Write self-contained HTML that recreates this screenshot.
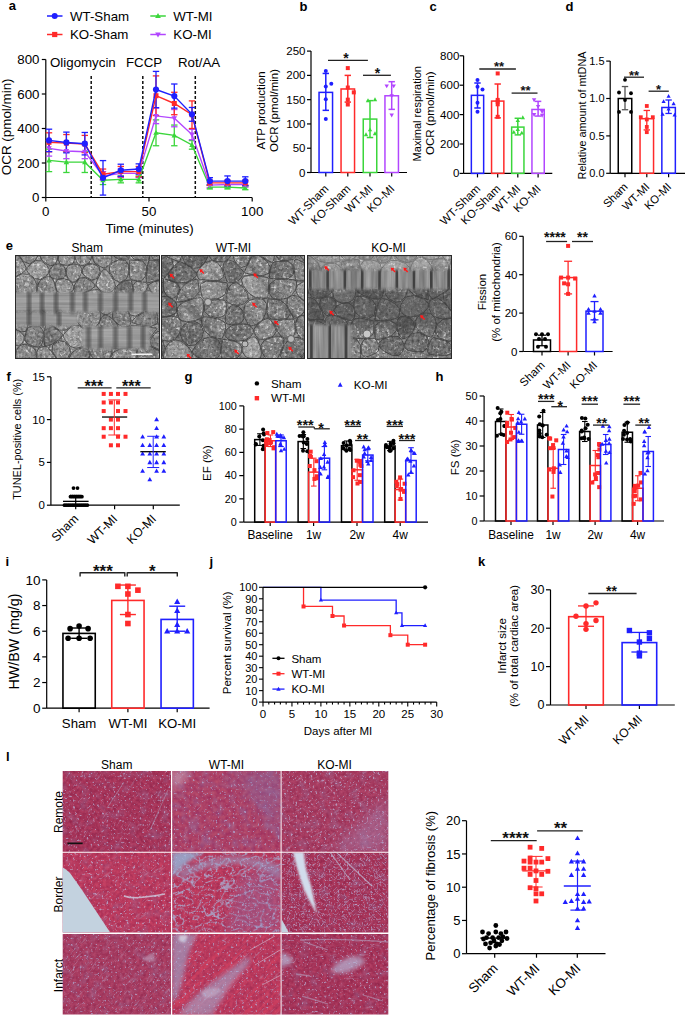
<!DOCTYPE html>
<html><head><meta charset="utf-8"><style>
html,body{margin:0;padding:0;background:#fff;overflow:hidden;width:685px;height:1016px;}
svg{display:block;font-family:"Liberation Sans", sans-serif;}
</style></head><body>
<svg width="685" height="1016" viewBox="0 0 685 1016">
<defs><filter id="emG1" x="0" y="0" width="100%" height="100%" filterUnits="objectBoundingBox" color-interpolation-filters="sRGB"><feTurbulence type="fractalNoise" baseFrequency="0.35" numOctaves="2" seed="3"/><feColorMatrix type="matrix" values="0.500 0 0 0 0.410 0.500 0 0 0 0.410 0.500 0 0 0 0.410 0 0 0 0 1.0"/></filter><filter id="emG2" x="0" y="0" width="100%" height="100%" filterUnits="objectBoundingBox" color-interpolation-filters="sRGB"><feTurbulence type="fractalNoise" baseFrequency="0.35" numOctaves="2" seed="11"/><feColorMatrix type="matrix" values="0.500 0 0 0 0.380 0.500 0 0 0 0.380 0.500 0 0 0 0.380 0 0 0 0 1.0"/></filter><filter id="emG3" x="0" y="0" width="100%" height="100%" filterUnits="objectBoundingBox" color-interpolation-filters="sRGB"><feTurbulence type="fractalNoise" baseFrequency="0.35" numOctaves="2" seed="17"/><feColorMatrix type="matrix" values="0.500 0 0 0 0.350 0.500 0 0 0 0.350 0.500 0 0 0 0.350 0 0 0 0 1.0"/></filter><filter id="emLow" x="0" y="0" width="100%" height="100%" filterUnits="objectBoundingBox" color-interpolation-filters="sRGB"><feTurbulence type="fractalNoise" baseFrequency="0.05" numOctaves="2" seed="9"/><feColorMatrix type="matrix" values="0.900 0 0 0 0.050 0.900 0 0 0 0.050 0.900 0 0 0 0.050 0 0 0 0 0.35"/></filter><filter id="emSpk" x="0" y="0" width="100%" height="100%" filterUnits="objectBoundingBox" color-interpolation-filters="sRGB"><feTurbulence type="fractalNoise" baseFrequency="0.3" numOctaves="2" seed="41"/><feColorMatrix type="matrix" values="0 0 0 0 0.92 0 0 0 0 0.92 0 0 0 0 0.92 6 0 0 0 -3.600"/><feComponentTransfer><feFuncA type="linear" slope="0.65" intercept="0"/></feComponentTransfer><feGaussianBlur stdDeviation="0.6"/></filter><filter id="emDk" x="0" y="0" width="100%" height="100%" filterUnits="objectBoundingBox" color-interpolation-filters="sRGB"><feTurbulence type="fractalNoise" baseFrequency="0.45" numOctaves="2" seed="42"/><feColorMatrix type="matrix" values="0 0 0 0 0.25 0 0 0 0 0.25 0 0 0 0 0.25 6 0 0 0 -3.840"/><feComponentTransfer><feFuncA type="linear" slope="0.45" intercept="0"/></feComponentTransfer><feGaussianBlur stdDeviation="0.4"/></filter><filter id="emBand" x="0" y="0" width="100%" height="100%" filterUnits="objectBoundingBox" color-interpolation-filters="sRGB"><feTurbulence type="fractalNoise" baseFrequency="0.015 0.35" numOctaves="2" seed="5"/><feColorMatrix type="matrix" values="0.220 0 0 0 0.490 0.220 0 0 0 0.490 0.220 0 0 0 0.490 0 0 0 0 1.0"/></filter><filter id="emBandV" x="0" y="0" width="100%" height="100%" filterUnits="objectBoundingBox" color-interpolation-filters="sRGB"><feTurbulence type="fractalNoise" baseFrequency="0.35 0.02" numOctaves="2" seed="6"/><feColorMatrix type="matrix" values="0.300 0 0 0 0.400 0.300 0 0 0 0.400 0.300 0 0 0 0.400 0 0 0 0 1.0"/></filter><filter id="blur05" x="-20%" y="-20%" width="140%" height="140%"><feGaussianBlur stdDeviation="0.45"/></filter><filter id="blur15" x="-20%" y="-20%" width="140%" height="140%"><feGaussianBlur stdDeviation="1.6"/></filter><filter id="blur2" x="-20%" y="-20%" width="140%" height="140%"><feGaussianBlur stdDeviation="2"/></filter><filter id="blur3" x="-20%" y="-20%" width="140%" height="140%"><feGaussianBlur stdDeviation="3"/></filter><clipPath id="emclip1"><rect x="15" y="255" width="145" height="104"/></clipPath><mask id="emmask1" maskUnits="userSpaceOnUse" x="5" y="245" width="165" height="124"><rect x="13" y="292" width="149" height="20" fill="#fff" filter="url(#blur15)"/><rect x="13" y="312" width="65" height="14" fill="#fff" filter="url(#blur15)"/><rect x="82" y="326" width="68" height="23" fill="#fff" filter="url(#blur15)"/></mask><clipPath id="emclip2"><rect x="161" y="255" width="144" height="104"/></clipPath><clipPath id="emclip3"><rect x="307" y="255" width="145" height="104"/></clipPath><mask id="emmask3" maskUnits="userSpaceOnUse" x="297" y="245" width="165" height="124"><rect x="305" y="270" width="149" height="19" fill="#fff" filter="url(#blur15)"/><rect x="305" y="325" width="47" height="36" fill="#fff" filter="url(#blur15)"/></mask><filter id="hb2" x="-30%" y="-30%" width="160%" height="160%"><feGaussianBlur stdDeviation="2"/></filter><filter id="hb4" x="-30%" y="-30%" width="160%" height="160%"><feGaussianBlur stdDeviation="4"/></filter><filter id="hb6" x="-30%" y="-30%" width="160%" height="160%"><feGaussianBlur stdDeviation="6"/></filter><filter id="hb1" x="-30%" y="-30%" width="160%" height="160%"><feGaussianBlur stdDeviation="0.8"/></filter><filter id="hRed1" x="0" y="0" width="100%" height="100%" filterUnits="objectBoundingBox" color-interpolation-filters="sRGB"><feTurbulence type="fractalNoise" baseFrequency="0.3" numOctaves="2" seed="21"/><feColorMatrix type="matrix" values="0.188 0 0 0 0.549 0.141 0 0 0 0.129 0.125 0 0 0 0.282 0 0 0 0 1.0"/></filter><filter id="hRed2" x="0" y="0" width="100%" height="100%" filterUnits="objectBoundingBox" color-interpolation-filters="sRGB"><feTurbulence type="fractalNoise" baseFrequency="0.3" numOctaves="2" seed="22"/><feColorMatrix type="matrix" values="0.173 0 0 0 0.561 0.157 0 0 0 0.149 0.141 0 0 0 0.302 0 0 0 0 1.0"/></filter><filter id="hRed3" x="0" y="0" width="100%" height="100%" filterUnits="objectBoundingBox" color-interpolation-filters="sRGB"><feTurbulence type="fractalNoise" baseFrequency="0.3" numOctaves="2" seed="24"/><feColorMatrix type="matrix" values="0.204 0 0 0 0.616 0.125 0 0 0 0.157 0.094 0 0 0 0.314 0 0 0 0 1.0"/></filter><filter id="hRedWT" x="0" y="0" width="100%" height="100%" filterUnits="objectBoundingBox" color-interpolation-filters="sRGB"><feTurbulence type="fractalNoise" baseFrequency="0.25" numOctaves="2" seed="23"/><feColorMatrix type="matrix" values="0.141 0 0 0 0.600 0.173 0 0 0 0.161 0.078 0 0 0 0.357 0 0 0 0 1.0"/></filter><filter id="hHaze" x="0" y="0" width="100%" height="100%" filterUnits="objectBoundingBox" color-interpolation-filters="sRGB"><feTurbulence type="fractalNoise" baseFrequency="0.1" numOctaves="2" seed="35"/><feColorMatrix type="matrix" values="0 0 0 0 0.549 0 0 0 0 0.565 0 0 0 0 0.753 3 0 0 0 -1.500"/><feComponentTransfer><feFuncA type="linear" slope="0.25" intercept="0"/></feComponentTransfer></filter><filter id="hSpk1" x="0" y="0" width="100%" height="100%" filterUnits="objectBoundingBox" color-interpolation-filters="sRGB"><feTurbulence type="fractalNoise" baseFrequency="0.45" numOctaves="2" seed="31"/><feColorMatrix type="matrix" values="0 0 0 0 0.722 0 0 0 0 0.714 0 0 0 0 0.863 6 0 0 0 -3.690"/><feComponentTransfer><feFuncA type="linear" slope="0.7" intercept="0"/></feComponentTransfer><feGaussianBlur stdDeviation="0.55"/></filter><filter id="hSpk2" x="0" y="0" width="100%" height="100%" filterUnits="objectBoundingBox" color-interpolation-filters="sRGB"><feTurbulence type="fractalNoise" baseFrequency="0.45" numOctaves="2" seed="32"/><feColorMatrix type="matrix" values="0 0 0 0 0.737 0 0 0 0 0.729 0 0 0 0 0.871 6 0 0 0 -3.660"/><feComponentTransfer><feFuncA type="linear" slope="0.7" intercept="0"/></feComponentTransfer><feGaussianBlur stdDeviation="0.55"/></filter><filter id="hSpk3" x="0" y="0" width="100%" height="100%" filterUnits="objectBoundingBox" color-interpolation-filters="sRGB"><feTurbulence type="fractalNoise" baseFrequency="0.45" numOctaves="2" seed="33"/><feColorMatrix type="matrix" values="0 0 0 0 0.690 0 0 0 0 0.698 0 0 0 0 0.855 6 0 0 0 -3.750"/><feComponentTransfer><feFuncA type="linear" slope="0.7" intercept="0"/></feComponentTransfer><feGaussianBlur stdDeviation="0.55"/></filter><filter id="hFibL" x="0" y="0" width="100%" height="100%" filterUnits="objectBoundingBox" color-interpolation-filters="sRGB"><feTurbulence type="fractalNoise" baseFrequency="0.07 0.6" numOctaves="2" seed="36"/><feColorMatrix type="matrix" values="0 0 0 0 0.722 0 0 0 0 0.745 0 0 0 0 0.871 8 0 0 0 -5.040"/><feComponentTransfer><feFuncA type="linear" slope="0.22" intercept="0"/></feComponentTransfer></filter><filter id="hFibL2" x="0" y="0" width="100%" height="100%" filterUnits="objectBoundingBox" color-interpolation-filters="sRGB"><feTurbulence type="fractalNoise" baseFrequency="0.07 0.6" numOctaves="2" seed="37"/><feColorMatrix type="matrix" values="0 0 0 0 0.722 0 0 0 0 0.745 0 0 0 0 0.871 8 0 0 0 -5.040"/><feComponentTransfer><feFuncA type="linear" slope="0.22" intercept="0"/></feComponentTransfer></filter><filter id="hFibB" x="0" y="0" width="100%" height="100%" filterUnits="objectBoundingBox" color-interpolation-filters="sRGB"><feTurbulence type="fractalNoise" baseFrequency="0.04 0.2" numOctaves="2" seed="25"/><feColorMatrix type="matrix" values="0 0 0 0 0.643 0 0 0 0 0.682 0 0 0 0 0.800 7 0 0 0 -3.710"/><feComponentTransfer><feFuncA type="linear" slope="0.95" intercept="0"/></feComponentTransfer></filter><filter id="hFibR" x="0" y="0" width="100%" height="100%" filterUnits="objectBoundingBox" color-interpolation-filters="sRGB"><feTurbulence type="fractalNoise" baseFrequency="0.02 0.25" numOctaves="2" seed="26"/><feColorMatrix type="matrix" values="0 0 0 0 0.847 0 0 0 0 0.251 0 0 0 0 0.369 6 0 0 0 -3.120"/><feComponentTransfer><feFuncA type="linear" slope="0.5" intercept="0"/></feComponentTransfer></filter><filter id="hBlueP" x="0" y="0" width="100%" height="100%" filterUnits="objectBoundingBox" color-interpolation-filters="sRGB"><feTurbulence type="fractalNoise" baseFrequency="0.08" numOctaves="2" seed="38"/><feColorMatrix type="matrix" values="0 0 0 0 0.541 0 0 0 0 0.471 0 0 0 0 0.690 4 0 0 0 -2.080"/><feComponentTransfer><feFuncA type="linear" slope="0.3" intercept="0"/></feComponentTransfer></filter><filter id="hNetWT" x="0" y="0" width="100%" height="100%" filterUnits="objectBoundingBox" color-interpolation-filters="sRGB"><feTurbulence type="turbulence" baseFrequency="0.08 0.13" numOctaves="1" seed="51"/><feColorMatrix type="matrix" values="0 0 0 0 0.659 0 0 0 0 0.659 0 0 0 0 0.800 -14 0 0 0 0.910"/><feComponentTransfer><feFuncA type="linear" slope="0.9" intercept="0"/></feComponentTransfer><feGaussianBlur stdDeviation="0.35"/></filter><filter id="hNetS" x="0" y="0" width="100%" height="100%" filterUnits="objectBoundingBox" color-interpolation-filters="sRGB"><feTurbulence type="turbulence" baseFrequency="0.2" numOctaves="1" seed="52"/><feColorMatrix type="matrix" values="0 0 0 0 0.706 0 0 0 0 0.690 0 0 0 0 0.847 -16 0 0 0 0.800"/><feComponentTransfer><feFuncA type="linear" slope="0.5" intercept="0"/></feComponentTransfer><feGaussianBlur stdDeviation="0.3"/></filter><clipPath id="hclip00"><rect x="62.7" y="771.0" width="108.3" height="80.7"/></clipPath><clipPath id="hclip01"><rect x="172.2" y="771.0" width="108.4" height="80.7"/></clipPath><clipPath id="hclip02"><rect x="281.6" y="771.0" width="106.7" height="80.7"/></clipPath><clipPath id="hclip10"><rect x="62.7" y="852.7" width="108.3" height="79.8"/></clipPath><clipPath id="hclip11"><rect x="172.2" y="852.7" width="108.4" height="79.8"/></clipPath><clipPath id="hclip12"><rect x="281.6" y="852.7" width="106.7" height="79.8"/></clipPath><clipPath id="hclip20"><rect x="62.7" y="933.9" width="108.3" height="80.5"/></clipPath><clipPath id="hclip21"><rect x="172.2" y="933.9" width="108.4" height="80.5"/></clipPath><clipPath id="hclip22"><rect x="281.6" y="933.9" width="106.7" height="80.5"/></clipPath></defs>
<rect width="685" height="1016" fill="#fff"/>
<text x="8.80" y="10.00" font-size="13" text-anchor="start" font-weight="bold" fill="#000">a</text>
<line x1="47.00" y1="16.00" x2="62.50" y2="16.00" stroke="#1f1fff" stroke-width="1.5"/>
<circle cx="54.70" cy="16.00" r="3.00" fill="#1f1fff"/>
<text x="70.00" y="20.50" font-size="13.3" text-anchor="start" fill="#000">WT-Sham</text>
<line x1="47.00" y1="34.50" x2="62.50" y2="34.50" stroke="#ff2a2a" stroke-width="1.5"/>
<rect x="52.10" y="31.90" width="5.20" height="5.20" fill="#ff2a2a"/>
<text x="70.00" y="39.00" font-size="13.3" text-anchor="start" fill="#000">KO-Sham</text>
<line x1="150.30" y1="16.00" x2="165.80" y2="16.00" stroke="#3bd63b" stroke-width="1.5"/>
<path d="M158.00,13.01L160.86,18.08L155.14,18.08Z" fill="#3bd63b"/>
<text x="173.30" y="20.50" font-size="13.3" text-anchor="start" fill="#000">WT-MI</text>
<line x1="150.30" y1="34.50" x2="165.80" y2="34.50" stroke="#b246ff" stroke-width="1.5"/>
<path d="M158.00,37.49L160.86,32.42L155.14,32.42Z" fill="#b246ff"/>
<text x="173.30" y="39.00" font-size="13.3" text-anchor="start" fill="#000">KO-MI</text>
<line x1="45.80" y1="59.50" x2="45.80" y2="197.50" stroke="#000" stroke-width="1.2"/>
<line x1="41.80" y1="59.50" x2="45.80" y2="59.50" stroke="#000" stroke-width="1.2"/>
<text x="39.50" y="64.16" font-size="13.3" text-anchor="end" fill="#000">800</text>
<line x1="41.80" y1="94.00" x2="45.80" y2="94.00" stroke="#000" stroke-width="1.2"/>
<text x="39.50" y="98.66" font-size="13.3" text-anchor="end" fill="#000">600</text>
<line x1="41.80" y1="128.50" x2="45.80" y2="128.50" stroke="#000" stroke-width="1.2"/>
<text x="39.50" y="133.16" font-size="13.3" text-anchor="end" fill="#000">400</text>
<line x1="41.80" y1="163.00" x2="45.80" y2="163.00" stroke="#000" stroke-width="1.2"/>
<text x="39.50" y="167.66" font-size="13.3" text-anchor="end" fill="#000">200</text>
<line x1="41.80" y1="197.50" x2="45.80" y2="197.50" stroke="#000" stroke-width="1.2"/>
<text x="39.50" y="202.16" font-size="13.3" text-anchor="end" fill="#000">0</text>
<line x1="45.80" y1="197.50" x2="252.00" y2="197.50" stroke="#000" stroke-width="1.2"/>
<line x1="45.80" y1="197.50" x2="45.80" y2="201.50" stroke="#000" stroke-width="1.2"/>
<line x1="149.00" y1="197.50" x2="149.00" y2="201.50" stroke="#000" stroke-width="1.2"/>
<line x1="252.20" y1="197.50" x2="252.20" y2="201.50" stroke="#000" stroke-width="1.2"/>
<text x="45.80" y="216.00" font-size="13.3" text-anchor="middle" fill="#000">0</text>
<text x="149.00" y="216.00" font-size="13.3" text-anchor="middle" fill="#000">50</text>
<text x="252.20" y="216.00" font-size="13.3" text-anchor="middle" fill="#000">100</text>
<text x="149.50" y="233.00" font-size="13.3" text-anchor="middle" fill="#000">Time (minutes)</text>
<text x="11.00" y="126.80" font-size="13.4" text-anchor="middle" fill="#000" transform="rotate(-90 11.00 126.80)">OCR (pmol/min)</text>
<line x1="91.20" y1="76.00" x2="91.20" y2="197.00" stroke="#111" stroke-width="1.5" stroke-dasharray="3,2"/>
<line x1="142.80" y1="76.00" x2="142.80" y2="197.00" stroke="#111" stroke-width="1.5" stroke-dasharray="3,2"/>
<line x1="195.30" y1="76.00" x2="195.30" y2="197.00" stroke="#111" stroke-width="1.5" stroke-dasharray="3,2"/>
<text x="50.00" y="66.50" font-size="13.3" text-anchor="start" fill="#000">Oligomycin</text>
<text x="126.00" y="66.50" font-size="13.3" text-anchor="start" fill="#000">FCCP</text>
<text x="178.00" y="66.50" font-size="13.3" text-anchor="start" fill="#000">Rot/AA</text>
<line x1="49.00" y1="149.20" x2="49.00" y2="171.62" stroke="#3bd63b" stroke-width="1.3"/>
<line x1="45.80" y1="149.20" x2="52.20" y2="149.20" stroke="#3bd63b" stroke-width="1.3"/>
<line x1="45.80" y1="171.62" x2="52.20" y2="171.62" stroke="#3bd63b" stroke-width="1.3"/>
<line x1="66.40" y1="151.79" x2="66.40" y2="172.49" stroke="#3bd63b" stroke-width="1.3"/>
<line x1="63.20" y1="151.79" x2="69.60" y2="151.79" stroke="#3bd63b" stroke-width="1.3"/>
<line x1="63.20" y1="172.49" x2="69.60" y2="172.49" stroke="#3bd63b" stroke-width="1.3"/>
<line x1="84.80" y1="151.79" x2="84.80" y2="172.49" stroke="#3bd63b" stroke-width="1.3"/>
<line x1="81.60" y1="151.79" x2="88.00" y2="151.79" stroke="#3bd63b" stroke-width="1.3"/>
<line x1="81.60" y1="172.49" x2="88.00" y2="172.49" stroke="#3bd63b" stroke-width="1.3"/>
<line x1="103.00" y1="175.94" x2="103.00" y2="184.56" stroke="#3bd63b" stroke-width="1.3"/>
<line x1="99.80" y1="175.94" x2="106.20" y2="175.94" stroke="#3bd63b" stroke-width="1.3"/>
<line x1="99.80" y1="184.56" x2="106.20" y2="184.56" stroke="#3bd63b" stroke-width="1.3"/>
<line x1="120.80" y1="175.94" x2="120.80" y2="182.84" stroke="#3bd63b" stroke-width="1.3"/>
<line x1="117.60" y1="175.94" x2="124.00" y2="175.94" stroke="#3bd63b" stroke-width="1.3"/>
<line x1="117.60" y1="182.84" x2="124.00" y2="182.84" stroke="#3bd63b" stroke-width="1.3"/>
<line x1="138.80" y1="175.94" x2="138.80" y2="182.84" stroke="#3bd63b" stroke-width="1.3"/>
<line x1="135.60" y1="175.94" x2="142.00" y2="175.94" stroke="#3bd63b" stroke-width="1.3"/>
<line x1="135.60" y1="182.84" x2="142.00" y2="182.84" stroke="#3bd63b" stroke-width="1.3"/>
<line x1="156.00" y1="119.88" x2="156.00" y2="145.75" stroke="#3bd63b" stroke-width="1.3"/>
<line x1="152.80" y1="119.88" x2="159.20" y2="119.88" stroke="#3bd63b" stroke-width="1.3"/>
<line x1="152.80" y1="145.75" x2="159.20" y2="145.75" stroke="#3bd63b" stroke-width="1.3"/>
<line x1="174.30" y1="125.05" x2="174.30" y2="145.75" stroke="#3bd63b" stroke-width="1.3"/>
<line x1="171.10" y1="125.05" x2="177.50" y2="125.05" stroke="#3bd63b" stroke-width="1.3"/>
<line x1="171.10" y1="145.75" x2="177.50" y2="145.75" stroke="#3bd63b" stroke-width="1.3"/>
<line x1="192.00" y1="140.57" x2="192.00" y2="149.20" stroke="#3bd63b" stroke-width="1.3"/>
<line x1="188.80" y1="140.57" x2="195.20" y2="140.57" stroke="#3bd63b" stroke-width="1.3"/>
<line x1="188.80" y1="149.20" x2="195.20" y2="149.20" stroke="#3bd63b" stroke-width="1.3"/>
<line x1="209.80" y1="185.43" x2="209.80" y2="188.88" stroke="#3bd63b" stroke-width="1.3"/>
<line x1="206.60" y1="185.43" x2="213.00" y2="185.43" stroke="#3bd63b" stroke-width="1.3"/>
<line x1="206.60" y1="188.88" x2="213.00" y2="188.88" stroke="#3bd63b" stroke-width="1.3"/>
<line x1="227.50" y1="185.43" x2="227.50" y2="188.88" stroke="#3bd63b" stroke-width="1.3"/>
<line x1="224.30" y1="185.43" x2="230.70" y2="185.43" stroke="#3bd63b" stroke-width="1.3"/>
<line x1="224.30" y1="188.88" x2="230.70" y2="188.88" stroke="#3bd63b" stroke-width="1.3"/>
<line x1="245.30" y1="186.29" x2="245.30" y2="189.74" stroke="#3bd63b" stroke-width="1.3"/>
<line x1="242.10" y1="186.29" x2="248.50" y2="186.29" stroke="#3bd63b" stroke-width="1.3"/>
<line x1="242.10" y1="189.74" x2="248.50" y2="189.74" stroke="#3bd63b" stroke-width="1.3"/>
<line x1="49.00" y1="140.57" x2="49.00" y2="156.10" stroke="#b246ff" stroke-width="1.3"/>
<line x1="45.80" y1="140.57" x2="52.20" y2="140.57" stroke="#b246ff" stroke-width="1.3"/>
<line x1="45.80" y1="156.10" x2="52.20" y2="156.10" stroke="#b246ff" stroke-width="1.3"/>
<line x1="66.40" y1="143.16" x2="66.40" y2="158.69" stroke="#b246ff" stroke-width="1.3"/>
<line x1="63.20" y1="143.16" x2="69.60" y2="143.16" stroke="#b246ff" stroke-width="1.3"/>
<line x1="63.20" y1="158.69" x2="69.60" y2="158.69" stroke="#b246ff" stroke-width="1.3"/>
<line x1="84.80" y1="144.89" x2="84.80" y2="158.69" stroke="#b246ff" stroke-width="1.3"/>
<line x1="81.60" y1="144.89" x2="88.00" y2="144.89" stroke="#b246ff" stroke-width="1.3"/>
<line x1="81.60" y1="158.69" x2="88.00" y2="158.69" stroke="#b246ff" stroke-width="1.3"/>
<line x1="103.00" y1="171.62" x2="103.00" y2="180.25" stroke="#b246ff" stroke-width="1.3"/>
<line x1="99.80" y1="171.62" x2="106.20" y2="171.62" stroke="#b246ff" stroke-width="1.3"/>
<line x1="99.80" y1="180.25" x2="106.20" y2="180.25" stroke="#b246ff" stroke-width="1.3"/>
<line x1="120.80" y1="169.04" x2="120.80" y2="177.66" stroke="#b246ff" stroke-width="1.3"/>
<line x1="117.60" y1="169.04" x2="124.00" y2="169.04" stroke="#b246ff" stroke-width="1.3"/>
<line x1="117.60" y1="177.66" x2="124.00" y2="177.66" stroke="#b246ff" stroke-width="1.3"/>
<line x1="138.80" y1="169.04" x2="138.80" y2="177.66" stroke="#b246ff" stroke-width="1.3"/>
<line x1="135.60" y1="169.04" x2="142.00" y2="169.04" stroke="#b246ff" stroke-width="1.3"/>
<line x1="135.60" y1="177.66" x2="142.00" y2="177.66" stroke="#b246ff" stroke-width="1.3"/>
<line x1="156.00" y1="108.15" x2="156.00" y2="123.67" stroke="#b246ff" stroke-width="1.3"/>
<line x1="152.80" y1="108.15" x2="159.20" y2="108.15" stroke="#b246ff" stroke-width="1.3"/>
<line x1="152.80" y1="123.67" x2="159.20" y2="123.67" stroke="#b246ff" stroke-width="1.3"/>
<line x1="174.30" y1="109.53" x2="174.30" y2="126.78" stroke="#b246ff" stroke-width="1.3"/>
<line x1="171.10" y1="109.53" x2="177.50" y2="109.53" stroke="#b246ff" stroke-width="1.3"/>
<line x1="171.10" y1="126.78" x2="177.50" y2="126.78" stroke="#b246ff" stroke-width="1.3"/>
<line x1="192.00" y1="129.36" x2="192.00" y2="139.71" stroke="#b246ff" stroke-width="1.3"/>
<line x1="188.80" y1="129.36" x2="195.20" y2="129.36" stroke="#b246ff" stroke-width="1.3"/>
<line x1="188.80" y1="139.71" x2="195.20" y2="139.71" stroke="#b246ff" stroke-width="1.3"/>
<line x1="209.80" y1="182.49" x2="209.80" y2="187.67" stroke="#b246ff" stroke-width="1.3"/>
<line x1="206.60" y1="182.49" x2="213.00" y2="182.49" stroke="#b246ff" stroke-width="1.3"/>
<line x1="206.60" y1="187.67" x2="213.00" y2="187.67" stroke="#b246ff" stroke-width="1.3"/>
<line x1="227.50" y1="181.97" x2="227.50" y2="187.15" stroke="#b246ff" stroke-width="1.3"/>
<line x1="224.30" y1="181.97" x2="230.70" y2="181.97" stroke="#b246ff" stroke-width="1.3"/>
<line x1="224.30" y1="187.15" x2="230.70" y2="187.15" stroke="#b246ff" stroke-width="1.3"/>
<line x1="245.30" y1="181.97" x2="245.30" y2="187.15" stroke="#b246ff" stroke-width="1.3"/>
<line x1="242.10" y1="181.97" x2="248.50" y2="181.97" stroke="#b246ff" stroke-width="1.3"/>
<line x1="242.10" y1="187.15" x2="248.50" y2="187.15" stroke="#b246ff" stroke-width="1.3"/>
<line x1="49.00" y1="132.81" x2="49.00" y2="151.79" stroke="#ff2a2a" stroke-width="1.3"/>
<line x1="45.80" y1="132.81" x2="52.20" y2="132.81" stroke="#ff2a2a" stroke-width="1.3"/>
<line x1="45.80" y1="151.79" x2="52.20" y2="151.79" stroke="#ff2a2a" stroke-width="1.3"/>
<line x1="66.40" y1="134.54" x2="66.40" y2="151.79" stroke="#ff2a2a" stroke-width="1.3"/>
<line x1="63.20" y1="134.54" x2="69.60" y2="134.54" stroke="#ff2a2a" stroke-width="1.3"/>
<line x1="63.20" y1="151.79" x2="69.60" y2="151.79" stroke="#ff2a2a" stroke-width="1.3"/>
<line x1="84.80" y1="135.40" x2="84.80" y2="152.65" stroke="#ff2a2a" stroke-width="1.3"/>
<line x1="81.60" y1="135.40" x2="88.00" y2="135.40" stroke="#ff2a2a" stroke-width="1.3"/>
<line x1="81.60" y1="152.65" x2="88.00" y2="152.65" stroke="#ff2a2a" stroke-width="1.3"/>
<line x1="103.00" y1="169.04" x2="103.00" y2="179.39" stroke="#ff2a2a" stroke-width="1.3"/>
<line x1="99.80" y1="169.04" x2="106.20" y2="169.04" stroke="#ff2a2a" stroke-width="1.3"/>
<line x1="99.80" y1="179.39" x2="106.20" y2="179.39" stroke="#ff2a2a" stroke-width="1.3"/>
<line x1="120.80" y1="166.45" x2="120.80" y2="176.80" stroke="#ff2a2a" stroke-width="1.3"/>
<line x1="117.60" y1="166.45" x2="124.00" y2="166.45" stroke="#ff2a2a" stroke-width="1.3"/>
<line x1="117.60" y1="176.80" x2="124.00" y2="176.80" stroke="#ff2a2a" stroke-width="1.3"/>
<line x1="138.80" y1="166.45" x2="138.80" y2="176.80" stroke="#ff2a2a" stroke-width="1.3"/>
<line x1="135.60" y1="166.45" x2="142.00" y2="166.45" stroke="#ff2a2a" stroke-width="1.3"/>
<line x1="135.60" y1="176.80" x2="142.00" y2="176.80" stroke="#ff2a2a" stroke-width="1.3"/>
<line x1="156.00" y1="75.89" x2="156.00" y2="115.56" stroke="#ff2a2a" stroke-width="1.3"/>
<line x1="152.80" y1="75.89" x2="159.20" y2="75.89" stroke="#ff2a2a" stroke-width="1.3"/>
<line x1="152.80" y1="115.56" x2="159.20" y2="115.56" stroke="#ff2a2a" stroke-width="1.3"/>
<line x1="174.30" y1="92.28" x2="174.30" y2="114.70" stroke="#ff2a2a" stroke-width="1.3"/>
<line x1="171.10" y1="92.28" x2="177.50" y2="92.28" stroke="#ff2a2a" stroke-width="1.3"/>
<line x1="171.10" y1="114.70" x2="177.50" y2="114.70" stroke="#ff2a2a" stroke-width="1.3"/>
<line x1="192.00" y1="100.90" x2="192.00" y2="128.50" stroke="#ff2a2a" stroke-width="1.3"/>
<line x1="188.80" y1="100.90" x2="195.20" y2="100.90" stroke="#ff2a2a" stroke-width="1.3"/>
<line x1="188.80" y1="128.50" x2="195.20" y2="128.50" stroke="#ff2a2a" stroke-width="1.3"/>
<line x1="209.80" y1="180.25" x2="209.80" y2="185.43" stroke="#ff2a2a" stroke-width="1.3"/>
<line x1="206.60" y1="180.25" x2="213.00" y2="180.25" stroke="#ff2a2a" stroke-width="1.3"/>
<line x1="206.60" y1="185.43" x2="213.00" y2="185.43" stroke="#ff2a2a" stroke-width="1.3"/>
<line x1="227.50" y1="180.25" x2="227.50" y2="185.43" stroke="#ff2a2a" stroke-width="1.3"/>
<line x1="224.30" y1="180.25" x2="230.70" y2="180.25" stroke="#ff2a2a" stroke-width="1.3"/>
<line x1="224.30" y1="185.43" x2="230.70" y2="185.43" stroke="#ff2a2a" stroke-width="1.3"/>
<line x1="245.30" y1="180.25" x2="245.30" y2="185.43" stroke="#ff2a2a" stroke-width="1.3"/>
<line x1="242.10" y1="180.25" x2="248.50" y2="180.25" stroke="#ff2a2a" stroke-width="1.3"/>
<line x1="242.10" y1="185.43" x2="248.50" y2="185.43" stroke="#ff2a2a" stroke-width="1.3"/>
<line x1="49.00" y1="129.19" x2="49.00" y2="151.62" stroke="#1f1fff" stroke-width="1.3"/>
<line x1="45.80" y1="129.19" x2="52.20" y2="129.19" stroke="#1f1fff" stroke-width="1.3"/>
<line x1="45.80" y1="151.62" x2="52.20" y2="151.62" stroke="#1f1fff" stroke-width="1.3"/>
<line x1="66.40" y1="132.12" x2="66.40" y2="152.82" stroke="#1f1fff" stroke-width="1.3"/>
<line x1="63.20" y1="132.12" x2="69.60" y2="132.12" stroke="#1f1fff" stroke-width="1.3"/>
<line x1="63.20" y1="152.82" x2="69.60" y2="152.82" stroke="#1f1fff" stroke-width="1.3"/>
<line x1="84.80" y1="132.47" x2="84.80" y2="154.89" stroke="#1f1fff" stroke-width="1.3"/>
<line x1="81.60" y1="132.47" x2="88.00" y2="132.47" stroke="#1f1fff" stroke-width="1.3"/>
<line x1="81.60" y1="154.89" x2="88.00" y2="154.89" stroke="#1f1fff" stroke-width="1.3"/>
<line x1="103.00" y1="160.59" x2="103.00" y2="195.09" stroke="#1f1fff" stroke-width="1.3"/>
<line x1="99.80" y1="160.59" x2="106.20" y2="160.59" stroke="#1f1fff" stroke-width="1.3"/>
<line x1="99.80" y1="195.09" x2="106.20" y2="195.09" stroke="#1f1fff" stroke-width="1.3"/>
<line x1="120.80" y1="164.21" x2="120.80" y2="176.28" stroke="#1f1fff" stroke-width="1.3"/>
<line x1="117.60" y1="164.21" x2="124.00" y2="164.21" stroke="#1f1fff" stroke-width="1.3"/>
<line x1="117.60" y1="176.28" x2="124.00" y2="176.28" stroke="#1f1fff" stroke-width="1.3"/>
<line x1="138.80" y1="163.86" x2="138.80" y2="174.21" stroke="#1f1fff" stroke-width="1.3"/>
<line x1="135.60" y1="163.86" x2="142.00" y2="163.86" stroke="#1f1fff" stroke-width="1.3"/>
<line x1="135.60" y1="174.21" x2="142.00" y2="174.21" stroke="#1f1fff" stroke-width="1.3"/>
<line x1="156.00" y1="71.40" x2="156.00" y2="107.63" stroke="#1f1fff" stroke-width="1.3"/>
<line x1="152.80" y1="71.40" x2="159.20" y2="71.40" stroke="#1f1fff" stroke-width="1.3"/>
<line x1="152.80" y1="107.63" x2="159.20" y2="107.63" stroke="#1f1fff" stroke-width="1.3"/>
<line x1="174.30" y1="84.00" x2="174.30" y2="108.15" stroke="#1f1fff" stroke-width="1.3"/>
<line x1="171.10" y1="84.00" x2="177.50" y2="84.00" stroke="#1f1fff" stroke-width="1.3"/>
<line x1="171.10" y1="108.15" x2="177.50" y2="108.15" stroke="#1f1fff" stroke-width="1.3"/>
<line x1="192.00" y1="107.46" x2="192.00" y2="121.26" stroke="#1f1fff" stroke-width="1.3"/>
<line x1="188.80" y1="107.46" x2="195.20" y2="107.46" stroke="#1f1fff" stroke-width="1.3"/>
<line x1="188.80" y1="121.26" x2="195.20" y2="121.26" stroke="#1f1fff" stroke-width="1.3"/>
<line x1="209.80" y1="177.66" x2="209.80" y2="184.56" stroke="#1f1fff" stroke-width="1.3"/>
<line x1="206.60" y1="177.66" x2="213.00" y2="177.66" stroke="#1f1fff" stroke-width="1.3"/>
<line x1="206.60" y1="184.56" x2="213.00" y2="184.56" stroke="#1f1fff" stroke-width="1.3"/>
<line x1="227.50" y1="175.94" x2="227.50" y2="186.29" stroke="#1f1fff" stroke-width="1.3"/>
<line x1="224.30" y1="175.94" x2="230.70" y2="175.94" stroke="#1f1fff" stroke-width="1.3"/>
<line x1="224.30" y1="186.29" x2="230.70" y2="186.29" stroke="#1f1fff" stroke-width="1.3"/>
<line x1="245.30" y1="176.80" x2="245.30" y2="185.43" stroke="#1f1fff" stroke-width="1.3"/>
<line x1="242.10" y1="176.80" x2="248.50" y2="176.80" stroke="#1f1fff" stroke-width="1.3"/>
<line x1="242.10" y1="185.43" x2="248.50" y2="185.43" stroke="#1f1fff" stroke-width="1.3"/>
<polyline points="49.00,160.41 66.40,162.14 84.80,162.14 103.00,180.25 120.80,179.39 138.80,179.39 156.00,132.81 174.30,135.40 192.00,144.89 209.80,187.15 227.50,187.15 245.30,188.01" fill="none" stroke="#3bd63b" stroke-width="1.4"/>
<path d="M49.00,157.54L51.75,162.41L46.25,162.41Z" fill="#3bd63b"/>
<path d="M66.40,159.26L69.15,164.14L63.65,164.14Z" fill="#3bd63b"/>
<path d="M84.80,159.26L87.55,164.14L82.05,164.14Z" fill="#3bd63b"/>
<path d="M103.00,177.38L105.75,182.25L100.25,182.25Z" fill="#3bd63b"/>
<path d="M120.80,176.51L123.55,181.39L118.05,181.39Z" fill="#3bd63b"/>
<path d="M138.80,176.51L141.55,181.39L136.05,181.39Z" fill="#3bd63b"/>
<path d="M156.00,129.94L158.75,134.81L153.25,134.81Z" fill="#3bd63b"/>
<path d="M174.30,132.53L177.05,137.40L171.55,137.40Z" fill="#3bd63b"/>
<path d="M192.00,142.01L194.75,146.89L189.25,146.89Z" fill="#3bd63b"/>
<path d="M209.80,184.28L212.55,189.15L207.05,189.15Z" fill="#3bd63b"/>
<path d="M227.50,184.28L230.25,189.15L224.75,189.15Z" fill="#3bd63b"/>
<path d="M245.30,185.14L248.05,190.01L242.55,190.01Z" fill="#3bd63b"/>
<polyline points="49.00,148.34 66.40,150.93 84.80,151.79 103.00,175.94 120.80,173.35 138.80,173.35 156.00,115.91 174.30,118.15 192.00,134.54 209.80,185.08 227.50,184.56 245.30,184.56" fill="none" stroke="#b246ff" stroke-width="1.4"/>
<path d="M49.00,151.21L51.75,146.34L46.25,146.34Z" fill="#b246ff"/>
<path d="M66.40,153.80L69.15,148.93L63.65,148.93Z" fill="#b246ff"/>
<path d="M84.80,154.66L87.55,149.79L82.05,149.79Z" fill="#b246ff"/>
<path d="M103.00,178.81L105.75,173.94L100.25,173.94Z" fill="#b246ff"/>
<path d="M120.80,176.22L123.55,171.35L118.05,171.35Z" fill="#b246ff"/>
<path d="M138.80,176.22L141.55,171.35L136.05,171.35Z" fill="#b246ff"/>
<path d="M156.00,118.78L158.75,113.91L153.25,113.91Z" fill="#b246ff"/>
<path d="M174.30,121.03L177.05,116.15L171.55,116.15Z" fill="#b246ff"/>
<path d="M192.00,137.41L194.75,132.54L189.25,132.54Z" fill="#b246ff"/>
<path d="M209.80,187.96L212.55,183.08L207.05,183.08Z" fill="#b246ff"/>
<path d="M227.50,187.44L230.25,182.56L224.75,182.56Z" fill="#b246ff"/>
<path d="M245.30,187.44L248.05,182.56L242.55,182.56Z" fill="#b246ff"/>
<polyline points="49.00,142.30 66.40,143.16 84.80,144.03 103.00,174.21 120.80,171.62 138.80,171.62 156.00,95.73 174.30,103.49 192.00,114.70 209.80,182.84 227.50,182.84 245.30,182.84" fill="none" stroke="#ff2a2a" stroke-width="1.4"/>
<rect x="46.50" y="139.80" width="5.00" height="5.00" fill="#ff2a2a"/>
<rect x="63.90" y="140.66" width="5.00" height="5.00" fill="#ff2a2a"/>
<rect x="82.30" y="141.53" width="5.00" height="5.00" fill="#ff2a2a"/>
<rect x="100.50" y="171.71" width="5.00" height="5.00" fill="#ff2a2a"/>
<rect x="118.30" y="169.12" width="5.00" height="5.00" fill="#ff2a2a"/>
<rect x="136.30" y="169.12" width="5.00" height="5.00" fill="#ff2a2a"/>
<rect x="153.50" y="93.23" width="5.00" height="5.00" fill="#ff2a2a"/>
<rect x="171.80" y="100.99" width="5.00" height="5.00" fill="#ff2a2a"/>
<rect x="189.50" y="112.20" width="5.00" height="5.00" fill="#ff2a2a"/>
<rect x="207.30" y="180.34" width="5.00" height="5.00" fill="#ff2a2a"/>
<rect x="225.00" y="180.34" width="5.00" height="5.00" fill="#ff2a2a"/>
<rect x="242.80" y="180.34" width="5.00" height="5.00" fill="#ff2a2a"/>
<polyline points="49.00,140.40 66.40,142.47 84.80,143.68 103.00,177.84 120.80,170.25 138.80,169.04 156.00,89.52 174.30,96.07 192.00,114.36 209.80,181.11 227.50,181.11 245.30,181.11" fill="none" stroke="#1f1fff" stroke-width="1.4"/>
<circle cx="49.00" cy="140.40" r="3.10" fill="#1f1fff"/>
<circle cx="66.40" cy="142.47" r="3.10" fill="#1f1fff"/>
<circle cx="84.80" cy="143.68" r="3.10" fill="#1f1fff"/>
<circle cx="103.00" cy="177.84" r="3.10" fill="#1f1fff"/>
<circle cx="120.80" cy="170.25" r="3.10" fill="#1f1fff"/>
<circle cx="138.80" cy="169.04" r="3.10" fill="#1f1fff"/>
<circle cx="156.00" cy="89.52" r="3.10" fill="#1f1fff"/>
<circle cx="174.30" cy="96.07" r="3.10" fill="#1f1fff"/>
<circle cx="192.00" cy="114.36" r="3.10" fill="#1f1fff"/>
<circle cx="209.80" cy="181.11" r="3.10" fill="#1f1fff"/>
<circle cx="227.50" cy="181.11" r="3.10" fill="#1f1fff"/>
<circle cx="245.30" cy="181.11" r="3.10" fill="#1f1fff"/>
<text x="299.50" y="10.50" font-size="13" text-anchor="start" font-weight="bold" fill="#000">b</text>
<line x1="311.00" y1="51.00" x2="311.00" y2="172.50" stroke="#000" stroke-width="1.2"/>
<line x1="307.00" y1="51.10" x2="311.00" y2="51.10" stroke="#000" stroke-width="1.2"/>
<text x="305.50" y="55.13" font-size="11.5" text-anchor="end" fill="#000">250</text>
<line x1="307.00" y1="75.38" x2="311.00" y2="75.38" stroke="#000" stroke-width="1.2"/>
<text x="305.50" y="79.41" font-size="11.5" text-anchor="end" fill="#000">200</text>
<line x1="307.00" y1="99.66" x2="311.00" y2="99.66" stroke="#000" stroke-width="1.2"/>
<text x="305.50" y="103.69" font-size="11.5" text-anchor="end" fill="#000">150</text>
<line x1="307.00" y1="123.94" x2="311.00" y2="123.94" stroke="#000" stroke-width="1.2"/>
<text x="305.50" y="127.97" font-size="11.5" text-anchor="end" fill="#000">100</text>
<line x1="307.00" y1="148.22" x2="311.00" y2="148.22" stroke="#000" stroke-width="1.2"/>
<text x="305.50" y="152.25" font-size="11.5" text-anchor="end" fill="#000">50</text>
<line x1="307.00" y1="172.50" x2="311.00" y2="172.50" stroke="#000" stroke-width="1.2"/>
<text x="305.50" y="176.53" font-size="11.5" text-anchor="end" fill="#000">0</text>
<line x1="311.00" y1="172.50" x2="407.00" y2="172.50" stroke="#000" stroke-width="1.2"/>
<line x1="325.80" y1="172.50" x2="325.80" y2="176.50" stroke="#000" stroke-width="1.2"/>
<line x1="347.80" y1="172.50" x2="347.80" y2="176.50" stroke="#000" stroke-width="1.2"/>
<line x1="370.00" y1="172.50" x2="370.00" y2="176.50" stroke="#000" stroke-width="1.2"/>
<line x1="391.70" y1="172.50" x2="391.70" y2="176.50" stroke="#000" stroke-width="1.2"/>
<rect x="319.05" y="92.38" width="13.50" height="80.12" fill="none" stroke="#1f1fff" stroke-width="1.5"/>
<line x1="325.80" y1="73.44" x2="325.80" y2="110.34" stroke="#1f1fff" stroke-width="1.5"/>
<line x1="322.60" y1="73.44" x2="329.00" y2="73.44" stroke="#1f1fff" stroke-width="1.5"/>
<line x1="322.60" y1="110.34" x2="329.00" y2="110.34" stroke="#1f1fff" stroke-width="1.5"/>
<circle cx="325.80" cy="71.01" r="2.00" fill="#1f1fff"/>
<circle cx="331.30" cy="83.64" r="2.00" fill="#1f1fff"/>
<circle cx="325.80" cy="86.55" r="2.00" fill="#1f1fff"/>
<circle cx="325.80" cy="99.17" r="2.00" fill="#1f1fff"/>
<circle cx="325.80" cy="119.08" r="2.00" fill="#1f1fff"/>
<rect x="341.05" y="88.98" width="13.50" height="83.52" fill="none" stroke="#ff2a2a" stroke-width="1.5"/>
<line x1="347.80" y1="75.38" x2="347.80" y2="102.09" stroke="#ff2a2a" stroke-width="1.5"/>
<line x1="344.60" y1="75.38" x2="351.00" y2="75.38" stroke="#ff2a2a" stroke-width="1.5"/>
<line x1="344.60" y1="102.09" x2="351.00" y2="102.09" stroke="#ff2a2a" stroke-width="1.5"/>
<rect x="345.80" y="66.10" width="4.00" height="4.00" fill="#ff2a2a"/>
<rect x="345.80" y="85.52" width="4.00" height="4.00" fill="#ff2a2a"/>
<rect x="351.80" y="90.38" width="4.00" height="4.00" fill="#ff2a2a"/>
<rect x="345.80" y="97.66" width="4.00" height="4.00" fill="#ff2a2a"/>
<rect x="345.80" y="102.52" width="4.00" height="4.00" fill="#ff2a2a"/>
<rect x="363.25" y="119.08" width="13.50" height="53.42" fill="none" stroke="#3bd63b" stroke-width="1.5"/>
<line x1="370.00" y1="100.63" x2="370.00" y2="137.54" stroke="#3bd63b" stroke-width="1.5"/>
<line x1="366.80" y1="100.63" x2="373.20" y2="100.63" stroke="#3bd63b" stroke-width="1.5"/>
<line x1="366.80" y1="137.54" x2="373.20" y2="137.54" stroke="#3bd63b" stroke-width="1.5"/>
<path d="M375.00,97.36L377.20,101.26L372.80,101.26Z" fill="#3bd63b"/>
<path d="M368.00,98.33L370.20,102.23L365.80,102.23Z" fill="#3bd63b"/>
<path d="M370.00,127.47L372.20,131.37L367.80,131.37Z" fill="#3bd63b"/>
<path d="M366.00,132.32L368.20,136.22L363.80,136.22Z" fill="#3bd63b"/>
<path d="M375.00,131.35L377.20,135.25L372.80,135.25Z" fill="#3bd63b"/>
<rect x="384.95" y="95.78" width="13.50" height="76.72" fill="none" stroke="#b246ff" stroke-width="1.5"/>
<line x1="391.70" y1="81.69" x2="391.70" y2="109.37" stroke="#b246ff" stroke-width="1.5"/>
<line x1="388.50" y1="81.69" x2="394.90" y2="81.69" stroke="#b246ff" stroke-width="1.5"/>
<line x1="388.50" y1="109.37" x2="394.90" y2="109.37" stroke="#b246ff" stroke-width="1.5"/>
<path d="M386.70,88.36L388.90,84.46L384.50,84.46Z" fill="#b246ff"/>
<path d="M393.70,88.36L395.90,84.46L391.50,84.46Z" fill="#b246ff"/>
<path d="M391.70,98.08L393.90,94.18L389.50,94.18Z" fill="#b246ff"/>
<path d="M391.70,117.50L393.90,113.60L389.50,113.60Z" fill="#b246ff"/>
<text x="264.50" y="110.50" font-size="11.5" text-anchor="middle" fill="#000" transform="rotate(-90 264.50 110.50)">ATP production</text>
<text x="277.50" y="110.50" font-size="11.5" text-anchor="middle" fill="#000" transform="rotate(-90 277.50 110.50)">OCR (pmol/min)</text>
<text x="329.30" y="189.50" font-size="11.5" text-anchor="end" fill="#000" transform="rotate(-45 329.30 189.50)">WT-Sham</text>
<text x="351.30" y="189.50" font-size="11.5" text-anchor="end" fill="#000" transform="rotate(-45 351.30 189.50)">KO-Sham</text>
<text x="373.50" y="189.50" font-size="11.5" text-anchor="end" fill="#000" transform="rotate(-45 373.50 189.50)">WT-MI</text>
<text x="395.20" y="189.50" font-size="11.5" text-anchor="end" fill="#000" transform="rotate(-45 395.20 189.50)">KO-MI</text>
<text x="429.50" y="10.50" font-size="13" text-anchor="start" font-weight="bold" fill="#000">c</text>
<line x1="463.60" y1="55.80" x2="463.60" y2="173.40" stroke="#000" stroke-width="1.2"/>
<line x1="459.60" y1="55.80" x2="463.60" y2="55.80" stroke="#000" stroke-width="1.2"/>
<text x="459.30" y="59.83" font-size="11.5" text-anchor="end" fill="#000">800</text>
<line x1="459.60" y1="85.20" x2="463.60" y2="85.20" stroke="#000" stroke-width="1.2"/>
<text x="459.30" y="89.23" font-size="11.5" text-anchor="end" fill="#000">600</text>
<line x1="459.60" y1="114.60" x2="463.60" y2="114.60" stroke="#000" stroke-width="1.2"/>
<text x="459.30" y="118.63" font-size="11.5" text-anchor="end" fill="#000">400</text>
<line x1="459.60" y1="144.00" x2="463.60" y2="144.00" stroke="#000" stroke-width="1.2"/>
<text x="459.30" y="148.03" font-size="11.5" text-anchor="end" fill="#000">200</text>
<line x1="459.60" y1="173.40" x2="463.60" y2="173.40" stroke="#000" stroke-width="1.2"/>
<text x="459.30" y="177.43" font-size="11.5" text-anchor="end" fill="#000">0</text>
<line x1="463.60" y1="173.40" x2="552.30" y2="173.40" stroke="#000" stroke-width="1.2"/>
<line x1="477.50" y1="173.40" x2="477.50" y2="177.40" stroke="#000" stroke-width="1.2"/>
<line x1="497.70" y1="173.40" x2="497.70" y2="177.40" stroke="#000" stroke-width="1.2"/>
<line x1="517.80" y1="173.40" x2="517.80" y2="177.40" stroke="#000" stroke-width="1.2"/>
<line x1="538.10" y1="173.40" x2="538.10" y2="177.40" stroke="#000" stroke-width="1.2"/>
<rect x="471.35" y="95.34" width="12.30" height="78.06" fill="none" stroke="#1f1fff" stroke-width="1.5"/>
<line x1="477.50" y1="83.00" x2="477.50" y2="107.99" stroke="#1f1fff" stroke-width="1.5"/>
<line x1="474.30" y1="83.00" x2="480.70" y2="83.00" stroke="#1f1fff" stroke-width="1.5"/>
<line x1="474.30" y1="107.99" x2="480.70" y2="107.99" stroke="#1f1fff" stroke-width="1.5"/>
<circle cx="477.50" cy="80.06" r="2.00" fill="#1f1fff"/>
<circle cx="482.50" cy="89.61" r="2.00" fill="#1f1fff"/>
<circle cx="477.50" cy="86.67" r="2.00" fill="#1f1fff"/>
<circle cx="477.50" cy="102.84" r="2.00" fill="#1f1fff"/>
<circle cx="477.50" cy="111.66" r="2.00" fill="#1f1fff"/>
<rect x="491.55" y="101.08" width="12.30" height="72.32" fill="none" stroke="#ff2a2a" stroke-width="1.5"/>
<line x1="497.70" y1="84.02" x2="497.70" y2="117.83" stroke="#ff2a2a" stroke-width="1.5"/>
<line x1="494.50" y1="84.02" x2="500.90" y2="84.02" stroke="#ff2a2a" stroke-width="1.5"/>
<line x1="494.50" y1="117.83" x2="500.90" y2="117.83" stroke="#ff2a2a" stroke-width="1.5"/>
<rect x="495.70" y="71.44" width="4.00" height="4.00" fill="#ff2a2a"/>
<rect x="495.70" y="97.90" width="4.00" height="4.00" fill="#ff2a2a"/>
<rect x="495.70" y="99.66" width="4.00" height="4.00" fill="#ff2a2a"/>
<rect x="495.70" y="102.31" width="4.00" height="4.00" fill="#ff2a2a"/>
<rect x="495.70" y="114.81" width="4.00" height="4.00" fill="#ff2a2a"/>
<rect x="511.65" y="127.09" width="12.30" height="46.31" fill="none" stroke="#3bd63b" stroke-width="1.5"/>
<line x1="517.80" y1="118.28" x2="517.80" y2="134.89" stroke="#3bd63b" stroke-width="1.5"/>
<line x1="514.60" y1="118.28" x2="521.00" y2="118.28" stroke="#3bd63b" stroke-width="1.5"/>
<line x1="514.60" y1="134.89" x2="521.00" y2="134.89" stroke="#3bd63b" stroke-width="1.5"/>
<path d="M522.80,115.24L525.00,119.14L520.60,119.14Z" fill="#3bd63b"/>
<path d="M517.80,118.18L520.00,122.08L515.60,122.08Z" fill="#3bd63b"/>
<path d="M517.80,127.00L520.00,130.90L515.60,130.90Z" fill="#3bd63b"/>
<path d="M513.80,129.94L516.00,133.84L511.60,133.84Z" fill="#3bd63b"/>
<path d="M521.80,130.68L524.00,134.58L519.60,134.58Z" fill="#3bd63b"/>
<rect x="531.95" y="109.46" width="12.30" height="63.94" fill="none" stroke="#b246ff" stroke-width="1.5"/>
<line x1="538.10" y1="101.37" x2="538.10" y2="116.07" stroke="#b246ff" stroke-width="1.5"/>
<line x1="534.90" y1="101.37" x2="541.30" y2="101.37" stroke="#b246ff" stroke-width="1.5"/>
<line x1="534.90" y1="116.07" x2="541.30" y2="116.07" stroke="#b246ff" stroke-width="1.5"/>
<path d="M534.10,102.20L536.30,98.30L531.90,98.30Z" fill="#b246ff"/>
<path d="M538.10,108.82L540.30,104.92L535.90,104.92Z" fill="#b246ff"/>
<path d="M542.10,113.96L544.30,110.06L539.90,110.06Z" fill="#b246ff"/>
<path d="M534.10,116.90L536.30,113.00L531.90,113.00Z" fill="#b246ff"/>
<path d="M542.10,117.64L544.30,113.74L539.90,113.74Z" fill="#b246ff"/>
<text x="421.00" y="113.70" font-size="11" text-anchor="middle" fill="#000" transform="rotate(-90 421.00 113.70)">Maximal respiration</text>
<text x="434.00" y="113.20" font-size="11.6" text-anchor="middle" fill="#000" transform="rotate(-90 434.00 113.20)">OCR (pmol/min)</text>
<text x="481.00" y="189.50" font-size="11.5" text-anchor="end" fill="#000" transform="rotate(-45 481.00 189.50)">WT-Sham</text>
<text x="501.20" y="189.50" font-size="11.5" text-anchor="end" fill="#000" transform="rotate(-45 501.20 189.50)">KO-Sham</text>
<text x="521.30" y="189.50" font-size="11.5" text-anchor="end" fill="#000" transform="rotate(-45 521.30 189.50)">WT-MI</text>
<text x="541.60" y="189.50" font-size="11.5" text-anchor="end" fill="#000" transform="rotate(-45 541.60 189.50)">KO-MI</text>
<text x="565.50" y="10.50" font-size="13" text-anchor="start" font-weight="bold" fill="#000">d</text>
<line x1="610.20" y1="61.00" x2="610.20" y2="173.30" stroke="#000" stroke-width="1.2"/>
<line x1="606.20" y1="61.10" x2="610.20" y2="61.10" stroke="#000" stroke-width="1.2"/>
<text x="604.50" y="64.95" font-size="11" text-anchor="end" fill="#000">1.5</text>
<line x1="606.20" y1="98.50" x2="610.20" y2="98.50" stroke="#000" stroke-width="1.2"/>
<text x="604.50" y="102.35" font-size="11" text-anchor="end" fill="#000">1.0</text>
<line x1="606.20" y1="135.90" x2="610.20" y2="135.90" stroke="#000" stroke-width="1.2"/>
<text x="604.50" y="139.75" font-size="11" text-anchor="end" fill="#000">0.5</text>
<line x1="606.20" y1="173.30" x2="610.20" y2="173.30" stroke="#000" stroke-width="1.2"/>
<text x="604.50" y="177.15" font-size="11" text-anchor="end" fill="#000">0.0</text>
<line x1="610.20" y1="173.30" x2="686.00" y2="173.30" stroke="#000" stroke-width="1.2"/>
<line x1="625.00" y1="173.30" x2="625.00" y2="177.30" stroke="#000" stroke-width="1.2"/>
<line x1="646.80" y1="173.30" x2="646.80" y2="177.30" stroke="#000" stroke-width="1.2"/>
<line x1="668.60" y1="173.30" x2="668.60" y2="177.30" stroke="#000" stroke-width="1.2"/>
<rect x="618.25" y="98.50" width="13.50" height="74.80" fill="none" stroke="#000" stroke-width="1.5"/>
<line x1="625.00" y1="86.53" x2="625.00" y2="109.72" stroke="#555" stroke-width="1.3"/>
<line x1="621.80" y1="86.53" x2="628.20" y2="86.53" stroke="#555" stroke-width="1.3"/>
<line x1="621.80" y1="109.72" x2="628.20" y2="109.72" stroke="#555" stroke-width="1.3"/>
<circle cx="625.00" cy="79.80" r="1.90" fill="#000"/>
<circle cx="619.00" cy="92.52" r="1.90" fill="#000"/>
<circle cx="631.00" cy="93.26" r="1.90" fill="#000"/>
<circle cx="625.00" cy="100.00" r="1.90" fill="#000"/>
<circle cx="619.00" cy="111.96" r="1.90" fill="#000"/>
<circle cx="631.00" cy="111.96" r="1.90" fill="#000"/>
<rect x="640.05" y="118.70" width="13.50" height="54.60" fill="none" stroke="#ff2a2a" stroke-width="1.5"/>
<line x1="646.80" y1="110.47" x2="646.80" y2="129.92" stroke="#ff2a2a" stroke-width="1.3"/>
<line x1="643.60" y1="110.47" x2="650.00" y2="110.47" stroke="#ff2a2a" stroke-width="1.3"/>
<line x1="643.60" y1="129.92" x2="650.00" y2="129.92" stroke="#ff2a2a" stroke-width="1.3"/>
<rect x="644.90" y="104.08" width="3.80" height="3.80" fill="#ff2a2a"/>
<rect x="638.90" y="115.30" width="3.80" height="3.80" fill="#ff2a2a"/>
<rect x="650.90" y="115.30" width="3.80" height="3.80" fill="#ff2a2a"/>
<rect x="644.90" y="117.54" width="3.80" height="3.80" fill="#ff2a2a"/>
<rect x="644.90" y="125.02" width="3.80" height="3.80" fill="#ff2a2a"/>
<rect x="644.90" y="130.26" width="3.80" height="3.80" fill="#ff2a2a"/>
<rect x="661.85" y="107.48" width="13.50" height="65.82" fill="none" stroke="#1f1fff" stroke-width="1.5"/>
<line x1="668.60" y1="100.00" x2="668.60" y2="113.46" stroke="#1f1fff" stroke-width="1.3"/>
<line x1="665.40" y1="100.00" x2="671.80" y2="100.00" stroke="#1f1fff" stroke-width="1.3"/>
<line x1="665.40" y1="113.46" x2="671.80" y2="113.46" stroke="#1f1fff" stroke-width="1.3"/>
<path d="M668.60,94.07L670.69,97.78L666.51,97.78Z" fill="#1f1fff"/>
<path d="M663.60,99.31L665.69,103.01L661.51,103.01Z" fill="#1f1fff"/>
<path d="M673.60,101.55L675.69,105.26L671.51,105.26Z" fill="#1f1fff"/>
<path d="M668.60,106.79L670.69,110.49L666.51,110.49Z" fill="#1f1fff"/>
<path d="M662.60,112.02L664.69,115.73L660.51,115.73Z" fill="#1f1fff"/>
<path d="M674.60,112.77L676.69,116.48L672.51,116.48Z" fill="#1f1fff"/>
<text x="585.50" y="115.50" font-size="10.8" text-anchor="middle" fill="#000" transform="rotate(-90 585.50 115.50)">Relative amount of mtDNA</text>
<text x="628.50" y="187.50" font-size="11.3" text-anchor="end" fill="#000" transform="rotate(-45 628.50 187.50)">Sham</text>
<text x="650.30" y="187.50" font-size="11.3" text-anchor="end" fill="#000" transform="rotate(-45 650.30 187.50)">WT-MI</text>
<text x="672.10" y="187.50" font-size="11.3" text-anchor="end" fill="#000" transform="rotate(-45 672.10 187.50)">KO-MI</text>
<text x="5.80" y="249.80" font-size="13" text-anchor="start" font-weight="bold" fill="#000">e</text>
<line x1="523.20" y1="236.20" x2="523.20" y2="351.50" stroke="#000" stroke-width="1.2"/>
<line x1="519.20" y1="236.30" x2="523.20" y2="236.30" stroke="#000" stroke-width="1.2"/>
<text x="517.50" y="240.33" font-size="11.5" text-anchor="end" fill="#000">60</text>
<line x1="519.20" y1="274.70" x2="523.20" y2="274.70" stroke="#000" stroke-width="1.2"/>
<text x="517.50" y="278.72" font-size="11.5" text-anchor="end" fill="#000">40</text>
<line x1="519.20" y1="313.10" x2="523.20" y2="313.10" stroke="#000" stroke-width="1.2"/>
<text x="517.50" y="317.12" font-size="11.5" text-anchor="end" fill="#000">20</text>
<line x1="519.20" y1="351.50" x2="523.20" y2="351.50" stroke="#000" stroke-width="1.2"/>
<text x="517.50" y="355.52" font-size="11.5" text-anchor="end" fill="#000">0</text>
<line x1="523.20" y1="351.50" x2="612.60" y2="351.50" stroke="#000" stroke-width="1.2"/>
<line x1="542.00" y1="351.50" x2="542.00" y2="355.50" stroke="#000" stroke-width="1.2"/>
<line x1="568.10" y1="351.50" x2="568.10" y2="355.50" stroke="#000" stroke-width="1.2"/>
<line x1="594.50" y1="351.50" x2="594.50" y2="355.50" stroke="#000" stroke-width="1.2"/>
<rect x="533.50" y="339.98" width="17.00" height="11.52" fill="none" stroke="#000" stroke-width="1.5"/>
<line x1="542.00" y1="335.18" x2="542.00" y2="345.74" stroke="#000" stroke-width="1.3"/>
<line x1="538.00" y1="335.18" x2="546.00" y2="335.18" stroke="#000" stroke-width="1.3"/>
<line x1="538.00" y1="345.74" x2="546.00" y2="345.74" stroke="#000" stroke-width="1.3"/>
<circle cx="536.00" cy="334.22" r="2.00" fill="#000"/>
<circle cx="542.00" cy="334.22" r="2.00" fill="#000"/>
<circle cx="548.00" cy="334.22" r="2.00" fill="#000"/>
<circle cx="539.00" cy="339.02" r="2.00" fill="#000"/>
<circle cx="545.00" cy="339.02" r="2.00" fill="#000"/>
<circle cx="538.00" cy="346.70" r="2.00" fill="#000"/>
<circle cx="546.00" cy="346.70" r="2.00" fill="#000"/>
<rect x="559.60" y="277.58" width="17.00" height="73.92" fill="none" stroke="#ff2a2a" stroke-width="1.5"/>
<line x1="568.10" y1="261.26" x2="568.10" y2="293.90" stroke="#ff2a2a" stroke-width="1.3"/>
<line x1="564.10" y1="261.26" x2="572.10" y2="261.26" stroke="#ff2a2a" stroke-width="1.3"/>
<line x1="564.10" y1="293.90" x2="572.10" y2="293.90" stroke="#ff2a2a" stroke-width="1.3"/>
<rect x="566.10" y="243.90" width="4.00" height="4.00" fill="#ff2a2a"/>
<rect x="559.10" y="275.58" width="4.00" height="4.00" fill="#ff2a2a"/>
<rect x="566.10" y="275.58" width="4.00" height="4.00" fill="#ff2a2a"/>
<rect x="573.10" y="276.54" width="4.00" height="4.00" fill="#ff2a2a"/>
<rect x="566.10" y="282.30" width="4.00" height="4.00" fill="#ff2a2a"/>
<rect x="562.10" y="281.34" width="4.00" height="4.00" fill="#ff2a2a"/>
<rect x="566.10" y="291.90" width="4.00" height="4.00" fill="#ff2a2a"/>
<rect x="586.00" y="311.18" width="17.00" height="40.32" fill="none" stroke="#1f1fff" stroke-width="1.5"/>
<line x1="594.50" y1="301.58" x2="594.50" y2="319.82" stroke="#1f1fff" stroke-width="1.3"/>
<line x1="590.50" y1="301.58" x2="598.50" y2="301.58" stroke="#1f1fff" stroke-width="1.3"/>
<line x1="590.50" y1="319.82" x2="598.50" y2="319.82" stroke="#1f1fff" stroke-width="1.3"/>
<path d="M594.50,293.52L596.70,297.42L592.30,297.42Z" fill="#1f1fff"/>
<path d="M588.50,306.96L590.70,310.86L586.30,310.86Z" fill="#1f1fff"/>
<path d="M600.50,306.96L602.70,310.86L598.30,310.86Z" fill="#1f1fff"/>
<path d="M594.50,308.88L596.70,312.78L592.30,312.78Z" fill="#1f1fff"/>
<path d="M600.50,310.80L602.70,314.70L598.30,314.70Z" fill="#1f1fff"/>
<path d="M588.50,310.80L590.70,314.70L586.30,314.70Z" fill="#1f1fff"/>
<path d="M594.50,316.56L596.70,320.46L592.30,320.46Z" fill="#1f1fff"/>
<path d="M594.50,319.44L596.70,323.34L592.30,323.34Z" fill="#1f1fff"/>
<text x="486.00" y="292.00" font-size="11.5" text-anchor="middle" fill="#000" transform="rotate(-90 486.00 292.00)">Fission</text>
<text x="499.50" y="292.00" font-size="11.5" text-anchor="middle" fill="#000" transform="rotate(-90 499.50 292.00)">(% of mitochondria)</text>
<text x="545.50" y="366.00" font-size="11.5" text-anchor="end" fill="#000" transform="rotate(-45 545.50 366.00)">Sham</text>
<text x="571.60" y="366.00" font-size="11.5" text-anchor="end" fill="#000" transform="rotate(-45 571.60 366.00)">WT-MI</text>
<text x="598.00" y="366.00" font-size="11.5" text-anchor="end" fill="#000" transform="rotate(-45 598.00 366.00)">KO-MI</text>
<text x="87.30" y="252.00" font-size="12" text-anchor="middle" fill="#000">Sham</text>
<text x="233.50" y="252.00" font-size="12" text-anchor="middle" fill="#000">WT-MI</text>
<text x="388.50" y="252.00" font-size="12" text-anchor="middle" fill="#000">KO-MI</text>
<text x="6.50" y="381.00" font-size="13" text-anchor="start" font-weight="bold" fill="#000">f</text>
<line x1="50.90" y1="376.90" x2="50.90" y2="505.20" stroke="#000" stroke-width="1.2"/>
<line x1="46.90" y1="376.80" x2="50.90" y2="376.80" stroke="#000" stroke-width="1.2"/>
<text x="45.00" y="380.82" font-size="11.5" text-anchor="end" fill="#000">15</text>
<line x1="46.90" y1="419.60" x2="50.90" y2="419.60" stroke="#000" stroke-width="1.2"/>
<text x="45.00" y="423.62" font-size="11.5" text-anchor="end" fill="#000">10</text>
<line x1="46.90" y1="462.40" x2="50.90" y2="462.40" stroke="#000" stroke-width="1.2"/>
<text x="45.00" y="466.42" font-size="11.5" text-anchor="end" fill="#000">5</text>
<line x1="46.90" y1="505.20" x2="50.90" y2="505.20" stroke="#000" stroke-width="1.2"/>
<text x="45.00" y="509.22" font-size="11.5" text-anchor="end" fill="#000">0</text>
<line x1="50.90" y1="505.20" x2="179.80" y2="505.20" stroke="#000" stroke-width="1.2"/>
<line x1="75.70" y1="505.20" x2="75.70" y2="509.20" stroke="#000" stroke-width="1.2"/>
<line x1="114.60" y1="505.20" x2="114.60" y2="509.20" stroke="#000" stroke-width="1.2"/>
<line x1="153.30" y1="505.20" x2="153.30" y2="509.20" stroke="#000" stroke-width="1.2"/>
<circle cx="64.50" cy="505.20" r="1.90" fill="#000"/>
<circle cx="66.40" cy="505.20" r="1.90" fill="#000"/>
<circle cx="68.30" cy="505.20" r="1.90" fill="#000"/>
<circle cx="70.20" cy="505.20" r="1.90" fill="#000"/>
<circle cx="72.10" cy="505.20" r="1.90" fill="#000"/>
<circle cx="74.00" cy="505.20" r="1.90" fill="#000"/>
<circle cx="75.90" cy="505.20" r="1.90" fill="#000"/>
<circle cx="77.80" cy="505.20" r="1.90" fill="#000"/>
<circle cx="79.70" cy="505.20" r="1.90" fill="#000"/>
<circle cx="81.60" cy="505.20" r="1.90" fill="#000"/>
<circle cx="83.50" cy="505.20" r="1.90" fill="#000"/>
<circle cx="85.40" cy="505.20" r="1.90" fill="#000"/>
<circle cx="87.30" cy="505.20" r="1.90" fill="#000"/>
<circle cx="70.50" cy="496.64" r="1.90" fill="#000"/>
<circle cx="72.40" cy="496.64" r="1.90" fill="#000"/>
<circle cx="74.30" cy="496.64" r="1.90" fill="#000"/>
<circle cx="76.20" cy="496.64" r="1.90" fill="#000"/>
<circle cx="78.10" cy="496.64" r="1.90" fill="#000"/>
<circle cx="80.00" cy="496.64" r="1.90" fill="#000"/>
<circle cx="81.90" cy="496.64" r="1.90" fill="#000"/>
<circle cx="73.50" cy="488.08" r="1.90" fill="#000"/>
<circle cx="77.50" cy="488.08" r="1.90" fill="#000"/>
<line x1="63.00" y1="501.35" x2="88.60" y2="501.35" stroke="#000" stroke-width="1.3"/>
<line x1="75.70" y1="495.36" x2="75.70" y2="505.20" stroke="#000" stroke-width="1.2"/>
<line x1="70.00" y1="495.36" x2="81.50" y2="495.36" stroke="#000" stroke-width="1.2"/>
<rect x="101.70" y="391.92" width="4.00" height="4.00" fill="#ff2a2a"/>
<rect x="108.90" y="391.92" width="4.00" height="4.00" fill="#ff2a2a"/>
<rect x="116.00" y="391.92" width="4.00" height="4.00" fill="#ff2a2a"/>
<rect x="123.50" y="391.92" width="4.00" height="4.00" fill="#ff2a2a"/>
<rect x="101.70" y="400.48" width="4.00" height="4.00" fill="#ff2a2a"/>
<rect x="108.90" y="400.48" width="4.00" height="4.00" fill="#ff2a2a"/>
<rect x="116.00" y="400.48" width="4.00" height="4.00" fill="#ff2a2a"/>
<rect x="101.70" y="409.04" width="4.00" height="4.00" fill="#ff2a2a"/>
<rect x="116.00" y="409.04" width="4.00" height="4.00" fill="#ff2a2a"/>
<rect x="123.50" y="409.04" width="4.00" height="4.00" fill="#ff2a2a"/>
<rect x="108.90" y="417.60" width="4.00" height="4.00" fill="#ff2a2a"/>
<rect x="116.00" y="417.60" width="4.00" height="4.00" fill="#ff2a2a"/>
<rect x="101.70" y="426.16" width="4.00" height="4.00" fill="#ff2a2a"/>
<rect x="108.90" y="426.16" width="4.00" height="4.00" fill="#ff2a2a"/>
<rect x="116.00" y="426.16" width="4.00" height="4.00" fill="#ff2a2a"/>
<rect x="101.70" y="434.72" width="4.00" height="4.00" fill="#ff2a2a"/>
<rect x="116.00" y="434.72" width="4.00" height="4.00" fill="#ff2a2a"/>
<rect x="123.50" y="434.72" width="4.00" height="4.00" fill="#ff2a2a"/>
<rect x="108.90" y="443.28" width="4.00" height="4.00" fill="#ff2a2a"/>
<rect x="116.00" y="443.28" width="4.00" height="4.00" fill="#ff2a2a"/>
<line x1="102.00" y1="417.03" x2="127.20" y2="417.03" stroke="#000" stroke-width="1.3"/>
<line x1="114.30" y1="399.91" x2="114.30" y2="435.01" stroke="#ff2a2a" stroke-width="1.0"/>
<line x1="108.30" y1="399.91" x2="120.30" y2="399.91" stroke="#ff2a2a" stroke-width="1.0"/>
<line x1="108.30" y1="435.01" x2="120.30" y2="435.01" stroke="#ff2a2a" stroke-width="1.0"/>
<path d="M156.60,417.07L159.02,421.36L154.18,421.36Z" fill="#1f1fff"/>
<path d="M156.60,425.63L159.02,429.92L154.18,429.92Z" fill="#1f1fff"/>
<path d="M142.60,434.19L145.02,438.48L140.18,438.48Z" fill="#1f1fff"/>
<path d="M156.60,434.19L159.02,438.48L154.18,438.48Z" fill="#1f1fff"/>
<path d="M163.80,434.19L166.22,438.48L161.38,438.48Z" fill="#1f1fff"/>
<path d="M142.60,442.75L145.02,447.04L140.18,447.04Z" fill="#1f1fff"/>
<path d="M149.80,442.75L152.22,447.04L147.38,447.04Z" fill="#1f1fff"/>
<path d="M156.60,442.75L159.02,447.04L154.18,447.04Z" fill="#1f1fff"/>
<path d="M163.80,442.75L166.22,447.04L161.38,447.04Z" fill="#1f1fff"/>
<path d="M142.60,451.31L145.02,455.60L140.18,455.60Z" fill="#1f1fff"/>
<path d="M149.80,451.31L152.22,455.60L147.38,455.60Z" fill="#1f1fff"/>
<path d="M156.60,451.31L159.02,455.60L154.18,455.60Z" fill="#1f1fff"/>
<path d="M163.80,451.31L166.22,455.60L161.38,455.60Z" fill="#1f1fff"/>
<path d="M149.80,459.87L152.22,464.16L147.38,464.16Z" fill="#1f1fff"/>
<path d="M156.60,459.87L159.02,464.16L154.18,464.16Z" fill="#1f1fff"/>
<path d="M163.80,459.87L166.22,464.16L161.38,464.16Z" fill="#1f1fff"/>
<path d="M142.60,468.43L145.02,472.72L140.18,472.72Z" fill="#1f1fff"/>
<path d="M156.60,468.43L159.02,472.72L154.18,472.72Z" fill="#1f1fff"/>
<path d="M163.80,468.43L166.22,472.72L161.38,472.72Z" fill="#1f1fff"/>
<path d="M149.80,476.99L152.22,481.28L147.38,481.28Z" fill="#1f1fff"/>
<line x1="140.30" y1="451.70" x2="165.80" y2="451.70" stroke="#000" stroke-width="1.3"/>
<line x1="153.20" y1="436.29" x2="153.20" y2="467.54" stroke="#1f1fff" stroke-width="1.0"/>
<line x1="147.20" y1="436.29" x2="159.20" y2="436.29" stroke="#1f1fff" stroke-width="1.0"/>
<line x1="147.20" y1="467.54" x2="159.20" y2="467.54" stroke="#1f1fff" stroke-width="1.0"/>
<text x="21.30" y="439.30" font-size="10.9" text-anchor="middle" fill="#000" transform="rotate(-90 21.30 439.30)">TUNEL-positive cells (%)</text>
<text x="79.20" y="519.50" font-size="12.3" text-anchor="end" fill="#000" transform="rotate(-45 79.20 519.50)">Sham</text>
<text x="118.10" y="519.50" font-size="12.3" text-anchor="end" fill="#000" transform="rotate(-45 118.10 519.50)">WT-MI</text>
<text x="156.80" y="519.50" font-size="12.3" text-anchor="end" fill="#000" transform="rotate(-45 156.80 519.50)">KO-MI</text>
<text x="184.50" y="381.00" font-size="13" text-anchor="start" font-weight="bold" fill="#000">g</text>
<line x1="243.80" y1="405.90" x2="243.80" y2="522.10" stroke="#000" stroke-width="1.2"/>
<line x1="239.30" y1="405.90" x2="243.80" y2="405.90" stroke="#000" stroke-width="1.2"/>
<text x="236.80" y="409.68" font-size="10.8" text-anchor="end" fill="#000">100</text>
<line x1="239.30" y1="429.14" x2="243.80" y2="429.14" stroke="#000" stroke-width="1.2"/>
<text x="236.80" y="432.92" font-size="10.8" text-anchor="end" fill="#000">80</text>
<line x1="239.30" y1="452.38" x2="243.80" y2="452.38" stroke="#000" stroke-width="1.2"/>
<text x="236.80" y="456.16" font-size="10.8" text-anchor="end" fill="#000">60</text>
<line x1="239.30" y1="475.62" x2="243.80" y2="475.62" stroke="#000" stroke-width="1.2"/>
<text x="236.80" y="479.40" font-size="10.8" text-anchor="end" fill="#000">40</text>
<line x1="239.30" y1="498.86" x2="243.80" y2="498.86" stroke="#000" stroke-width="1.2"/>
<text x="236.80" y="502.64" font-size="10.8" text-anchor="end" fill="#000">20</text>
<line x1="239.30" y1="522.10" x2="243.80" y2="522.10" stroke="#000" stroke-width="1.2"/>
<text x="236.80" y="525.88" font-size="10.8" text-anchor="end" fill="#000">0</text>
<line x1="243.80" y1="522.10" x2="428.00" y2="522.10" stroke="#000" stroke-width="1.2"/>
<line x1="270.20" y1="522.10" x2="270.20" y2="526.10" stroke="#000" stroke-width="1.2"/>
<line x1="313.60" y1="522.10" x2="313.60" y2="526.10" stroke="#000" stroke-width="1.2"/>
<line x1="357.00" y1="522.10" x2="357.00" y2="526.10" stroke="#000" stroke-width="1.2"/>
<line x1="400.20" y1="522.10" x2="400.20" y2="526.10" stroke="#000" stroke-width="1.2"/>
<rect x="254.70" y="439.60" width="10.40" height="82.50" fill="none" stroke="#000" stroke-width="1.5"/>
<line x1="259.90" y1="433.79" x2="259.90" y2="445.41" stroke="#000" stroke-width="1.1"/>
<line x1="257.10" y1="433.79" x2="262.70" y2="433.79" stroke="#000" stroke-width="1.1"/>
<line x1="257.10" y1="445.41" x2="262.70" y2="445.41" stroke="#000" stroke-width="1.1"/>
<circle cx="263.10" cy="429.60" r="2.00" fill="#000"/>
<circle cx="263.09" cy="448.96" r="2.00" fill="#000"/>
<circle cx="255.77" cy="444.57" r="2.00" fill="#000"/>
<circle cx="263.68" cy="433.24" r="2.00" fill="#000"/>
<circle cx="263.52" cy="445.63" r="2.00" fill="#000"/>
<circle cx="262.86" cy="449.34" r="2.00" fill="#000"/>
<circle cx="255.90" cy="444.05" r="2.00" fill="#000"/>
<circle cx="264.01" cy="434.56" r="2.00" fill="#000"/>
<circle cx="262.85" cy="440.28" r="2.00" fill="#000"/>
<circle cx="259.26" cy="436.51" r="2.00" fill="#000"/>
<rect x="265.20" y="440.76" width="10.40" height="81.34" fill="none" stroke="#ff2a2a" stroke-width="1.5"/>
<line x1="270.40" y1="434.95" x2="270.40" y2="446.57" stroke="#ff2a2a" stroke-width="1.1"/>
<line x1="267.60" y1="434.95" x2="273.20" y2="434.95" stroke="#ff2a2a" stroke-width="1.1"/>
<line x1="267.60" y1="446.57" x2="273.20" y2="446.57" stroke="#ff2a2a" stroke-width="1.1"/>
<rect x="272.10" y="445.22" width="4.00" height="4.00" fill="#ff2a2a"/>
<rect x="271.55" y="446.37" width="4.00" height="4.00" fill="#ff2a2a"/>
<rect x="269.07" y="440.21" width="4.00" height="4.00" fill="#ff2a2a"/>
<rect x="267.61" y="437.96" width="4.00" height="4.00" fill="#ff2a2a"/>
<rect x="264.55" y="442.98" width="4.00" height="4.00" fill="#ff2a2a"/>
<rect x="264.93" y="437.27" width="4.00" height="4.00" fill="#ff2a2a"/>
<rect x="264.17" y="439.00" width="4.00" height="4.00" fill="#ff2a2a"/>
<rect x="265.37" y="431.04" width="4.00" height="4.00" fill="#ff2a2a"/>
<rect x="271.21" y="430.10" width="4.00" height="4.00" fill="#ff2a2a"/>
<rect x="268.11" y="441.11" width="4.00" height="4.00" fill="#ff2a2a"/>
<rect x="275.80" y="440.76" width="10.40" height="81.34" fill="none" stroke="#1f1fff" stroke-width="1.5"/>
<line x1="281.00" y1="434.95" x2="281.00" y2="446.57" stroke="#1f1fff" stroke-width="1.1"/>
<line x1="278.20" y1="434.95" x2="283.80" y2="434.95" stroke="#1f1fff" stroke-width="1.1"/>
<line x1="278.20" y1="446.57" x2="283.80" y2="446.57" stroke="#1f1fff" stroke-width="1.1"/>
<path d="M280.79,442.80L282.99,446.70L278.59,446.70Z" fill="#1f1fff"/>
<path d="M280.35,441.55L282.55,445.45L278.15,445.45Z" fill="#1f1fff"/>
<path d="M278.28,434.20L280.48,438.10L276.08,438.10Z" fill="#1f1fff"/>
<path d="M281.34,434.23L283.54,438.13L279.14,438.13Z" fill="#1f1fff"/>
<path d="M277.39,433.71L279.59,437.61L275.19,437.61Z" fill="#1f1fff"/>
<path d="M283.95,435.26L286.15,439.16L281.75,439.16Z" fill="#1f1fff"/>
<path d="M280.47,432.99L282.67,436.89L278.27,436.89Z" fill="#1f1fff"/>
<path d="M284.22,446.91L286.42,450.81L282.02,450.81Z" fill="#1f1fff"/>
<path d="M276.79,431.81L278.99,435.71L274.59,435.71Z" fill="#1f1fff"/>
<path d="M281.01,448.27L283.21,452.17L278.81,452.17Z" fill="#1f1fff"/>
<rect x="298.10" y="441.57" width="10.40" height="80.53" fill="none" stroke="#000" stroke-width="1.5"/>
<line x1="303.30" y1="434.60" x2="303.30" y2="448.55" stroke="#000" stroke-width="1.1"/>
<line x1="300.50" y1="434.60" x2="306.10" y2="434.60" stroke="#000" stroke-width="1.1"/>
<line x1="300.50" y1="448.55" x2="306.10" y2="448.55" stroke="#000" stroke-width="1.1"/>
<circle cx="303.15" cy="435.87" r="2.00" fill="#000"/>
<circle cx="303.70" cy="442.45" r="2.00" fill="#000"/>
<circle cx="303.71" cy="436.35" r="2.00" fill="#000"/>
<circle cx="303.03" cy="450.81" r="2.00" fill="#000"/>
<circle cx="306.73" cy="444.03" r="2.00" fill="#000"/>
<circle cx="302.88" cy="436.55" r="2.00" fill="#000"/>
<circle cx="307.24" cy="451.32" r="2.00" fill="#000"/>
<circle cx="303.38" cy="432.21" r="2.00" fill="#000"/>
<circle cx="299.58" cy="435.90" r="2.00" fill="#000"/>
<circle cx="307.41" cy="439.01" r="2.00" fill="#000"/>
<rect x="308.60" y="472.13" width="10.40" height="49.97" fill="none" stroke="#ff2a2a" stroke-width="1.5"/>
<line x1="313.80" y1="458.19" x2="313.80" y2="486.08" stroke="#ff2a2a" stroke-width="1.1"/>
<line x1="311.00" y1="458.19" x2="316.60" y2="458.19" stroke="#ff2a2a" stroke-width="1.1"/>
<line x1="311.00" y1="486.08" x2="316.60" y2="486.08" stroke="#ff2a2a" stroke-width="1.1"/>
<rect x="314.70" y="476.26" width="4.00" height="4.00" fill="#ff2a2a"/>
<rect x="308.02" y="453.92" width="4.00" height="4.00" fill="#ff2a2a"/>
<rect x="314.91" y="475.45" width="4.00" height="4.00" fill="#ff2a2a"/>
<rect x="314.67" y="474.26" width="4.00" height="4.00" fill="#ff2a2a"/>
<rect x="312.45" y="476.96" width="4.00" height="4.00" fill="#ff2a2a"/>
<rect x="312.46" y="468.15" width="4.00" height="4.00" fill="#ff2a2a"/>
<rect x="314.54" y="459.18" width="4.00" height="4.00" fill="#ff2a2a"/>
<rect x="307.77" y="464.02" width="4.00" height="4.00" fill="#ff2a2a"/>
<rect x="308.89" y="454.87" width="4.00" height="4.00" fill="#ff2a2a"/>
<rect x="308.69" y="449.69" width="4.00" height="4.00" fill="#ff2a2a"/>
<rect x="319.20" y="458.19" width="10.40" height="63.91" fill="none" stroke="#1f1fff" stroke-width="1.5"/>
<line x1="324.40" y1="446.57" x2="324.40" y2="469.81" stroke="#1f1fff" stroke-width="1.1"/>
<line x1="321.60" y1="446.57" x2="327.20" y2="446.57" stroke="#1f1fff" stroke-width="1.1"/>
<line x1="321.60" y1="469.81" x2="327.20" y2="469.81" stroke="#1f1fff" stroke-width="1.1"/>
<path d="M320.80,456.21L323.00,460.11L318.60,460.11Z" fill="#1f1fff"/>
<path d="M324.90,442.29L327.10,446.19L322.70,446.19Z" fill="#1f1fff"/>
<path d="M324.82,439.99L327.02,443.89L322.62,443.89Z" fill="#1f1fff"/>
<path d="M328.02,474.30L330.22,478.20L325.82,478.20Z" fill="#1f1fff"/>
<path d="M324.07,452.11L326.27,456.01L321.87,456.01Z" fill="#1f1fff"/>
<path d="M323.96,464.70L326.16,468.60L321.76,468.60Z" fill="#1f1fff"/>
<path d="M320.36,465.10L322.56,469.00L318.16,469.00Z" fill="#1f1fff"/>
<path d="M320.56,471.54L322.76,475.44L318.36,475.44Z" fill="#1f1fff"/>
<path d="M327.60,459.79L329.80,463.69L325.40,463.69Z" fill="#1f1fff"/>
<path d="M327.86,475.04L330.06,478.94L325.66,478.94Z" fill="#1f1fff"/>
<rect x="341.50" y="445.64" width="10.40" height="76.46" fill="none" stroke="#000" stroke-width="1.5"/>
<line x1="346.70" y1="440.99" x2="346.70" y2="450.29" stroke="#000" stroke-width="1.1"/>
<line x1="343.90" y1="440.99" x2="349.50" y2="440.99" stroke="#000" stroke-width="1.1"/>
<line x1="343.90" y1="450.29" x2="349.50" y2="450.29" stroke="#000" stroke-width="1.1"/>
<circle cx="350.42" cy="444.13" r="2.00" fill="#000"/>
<circle cx="346.37" cy="450.85" r="2.00" fill="#000"/>
<circle cx="346.60" cy="445.38" r="2.00" fill="#000"/>
<circle cx="343.76" cy="448.56" r="2.00" fill="#000"/>
<circle cx="342.99" cy="447.91" r="2.00" fill="#000"/>
<circle cx="350.32" cy="441.74" r="2.00" fill="#000"/>
<circle cx="349.44" cy="448.76" r="2.00" fill="#000"/>
<circle cx="343.61" cy="442.90" r="2.00" fill="#000"/>
<circle cx="349.92" cy="440.66" r="2.00" fill="#000"/>
<circle cx="350.32" cy="450.01" r="2.00" fill="#000"/>
<rect x="352.00" y="469.81" width="10.40" height="52.29" fill="none" stroke="#ff2a2a" stroke-width="1.5"/>
<line x1="357.20" y1="459.35" x2="357.20" y2="480.27" stroke="#ff2a2a" stroke-width="1.1"/>
<line x1="354.40" y1="459.35" x2="360.00" y2="459.35" stroke="#ff2a2a" stroke-width="1.1"/>
<line x1="354.40" y1="480.27" x2="360.00" y2="480.27" stroke="#ff2a2a" stroke-width="1.1"/>
<rect x="354.82" y="458.74" width="4.00" height="4.00" fill="#ff2a2a"/>
<rect x="358.32" y="462.80" width="4.00" height="4.00" fill="#ff2a2a"/>
<rect x="359.43" y="464.10" width="4.00" height="4.00" fill="#ff2a2a"/>
<rect x="357.94" y="473.16" width="4.00" height="4.00" fill="#ff2a2a"/>
<rect x="358.19" y="459.76" width="4.00" height="4.00" fill="#ff2a2a"/>
<rect x="355.50" y="481.51" width="4.00" height="4.00" fill="#ff2a2a"/>
<rect x="351.06" y="475.14" width="4.00" height="4.00" fill="#ff2a2a"/>
<rect x="351.56" y="468.26" width="4.00" height="4.00" fill="#ff2a2a"/>
<rect x="358.00" y="459.01" width="4.00" height="4.00" fill="#ff2a2a"/>
<rect x="357.96" y="479.97" width="4.00" height="4.00" fill="#ff2a2a"/>
<rect x="362.60" y="455.05" width="10.40" height="67.05" fill="none" stroke="#1f1fff" stroke-width="1.5"/>
<line x1="367.80" y1="449.24" x2="367.80" y2="460.86" stroke="#1f1fff" stroke-width="1.1"/>
<line x1="365.00" y1="449.24" x2="370.60" y2="449.24" stroke="#1f1fff" stroke-width="1.1"/>
<line x1="365.00" y1="460.86" x2="370.60" y2="460.86" stroke="#1f1fff" stroke-width="1.1"/>
<path d="M364.72,447.37L366.92,451.27L362.52,451.27Z" fill="#1f1fff"/>
<path d="M368.25,461.55L370.45,465.45L366.05,465.45Z" fill="#1f1fff"/>
<path d="M367.89,446.37L370.09,450.27L365.69,450.27Z" fill="#1f1fff"/>
<path d="M367.35,459.18L369.55,463.08L365.15,463.08Z" fill="#1f1fff"/>
<path d="M363.67,444.56L365.87,448.46L361.47,448.46Z" fill="#1f1fff"/>
<path d="M363.75,454.56L365.95,458.46L361.55,458.46Z" fill="#1f1fff"/>
<path d="M364.63,451.04L366.83,454.94L362.43,454.94Z" fill="#1f1fff"/>
<path d="M371.10,458.15L373.30,462.05L368.90,462.05Z" fill="#1f1fff"/>
<path d="M371.09,455.05L373.29,458.95L368.89,458.95Z" fill="#1f1fff"/>
<path d="M368.57,445.29L370.77,449.19L366.37,449.19Z" fill="#1f1fff"/>
<rect x="384.70" y="445.99" width="10.40" height="76.11" fill="none" stroke="#000" stroke-width="1.5"/>
<line x1="389.90" y1="441.34" x2="389.90" y2="450.64" stroke="#000" stroke-width="1.1"/>
<line x1="387.10" y1="441.34" x2="392.70" y2="441.34" stroke="#000" stroke-width="1.1"/>
<line x1="387.10" y1="450.64" x2="392.70" y2="450.64" stroke="#000" stroke-width="1.1"/>
<circle cx="390.44" cy="445.85" r="2.00" fill="#000"/>
<circle cx="386.88" cy="447.20" r="2.00" fill="#000"/>
<circle cx="390.57" cy="443.74" r="2.00" fill="#000"/>
<circle cx="385.93" cy="445.05" r="2.00" fill="#000"/>
<circle cx="393.35" cy="448.29" r="2.00" fill="#000"/>
<circle cx="393.46" cy="440.79" r="2.00" fill="#000"/>
<circle cx="393.54" cy="443.36" r="2.00" fill="#000"/>
<circle cx="389.47" cy="448.08" r="2.00" fill="#000"/>
<circle cx="390.52" cy="450.84" r="2.00" fill="#000"/>
<circle cx="389.70" cy="450.77" r="2.00" fill="#000"/>
<rect x="395.20" y="489.56" width="10.40" height="32.54" fill="none" stroke="#ff2a2a" stroke-width="1.5"/>
<line x1="400.40" y1="479.11" x2="400.40" y2="500.02" stroke="#ff2a2a" stroke-width="1.1"/>
<line x1="397.60" y1="479.11" x2="403.20" y2="479.11" stroke="#ff2a2a" stroke-width="1.1"/>
<line x1="397.60" y1="500.02" x2="403.20" y2="500.02" stroke="#ff2a2a" stroke-width="1.1"/>
<rect x="402.11" y="489.78" width="4.00" height="4.00" fill="#ff2a2a"/>
<rect x="398.47" y="496.99" width="4.00" height="4.00" fill="#ff2a2a"/>
<rect x="394.32" y="479.77" width="4.00" height="4.00" fill="#ff2a2a"/>
<rect x="398.09" y="475.41" width="4.00" height="4.00" fill="#ff2a2a"/>
<rect x="394.80" y="484.20" width="4.00" height="4.00" fill="#ff2a2a"/>
<rect x="398.50" y="487.68" width="4.00" height="4.00" fill="#ff2a2a"/>
<rect x="399.10" y="486.96" width="4.00" height="4.00" fill="#ff2a2a"/>
<rect x="395.33" y="482.11" width="4.00" height="4.00" fill="#ff2a2a"/>
<rect x="402.10" y="489.40" width="4.00" height="4.00" fill="#ff2a2a"/>
<rect x="402.60" y="481.73" width="4.00" height="4.00" fill="#ff2a2a"/>
<rect x="405.80" y="460.51" width="10.40" height="61.59" fill="none" stroke="#1f1fff" stroke-width="1.5"/>
<line x1="411.00" y1="447.73" x2="411.00" y2="473.30" stroke="#1f1fff" stroke-width="1.1"/>
<line x1="408.20" y1="447.73" x2="413.80" y2="447.73" stroke="#1f1fff" stroke-width="1.1"/>
<line x1="408.20" y1="473.30" x2="413.80" y2="473.30" stroke="#1f1fff" stroke-width="1.1"/>
<path d="M411.55,448.62L413.75,452.52L409.35,452.52Z" fill="#1f1fff"/>
<path d="M407.69,456.44L409.89,460.34L405.49,460.34Z" fill="#1f1fff"/>
<path d="M410.30,458.93L412.50,462.83L408.10,462.83Z" fill="#1f1fff"/>
<path d="M413.76,450.91L415.96,454.81L411.56,454.81Z" fill="#1f1fff"/>
<path d="M411.08,469.78L413.28,473.68L408.88,473.68Z" fill="#1f1fff"/>
<path d="M414.68,451.00L416.88,454.90L412.48,454.90Z" fill="#1f1fff"/>
<path d="M413.91,463.54L416.11,467.44L411.71,467.44Z" fill="#1f1fff"/>
<path d="M408.25,472.61L410.45,476.51L406.05,476.51Z" fill="#1f1fff"/>
<path d="M406.77,457.27L408.97,461.17L404.57,461.17Z" fill="#1f1fff"/>
<path d="M410.91,448.02L413.11,451.92L408.71,451.92Z" fill="#1f1fff"/>
<text x="270.20" y="539.30" font-size="11.9" text-anchor="middle" fill="#000">Baseline</text>
<text x="313.60" y="539.30" font-size="11.9" text-anchor="middle" fill="#000">1w</text>
<text x="357.00" y="539.30" font-size="11.9" text-anchor="middle" fill="#000">2w</text>
<text x="400.20" y="539.30" font-size="11.9" text-anchor="middle" fill="#000">4w</text>
<text x="211.00" y="463.00" font-size="11.5" text-anchor="middle" fill="#000" transform="rotate(-90 211.00 463.00)">EF (%)</text>
<circle cx="256.90" cy="383.40" r="2.20" fill="#000"/>
<text x="270.90" y="387.60" font-size="11.7" text-anchor="start" fill="#000">Sham</text>
<rect x="254.70" y="396.00" width="4.40" height="4.40" fill="#ff2a2a"/>
<text x="270.90" y="402.40" font-size="11.7" text-anchor="start" fill="#000">WT-MI</text>
<path d="M340.20,382.37L342.62,386.66L337.78,386.66Z" fill="#1f1fff"/>
<text x="353.80" y="389.00" font-size="11.7" text-anchor="start" fill="#000">KO-MI</text>
<text x="435.50" y="381.00" font-size="13" text-anchor="start" font-weight="bold" fill="#000">h</text>
<line x1="484.10" y1="396.10" x2="484.10" y2="521.00" stroke="#000" stroke-width="1.2"/>
<line x1="479.60" y1="396.00" x2="484.10" y2="396.00" stroke="#000" stroke-width="1.2"/>
<text x="477.50" y="399.78" font-size="10.8" text-anchor="end" fill="#000">50</text>
<line x1="479.60" y1="421.00" x2="484.10" y2="421.00" stroke="#000" stroke-width="1.2"/>
<text x="477.50" y="424.78" font-size="10.8" text-anchor="end" fill="#000">40</text>
<line x1="479.60" y1="446.00" x2="484.10" y2="446.00" stroke="#000" stroke-width="1.2"/>
<text x="477.50" y="449.78" font-size="10.8" text-anchor="end" fill="#000">30</text>
<line x1="479.60" y1="471.00" x2="484.10" y2="471.00" stroke="#000" stroke-width="1.2"/>
<text x="477.50" y="474.78" font-size="10.8" text-anchor="end" fill="#000">20</text>
<line x1="479.60" y1="496.00" x2="484.10" y2="496.00" stroke="#000" stroke-width="1.2"/>
<text x="477.50" y="499.78" font-size="10.8" text-anchor="end" fill="#000">10</text>
<line x1="479.60" y1="521.00" x2="484.10" y2="521.00" stroke="#000" stroke-width="1.2"/>
<text x="477.50" y="524.78" font-size="10.8" text-anchor="end" fill="#000">0</text>
<line x1="484.10" y1="521.00" x2="664.00" y2="521.00" stroke="#000" stroke-width="1.2"/>
<line x1="511.00" y1="521.00" x2="511.00" y2="525.00" stroke="#000" stroke-width="1.2"/>
<line x1="553.00" y1="521.00" x2="553.00" y2="525.00" stroke="#000" stroke-width="1.2"/>
<line x1="595.10" y1="521.00" x2="595.10" y2="525.00" stroke="#000" stroke-width="1.2"/>
<line x1="637.60" y1="521.00" x2="637.60" y2="525.00" stroke="#000" stroke-width="1.2"/>
<rect x="495.50" y="421.50" width="10.40" height="99.50" fill="none" stroke="#000" stroke-width="1.5"/>
<line x1="500.70" y1="409.00" x2="500.70" y2="434.00" stroke="#000" stroke-width="1.1"/>
<line x1="497.90" y1="409.00" x2="503.50" y2="409.00" stroke="#000" stroke-width="1.1"/>
<line x1="497.90" y1="434.00" x2="503.50" y2="434.00" stroke="#000" stroke-width="1.1"/>
<circle cx="500.42" cy="418.98" r="2.00" fill="#000"/>
<circle cx="500.29" cy="413.17" r="2.00" fill="#000"/>
<circle cx="503.83" cy="435.09" r="2.00" fill="#000"/>
<circle cx="497.00" cy="435.78" r="2.00" fill="#000"/>
<circle cx="501.39" cy="411.71" r="2.00" fill="#000"/>
<circle cx="504.85" cy="426.02" r="2.00" fill="#000"/>
<circle cx="501.29" cy="434.20" r="2.00" fill="#000"/>
<circle cx="497.91" cy="419.98" r="2.00" fill="#000"/>
<circle cx="497.65" cy="408.09" r="2.00" fill="#000"/>
<circle cx="504.25" cy="426.04" r="2.00" fill="#000"/>
<rect x="506.00" y="427.00" width="10.40" height="94.00" fill="none" stroke="#ff2a2a" stroke-width="1.5"/>
<line x1="511.20" y1="414.50" x2="511.20" y2="439.50" stroke="#ff2a2a" stroke-width="1.1"/>
<line x1="508.40" y1="414.50" x2="514.00" y2="414.50" stroke="#ff2a2a" stroke-width="1.1"/>
<line x1="508.40" y1="439.50" x2="514.00" y2="439.50" stroke="#ff2a2a" stroke-width="1.1"/>
<rect x="505.20" y="420.78" width="4.00" height="4.00" fill="#ff2a2a"/>
<rect x="509.89" y="417.58" width="4.00" height="4.00" fill="#ff2a2a"/>
<rect x="509.55" y="416.96" width="4.00" height="4.00" fill="#ff2a2a"/>
<rect x="513.25" y="425.93" width="4.00" height="4.00" fill="#ff2a2a"/>
<rect x="509.00" y="430.73" width="4.00" height="4.00" fill="#ff2a2a"/>
<rect x="508.50" y="437.46" width="4.00" height="4.00" fill="#ff2a2a"/>
<rect x="512.05" y="435.10" width="4.00" height="4.00" fill="#ff2a2a"/>
<rect x="505.03" y="423.75" width="4.00" height="4.00" fill="#ff2a2a"/>
<rect x="505.13" y="440.00" width="4.00" height="4.00" fill="#ff2a2a"/>
<rect x="505.28" y="410.72" width="4.00" height="4.00" fill="#ff2a2a"/>
<rect x="516.40" y="424.25" width="10.40" height="96.75" fill="none" stroke="#1f1fff" stroke-width="1.5"/>
<line x1="521.60" y1="414.25" x2="521.60" y2="434.25" stroke="#1f1fff" stroke-width="1.1"/>
<line x1="518.80" y1="414.25" x2="524.40" y2="414.25" stroke="#1f1fff" stroke-width="1.1"/>
<line x1="518.80" y1="434.25" x2="524.40" y2="434.25" stroke="#1f1fff" stroke-width="1.1"/>
<path d="M518.80,410.19L521.00,414.09L516.60,414.09Z" fill="#1f1fff"/>
<path d="M518.87,429.94L521.07,433.84L516.67,433.84Z" fill="#1f1fff"/>
<path d="M524.80,416.57L527.00,420.47L522.60,420.47Z" fill="#1f1fff"/>
<path d="M518.12,416.41L520.32,420.31L515.92,420.31Z" fill="#1f1fff"/>
<path d="M521.39,438.46L523.59,442.36L519.19,442.36Z" fill="#1f1fff"/>
<path d="M522.04,438.73L524.24,442.63L519.84,442.63Z" fill="#1f1fff"/>
<path d="M518.19,439.22L520.39,443.12L515.99,443.12Z" fill="#1f1fff"/>
<path d="M521.04,419.62L523.24,423.52L518.84,423.52Z" fill="#1f1fff"/>
<path d="M518.56,438.19L520.76,442.09L516.36,442.09Z" fill="#1f1fff"/>
<path d="M517.67,420.24L519.87,424.14L515.47,424.14Z" fill="#1f1fff"/>
<rect x="537.50" y="425.00" width="10.40" height="96.00" fill="none" stroke="#000" stroke-width="1.5"/>
<line x1="542.70" y1="412.50" x2="542.70" y2="437.50" stroke="#000" stroke-width="1.1"/>
<line x1="539.90" y1="412.50" x2="545.50" y2="412.50" stroke="#000" stroke-width="1.1"/>
<line x1="539.90" y1="437.50" x2="545.50" y2="437.50" stroke="#000" stroke-width="1.1"/>
<circle cx="539.22" cy="416.60" r="2.00" fill="#000"/>
<circle cx="539.75" cy="433.61" r="2.00" fill="#000"/>
<circle cx="539.75" cy="424.37" r="2.00" fill="#000"/>
<circle cx="546.60" cy="434.68" r="2.00" fill="#000"/>
<circle cx="543.49" cy="410.79" r="2.00" fill="#000"/>
<circle cx="539.65" cy="436.38" r="2.00" fill="#000"/>
<circle cx="542.78" cy="425.38" r="2.00" fill="#000"/>
<circle cx="542.26" cy="437.18" r="2.00" fill="#000"/>
<circle cx="542.15" cy="425.25" r="2.00" fill="#000"/>
<circle cx="539.38" cy="430.55" r="2.00" fill="#000"/>
<rect x="548.00" y="468.25" width="10.40" height="52.75" fill="none" stroke="#ff2a2a" stroke-width="1.5"/>
<line x1="553.20" y1="448.25" x2="553.20" y2="488.25" stroke="#ff2a2a" stroke-width="1.1"/>
<line x1="550.40" y1="448.25" x2="556.00" y2="448.25" stroke="#ff2a2a" stroke-width="1.1"/>
<line x1="550.40" y1="488.25" x2="556.00" y2="488.25" stroke="#ff2a2a" stroke-width="1.1"/>
<rect x="548.15" y="436.60" width="4.00" height="4.00" fill="#ff2a2a"/>
<rect x="548.07" y="446.19" width="4.00" height="4.00" fill="#ff2a2a"/>
<rect x="547.27" y="436.34" width="4.00" height="4.00" fill="#ff2a2a"/>
<rect x="550.40" y="494.55" width="4.00" height="4.00" fill="#ff2a2a"/>
<rect x="547.42" y="467.51" width="4.00" height="4.00" fill="#ff2a2a"/>
<rect x="551.86" y="466.30" width="4.00" height="4.00" fill="#ff2a2a"/>
<rect x="551.07" y="443.05" width="4.00" height="4.00" fill="#ff2a2a"/>
<rect x="551.54" y="469.93" width="4.00" height="4.00" fill="#ff2a2a"/>
<rect x="551.48" y="446.02" width="4.00" height="4.00" fill="#ff2a2a"/>
<rect x="554.22" y="438.34" width="4.00" height="4.00" fill="#ff2a2a"/>
<rect x="558.40" y="449.50" width="10.40" height="71.50" fill="none" stroke="#1f1fff" stroke-width="1.5"/>
<line x1="563.60" y1="434.50" x2="563.60" y2="464.50" stroke="#1f1fff" stroke-width="1.1"/>
<line x1="560.80" y1="434.50" x2="566.40" y2="434.50" stroke="#1f1fff" stroke-width="1.1"/>
<line x1="560.80" y1="464.50" x2="566.40" y2="464.50" stroke="#1f1fff" stroke-width="1.1"/>
<path d="M566.38,454.07L568.58,457.97L564.18,457.97Z" fill="#1f1fff"/>
<path d="M562.84,440.79L565.04,444.69L560.64,444.69Z" fill="#1f1fff"/>
<path d="M566.58,423.64L568.78,427.54L564.38,427.54Z" fill="#1f1fff"/>
<path d="M567.17,429.45L569.37,433.35L564.97,433.35Z" fill="#1f1fff"/>
<path d="M567.65,455.20L569.85,459.10L565.45,459.10Z" fill="#1f1fff"/>
<path d="M563.50,434.48L565.70,438.38L561.30,438.38Z" fill="#1f1fff"/>
<path d="M563.64,427.61L565.84,431.51L561.44,431.51Z" fill="#1f1fff"/>
<path d="M560.31,470.04L562.51,473.94L558.11,473.94Z" fill="#1f1fff"/>
<path d="M559.78,462.55L561.98,466.45L557.58,466.45Z" fill="#1f1fff"/>
<path d="M566.51,448.59L568.71,452.49L564.31,452.49Z" fill="#1f1fff"/>
<rect x="579.60" y="431.50" width="10.40" height="89.50" fill="none" stroke="#000" stroke-width="1.5"/>
<line x1="584.80" y1="421.50" x2="584.80" y2="441.50" stroke="#000" stroke-width="1.1"/>
<line x1="582.00" y1="421.50" x2="587.60" y2="421.50" stroke="#000" stroke-width="1.1"/>
<line x1="582.00" y1="441.50" x2="587.60" y2="441.50" stroke="#000" stroke-width="1.1"/>
<circle cx="584.15" cy="437.62" r="2.00" fill="#000"/>
<circle cx="581.92" cy="418.01" r="2.00" fill="#000"/>
<circle cx="581.71" cy="431.56" r="2.00" fill="#000"/>
<circle cx="584.34" cy="438.25" r="2.00" fill="#000"/>
<circle cx="587.71" cy="424.80" r="2.00" fill="#000"/>
<circle cx="585.33" cy="418.62" r="2.00" fill="#000"/>
<circle cx="588.59" cy="439.05" r="2.00" fill="#000"/>
<circle cx="581.52" cy="438.28" r="2.00" fill="#000"/>
<circle cx="581.78" cy="430.41" r="2.00" fill="#000"/>
<circle cx="585.55" cy="428.29" r="2.00" fill="#000"/>
<rect x="590.10" y="465.50" width="10.40" height="55.50" fill="none" stroke="#ff2a2a" stroke-width="1.5"/>
<line x1="595.30" y1="450.50" x2="595.30" y2="480.50" stroke="#ff2a2a" stroke-width="1.1"/>
<line x1="592.50" y1="450.50" x2="598.10" y2="450.50" stroke="#ff2a2a" stroke-width="1.1"/>
<line x1="592.50" y1="480.50" x2="598.10" y2="480.50" stroke="#ff2a2a" stroke-width="1.1"/>
<rect x="593.11" y="472.46" width="4.00" height="4.00" fill="#ff2a2a"/>
<rect x="596.36" y="455.24" width="4.00" height="4.00" fill="#ff2a2a"/>
<rect x="596.11" y="471.01" width="4.00" height="4.00" fill="#ff2a2a"/>
<rect x="596.02" y="452.99" width="4.00" height="4.00" fill="#ff2a2a"/>
<rect x="597.18" y="485.15" width="4.00" height="4.00" fill="#ff2a2a"/>
<rect x="597.47" y="443.12" width="4.00" height="4.00" fill="#ff2a2a"/>
<rect x="590.33" y="480.53" width="4.00" height="4.00" fill="#ff2a2a"/>
<rect x="593.89" y="476.11" width="4.00" height="4.00" fill="#ff2a2a"/>
<rect x="597.09" y="442.00" width="4.00" height="4.00" fill="#ff2a2a"/>
<rect x="597.38" y="447.51" width="4.00" height="4.00" fill="#ff2a2a"/>
<rect x="600.50" y="444.50" width="10.40" height="76.50" fill="none" stroke="#1f1fff" stroke-width="1.5"/>
<line x1="605.70" y1="434.50" x2="605.70" y2="454.50" stroke="#1f1fff" stroke-width="1.1"/>
<line x1="602.90" y1="434.50" x2="608.50" y2="434.50" stroke="#1f1fff" stroke-width="1.1"/>
<line x1="602.90" y1="454.50" x2="608.50" y2="454.50" stroke="#1f1fff" stroke-width="1.1"/>
<path d="M609.30,424.37L611.50,428.27L607.10,428.27Z" fill="#1f1fff"/>
<path d="M606.23,460.71L608.43,464.61L604.03,464.61Z" fill="#1f1fff"/>
<path d="M605.91,448.91L608.11,452.81L603.71,452.81Z" fill="#1f1fff"/>
<path d="M609.10,428.47L611.30,432.37L606.90,432.37Z" fill="#1f1fff"/>
<path d="M602.88,423.81L605.08,427.71L600.68,427.71Z" fill="#1f1fff"/>
<path d="M605.88,438.11L608.08,442.01L603.68,442.01Z" fill="#1f1fff"/>
<path d="M609.40,436.81L611.60,440.71L607.20,440.71Z" fill="#1f1fff"/>
<path d="M609.14,441.04L611.34,444.94L606.94,444.94Z" fill="#1f1fff"/>
<path d="M602.14,441.76L604.34,445.66L599.94,445.66Z" fill="#1f1fff"/>
<path d="M609.45,450.15L611.65,454.05L607.25,454.05Z" fill="#1f1fff"/>
<rect x="622.10" y="432.25" width="10.40" height="88.75" fill="none" stroke="#000" stroke-width="1.5"/>
<line x1="627.30" y1="422.25" x2="627.30" y2="442.25" stroke="#000" stroke-width="1.1"/>
<line x1="624.50" y1="422.25" x2="630.10" y2="422.25" stroke="#000" stroke-width="1.1"/>
<line x1="624.50" y1="442.25" x2="630.10" y2="442.25" stroke="#000" stroke-width="1.1"/>
<circle cx="623.89" cy="434.79" r="2.00" fill="#000"/>
<circle cx="627.15" cy="432.90" r="2.00" fill="#000"/>
<circle cx="630.80" cy="441.47" r="2.00" fill="#000"/>
<circle cx="623.04" cy="439.04" r="2.00" fill="#000"/>
<circle cx="627.05" cy="439.46" r="2.00" fill="#000"/>
<circle cx="624.42" cy="424.89" r="2.00" fill="#000"/>
<circle cx="627.41" cy="422.56" r="2.00" fill="#000"/>
<circle cx="624.09" cy="430.82" r="2.00" fill="#000"/>
<circle cx="630.12" cy="438.97" r="2.00" fill="#000"/>
<circle cx="627.40" cy="422.77" r="2.00" fill="#000"/>
<rect x="632.60" y="488.25" width="10.40" height="32.75" fill="none" stroke="#ff2a2a" stroke-width="1.5"/>
<line x1="637.80" y1="475.75" x2="637.80" y2="500.75" stroke="#ff2a2a" stroke-width="1.1"/>
<line x1="635.00" y1="475.75" x2="640.60" y2="475.75" stroke="#ff2a2a" stroke-width="1.1"/>
<line x1="635.00" y1="500.75" x2="640.60" y2="500.75" stroke="#ff2a2a" stroke-width="1.1"/>
<rect x="636.12" y="483.59" width="4.00" height="4.00" fill="#ff2a2a"/>
<rect x="631.70" y="494.24" width="4.00" height="4.00" fill="#ff2a2a"/>
<rect x="631.69" y="501.85" width="4.00" height="4.00" fill="#ff2a2a"/>
<rect x="632.77" y="489.10" width="4.00" height="4.00" fill="#ff2a2a"/>
<rect x="639.00" y="480.45" width="4.00" height="4.00" fill="#ff2a2a"/>
<rect x="638.77" y="497.39" width="4.00" height="4.00" fill="#ff2a2a"/>
<rect x="632.79" y="483.86" width="4.00" height="4.00" fill="#ff2a2a"/>
<rect x="638.54" y="470.94" width="4.00" height="4.00" fill="#ff2a2a"/>
<rect x="633.10" y="493.77" width="4.00" height="4.00" fill="#ff2a2a"/>
<rect x="632.75" y="486.10" width="4.00" height="4.00" fill="#ff2a2a"/>
<rect x="643.00" y="451.50" width="10.40" height="69.50" fill="none" stroke="#1f1fff" stroke-width="1.5"/>
<line x1="648.20" y1="436.50" x2="648.20" y2="466.50" stroke="#1f1fff" stroke-width="1.1"/>
<line x1="645.40" y1="436.50" x2="651.00" y2="436.50" stroke="#1f1fff" stroke-width="1.1"/>
<line x1="645.40" y1="466.50" x2="651.00" y2="466.50" stroke="#1f1fff" stroke-width="1.1"/>
<path d="M644.14,443.30L646.34,447.20L641.94,447.20Z" fill="#1f1fff"/>
<path d="M648.98,425.07L651.18,428.97L646.78,428.97Z" fill="#1f1fff"/>
<path d="M644.14,439.11L646.34,443.01L641.94,443.01Z" fill="#1f1fff"/>
<path d="M647.49,450.64L649.69,454.54L645.29,454.54Z" fill="#1f1fff"/>
<path d="M647.51,455.35L649.71,459.25L645.31,459.25Z" fill="#1f1fff"/>
<path d="M644.74,429.56L646.94,433.46L642.54,433.46Z" fill="#1f1fff"/>
<path d="M648.44,449.75L650.64,453.65L646.24,453.65Z" fill="#1f1fff"/>
<path d="M644.94,471.69L647.14,475.59L642.74,475.59Z" fill="#1f1fff"/>
<path d="M644.59,429.38L646.79,433.28L642.39,433.28Z" fill="#1f1fff"/>
<path d="M647.51,468.30L649.71,472.20L645.31,472.20Z" fill="#1f1fff"/>
<text x="511.00" y="539.30" font-size="11.9" text-anchor="middle" fill="#000">Baseline</text>
<text x="553.00" y="539.30" font-size="11.9" text-anchor="middle" fill="#000">1w</text>
<text x="595.10" y="539.30" font-size="11.9" text-anchor="middle" fill="#000">2w</text>
<text x="637.60" y="539.30" font-size="11.9" text-anchor="middle" fill="#000">4w</text>
<text x="459.50" y="457.30" font-size="11.5" text-anchor="middle" fill="#000" transform="rotate(-90 459.50 457.30)">FS (%)</text>
<text x="5.50" y="566.00" font-size="13" text-anchor="start" font-weight="bold" fill="#000">i</text>
<line x1="46.70" y1="580.00" x2="46.70" y2="708.20" stroke="#000" stroke-width="1.2"/>
<line x1="42.20" y1="579.90" x2="46.70" y2="579.90" stroke="#000" stroke-width="1.2"/>
<text x="40.50" y="584.63" font-size="13.5" text-anchor="end" fill="#000">10</text>
<line x1="42.20" y1="605.56" x2="46.70" y2="605.56" stroke="#000" stroke-width="1.2"/>
<text x="40.50" y="610.29" font-size="13.5" text-anchor="end" fill="#000">8</text>
<line x1="42.20" y1="631.22" x2="46.70" y2="631.22" stroke="#000" stroke-width="1.2"/>
<text x="40.50" y="635.95" font-size="13.5" text-anchor="end" fill="#000">6</text>
<line x1="42.20" y1="656.88" x2="46.70" y2="656.88" stroke="#000" stroke-width="1.2"/>
<text x="40.50" y="661.61" font-size="13.5" text-anchor="end" fill="#000">4</text>
<line x1="42.20" y1="682.54" x2="46.70" y2="682.54" stroke="#000" stroke-width="1.2"/>
<text x="40.50" y="687.27" font-size="13.5" text-anchor="end" fill="#000">2</text>
<line x1="42.20" y1="708.20" x2="46.70" y2="708.20" stroke="#000" stroke-width="1.2"/>
<text x="40.50" y="712.93" font-size="13.5" text-anchor="end" fill="#000">0</text>
<line x1="46.70" y1="708.20" x2="209.60" y2="708.20" stroke="#000" stroke-width="1.2"/>
<line x1="79.10" y1="708.20" x2="79.10" y2="712.20" stroke="#000" stroke-width="1.2"/>
<line x1="127.90" y1="708.20" x2="127.90" y2="712.20" stroke="#000" stroke-width="1.2"/>
<line x1="177.20" y1="708.20" x2="177.20" y2="712.20" stroke="#000" stroke-width="1.2"/>
<rect x="62.95" y="633.40" width="32.30" height="74.80" fill="none" stroke="#000" stroke-width="1.6"/>
<line x1="79.10" y1="628.01" x2="79.10" y2="638.28" stroke="#000" stroke-width="1.4"/>
<line x1="71.10" y1="628.01" x2="87.10" y2="628.01" stroke="#000" stroke-width="1.4"/>
<line x1="71.10" y1="638.28" x2="87.10" y2="638.28" stroke="#000" stroke-width="1.4"/>
<circle cx="79.10" cy="626.09" r="2.80" fill="#000"/>
<circle cx="70.10" cy="628.65" r="2.80" fill="#000"/>
<circle cx="88.10" cy="628.65" r="2.80" fill="#000"/>
<circle cx="68.10" cy="638.28" r="2.80" fill="#000"/>
<circle cx="79.10" cy="638.28" r="2.80" fill="#000"/>
<circle cx="90.10" cy="638.28" r="2.80" fill="#000"/>
<rect x="111.75" y="600.43" width="32.30" height="107.77" fill="none" stroke="#ff2a2a" stroke-width="1.6"/>
<line x1="127.90" y1="585.03" x2="127.90" y2="614.54" stroke="#ff2a2a" stroke-width="1.4"/>
<line x1="119.90" y1="585.03" x2="135.90" y2="585.03" stroke="#ff2a2a" stroke-width="1.4"/>
<line x1="119.90" y1="614.54" x2="135.90" y2="614.54" stroke="#ff2a2a" stroke-width="1.4"/>
<rect x="115.10" y="583.52" width="5.60" height="5.60" fill="#ff2a2a"/>
<rect x="125.10" y="583.52" width="5.60" height="5.60" fill="#ff2a2a"/>
<rect x="135.10" y="587.36" width="5.60" height="5.60" fill="#ff2a2a"/>
<rect x="125.10" y="591.21" width="5.60" height="5.60" fill="#ff2a2a"/>
<rect x="125.10" y="611.74" width="5.60" height="5.60" fill="#ff2a2a"/>
<rect x="125.10" y="620.72" width="5.60" height="5.60" fill="#ff2a2a"/>
<rect x="161.05" y="619.42" width="32.30" height="88.78" fill="none" stroke="#1f1fff" stroke-width="1.6"/>
<line x1="177.20" y1="606.20" x2="177.20" y2="631.22" stroke="#1f1fff" stroke-width="1.4"/>
<line x1="169.20" y1="606.20" x2="185.20" y2="606.20" stroke="#1f1fff" stroke-width="1.4"/>
<line x1="169.20" y1="631.22" x2="185.20" y2="631.22" stroke="#1f1fff" stroke-width="1.4"/>
<path d="M177.20,598.49L180.28,603.95L174.12,603.95Z" fill="#1f1fff"/>
<path d="M177.20,607.47L180.28,612.93L174.12,612.93Z" fill="#1f1fff"/>
<path d="M177.20,621.59L180.28,627.05L174.12,627.05Z" fill="#1f1fff"/>
<path d="M167.20,628.00L170.28,633.46L164.12,633.46Z" fill="#1f1fff"/>
<path d="M177.20,628.00L180.28,633.46L174.12,633.46Z" fill="#1f1fff"/>
<path d="M187.20,628.00L190.28,633.46L184.12,633.46Z" fill="#1f1fff"/>
<line x1="80.10" y1="572.80" x2="124.80" y2="572.80" stroke="#222" stroke-width="1.4"/>
<line x1="80.10" y1="572.20" x2="80.10" y2="576.60" stroke="#222" stroke-width="1.4"/>
<line x1="124.80" y1="572.20" x2="124.80" y2="576.60" stroke="#222" stroke-width="1.4"/>
<line x1="127.20" y1="572.80" x2="177.30" y2="572.80" stroke="#222" stroke-width="1.4"/>
<line x1="127.20" y1="572.20" x2="127.20" y2="576.60" stroke="#222" stroke-width="1.4"/>
<line x1="177.30" y1="572.20" x2="177.30" y2="576.60" stroke="#222" stroke-width="1.4"/>
<text x="102.90" y="577.01" font-size="17" text-anchor="middle" font-weight="bold" fill="#111">***</text>
<text x="152.30" y="577.01" font-size="17" text-anchor="middle" font-weight="bold" fill="#111">*</text>
<text x="19.00" y="641.50" font-size="14.3" text-anchor="middle" fill="#000" transform="rotate(-90 19.00 641.50)">HW/BW (mg/g)</text>
<text x="79.10" y="727.60" font-size="13.2" text-anchor="middle" fill="#000">Sham</text>
<text x="127.90" y="727.60" font-size="13.2" text-anchor="middle" fill="#000">WT-MI</text>
<text x="177.20" y="727.60" font-size="13.2" text-anchor="middle" fill="#000">KO-MI</text>
<text x="209.50" y="566.00" font-size="13" text-anchor="start" font-weight="bold" fill="#000">j</text>
<line x1="263.00" y1="587.30" x2="263.00" y2="702.10" stroke="#000" stroke-width="1.2"/>
<line x1="259.00" y1="702.10" x2="263.00" y2="702.10" stroke="#000" stroke-width="1.1"/>
<text x="257.50" y="706.00" font-size="11" text-anchor="end" fill="#000">0</text>
<line x1="259.00" y1="690.62" x2="263.00" y2="690.62" stroke="#000" stroke-width="1.1"/>
<text x="257.50" y="694.52" font-size="11" text-anchor="end" fill="#000">10</text>
<line x1="259.00" y1="679.14" x2="263.00" y2="679.14" stroke="#000" stroke-width="1.1"/>
<text x="257.50" y="683.04" font-size="11" text-anchor="end" fill="#000">20</text>
<line x1="259.00" y1="667.66" x2="263.00" y2="667.66" stroke="#000" stroke-width="1.1"/>
<text x="257.50" y="671.56" font-size="11" text-anchor="end" fill="#000">30</text>
<line x1="259.00" y1="656.18" x2="263.00" y2="656.18" stroke="#000" stroke-width="1.1"/>
<text x="257.50" y="660.08" font-size="11" text-anchor="end" fill="#000">40</text>
<line x1="259.00" y1="644.70" x2="263.00" y2="644.70" stroke="#000" stroke-width="1.1"/>
<text x="257.50" y="648.60" font-size="11" text-anchor="end" fill="#000">50</text>
<line x1="259.00" y1="633.22" x2="263.00" y2="633.22" stroke="#000" stroke-width="1.1"/>
<text x="257.50" y="637.12" font-size="11" text-anchor="end" fill="#000">60</text>
<line x1="259.00" y1="621.74" x2="263.00" y2="621.74" stroke="#000" stroke-width="1.1"/>
<text x="257.50" y="625.64" font-size="11" text-anchor="end" fill="#000">70</text>
<line x1="259.00" y1="610.26" x2="263.00" y2="610.26" stroke="#000" stroke-width="1.1"/>
<text x="257.50" y="614.16" font-size="11" text-anchor="end" fill="#000">80</text>
<line x1="259.00" y1="598.78" x2="263.00" y2="598.78" stroke="#000" stroke-width="1.1"/>
<text x="257.50" y="602.68" font-size="11" text-anchor="end" fill="#000">90</text>
<line x1="259.00" y1="587.30" x2="263.00" y2="587.30" stroke="#000" stroke-width="1.1"/>
<text x="257.50" y="591.20" font-size="11" text-anchor="end" fill="#000">100</text>
<line x1="263.00" y1="702.10" x2="436.70" y2="702.10" stroke="#000" stroke-width="1.2"/>
<line x1="263.00" y1="702.10" x2="263.00" y2="706.60" stroke="#000" stroke-width="1.1"/>
<text x="263.00" y="717.80" font-size="11.5" text-anchor="middle" fill="#000">0</text>
<line x1="268.79" y1="702.10" x2="268.79" y2="704.60" stroke="#000" stroke-width="1.1"/>
<line x1="274.58" y1="702.10" x2="274.58" y2="704.60" stroke="#000" stroke-width="1.1"/>
<line x1="280.37" y1="702.10" x2="280.37" y2="704.60" stroke="#000" stroke-width="1.1"/>
<line x1="286.16" y1="702.10" x2="286.16" y2="704.60" stroke="#000" stroke-width="1.1"/>
<line x1="291.95" y1="702.10" x2="291.95" y2="706.60" stroke="#000" stroke-width="1.1"/>
<text x="291.95" y="717.80" font-size="11.5" text-anchor="middle" fill="#000">5</text>
<line x1="297.74" y1="702.10" x2="297.74" y2="704.60" stroke="#000" stroke-width="1.1"/>
<line x1="303.53" y1="702.10" x2="303.53" y2="704.60" stroke="#000" stroke-width="1.1"/>
<line x1="309.32" y1="702.10" x2="309.32" y2="704.60" stroke="#000" stroke-width="1.1"/>
<line x1="315.11" y1="702.10" x2="315.11" y2="704.60" stroke="#000" stroke-width="1.1"/>
<line x1="320.90" y1="702.10" x2="320.90" y2="706.60" stroke="#000" stroke-width="1.1"/>
<text x="320.90" y="717.80" font-size="11.5" text-anchor="middle" fill="#000">10</text>
<line x1="326.69" y1="702.10" x2="326.69" y2="704.60" stroke="#000" stroke-width="1.1"/>
<line x1="332.48" y1="702.10" x2="332.48" y2="704.60" stroke="#000" stroke-width="1.1"/>
<line x1="338.27" y1="702.10" x2="338.27" y2="704.60" stroke="#000" stroke-width="1.1"/>
<line x1="344.06" y1="702.10" x2="344.06" y2="704.60" stroke="#000" stroke-width="1.1"/>
<line x1="349.85" y1="702.10" x2="349.85" y2="706.60" stroke="#000" stroke-width="1.1"/>
<text x="349.85" y="717.80" font-size="11.5" text-anchor="middle" fill="#000">15</text>
<line x1="355.64" y1="702.10" x2="355.64" y2="704.60" stroke="#000" stroke-width="1.1"/>
<line x1="361.43" y1="702.10" x2="361.43" y2="704.60" stroke="#000" stroke-width="1.1"/>
<line x1="367.22" y1="702.10" x2="367.22" y2="704.60" stroke="#000" stroke-width="1.1"/>
<line x1="373.01" y1="702.10" x2="373.01" y2="704.60" stroke="#000" stroke-width="1.1"/>
<line x1="378.80" y1="702.10" x2="378.80" y2="706.60" stroke="#000" stroke-width="1.1"/>
<text x="378.80" y="717.80" font-size="11.5" text-anchor="middle" fill="#000">20</text>
<line x1="384.59" y1="702.10" x2="384.59" y2="704.60" stroke="#000" stroke-width="1.1"/>
<line x1="390.38" y1="702.10" x2="390.38" y2="704.60" stroke="#000" stroke-width="1.1"/>
<line x1="396.17" y1="702.10" x2="396.17" y2="704.60" stroke="#000" stroke-width="1.1"/>
<line x1="401.96" y1="702.10" x2="401.96" y2="704.60" stroke="#000" stroke-width="1.1"/>
<line x1="407.75" y1="702.10" x2="407.75" y2="706.60" stroke="#000" stroke-width="1.1"/>
<text x="407.75" y="717.80" font-size="11.5" text-anchor="middle" fill="#000">25</text>
<line x1="413.54" y1="702.10" x2="413.54" y2="704.60" stroke="#000" stroke-width="1.1"/>
<line x1="419.33" y1="702.10" x2="419.33" y2="704.60" stroke="#000" stroke-width="1.1"/>
<line x1="425.12" y1="702.10" x2="425.12" y2="704.60" stroke="#000" stroke-width="1.1"/>
<line x1="430.91" y1="702.10" x2="430.91" y2="704.60" stroke="#000" stroke-width="1.1"/>
<line x1="436.70" y1="702.10" x2="436.70" y2="706.60" stroke="#000" stroke-width="1.1"/>
<text x="436.70" y="717.80" font-size="11.5" text-anchor="middle" fill="#000">30</text>
<text x="338.00" y="734.80" font-size="11.5" text-anchor="middle" fill="#000">Days after MI</text>
<text x="231.50" y="642.80" font-size="11.5" text-anchor="middle" fill="#000" transform="rotate(-90 231.50 642.80)">Percent survival (%)</text>
<polyline points="263.00,587.30 320.90,587.30 320.90,600.04 396.17,600.04 396.17,612.79 401.96,612.79 401.96,625.53 425.12,625.53" fill="none" stroke="#1f1fff" stroke-width="1.3"/>
<path d="M320.90,597.86L322.99,601.56L318.81,601.56Z" fill="#1f1fff"/>
<path d="M396.17,610.60L398.26,614.31L394.08,614.31Z" fill="#1f1fff"/>
<path d="M401.96,623.34L404.05,627.05L399.87,627.05Z" fill="#1f1fff"/>
<path d="M425.12,623.34L427.21,627.05L423.03,627.05Z" fill="#1f1fff"/>
<polyline points="303.53,587.30 303.53,606.47 332.48,606.47 332.48,616.00 344.06,616.00 344.06,625.53 390.38,625.53 390.38,635.17 407.75,635.17 407.75,644.70 425.12,644.70" fill="none" stroke="#ff2a2a" stroke-width="1.3"/>
<rect x="301.53" y="604.47" width="4.00" height="4.00" fill="#ff2a2a"/>
<rect x="330.48" y="614.00" width="4.00" height="4.00" fill="#ff2a2a"/>
<rect x="342.06" y="623.53" width="4.00" height="4.00" fill="#ff2a2a"/>
<rect x="388.38" y="633.17" width="4.00" height="4.00" fill="#ff2a2a"/>
<rect x="405.75" y="642.70" width="4.00" height="4.00" fill="#ff2a2a"/>
<rect x="423.12" y="642.70" width="4.00" height="4.00" fill="#ff2a2a"/>
<polyline points="263.00,587.30 425.12,587.30" fill="none" stroke="#000" stroke-width="1.2"/>
<circle cx="425.12" cy="587.30" r="2.10" fill="#000"/>
<line x1="272.40" y1="658.30" x2="284.50" y2="658.30" stroke="#000" stroke-width="1.3"/>
<circle cx="278.50" cy="658.30" r="2.00" fill="#000"/>
<text x="291.40" y="662.50" font-size="11.5" text-anchor="start" fill="#000">Sham</text>
<line x1="272.40" y1="673.70" x2="284.50" y2="673.70" stroke="#ff2a2a" stroke-width="1.3"/>
<rect x="276.50" y="671.70" width="4.00" height="4.00" fill="#ff2a2a"/>
<text x="291.40" y="677.90" font-size="11.5" text-anchor="start" fill="#000">WT-MI</text>
<line x1="272.40" y1="689.10" x2="284.50" y2="689.10" stroke="#1f1fff" stroke-width="1.3"/>
<path d="M278.50,686.80L280.70,690.70L276.30,690.70Z" fill="#1f1fff"/>
<text x="291.40" y="693.30" font-size="11.5" text-anchor="start" fill="#000">KO-MI</text>
<text x="478.00" y="566.00" font-size="13" text-anchor="start" font-weight="bold" fill="#000">k</text>
<line x1="550.50" y1="589.70" x2="550.50" y2="705.00" stroke="#000" stroke-width="1.2"/>
<line x1="546.00" y1="589.80" x2="550.50" y2="589.80" stroke="#000" stroke-width="1.2"/>
<text x="544.50" y="594.17" font-size="12.5" text-anchor="end" fill="#000">30</text>
<line x1="546.00" y1="628.20" x2="550.50" y2="628.20" stroke="#000" stroke-width="1.2"/>
<text x="544.50" y="632.58" font-size="12.5" text-anchor="end" fill="#000">20</text>
<line x1="546.00" y1="666.60" x2="550.50" y2="666.60" stroke="#000" stroke-width="1.2"/>
<text x="544.50" y="670.98" font-size="12.5" text-anchor="end" fill="#000">10</text>
<line x1="546.00" y1="705.00" x2="550.50" y2="705.00" stroke="#000" stroke-width="1.2"/>
<text x="544.50" y="709.38" font-size="12.5" text-anchor="end" fill="#000">0</text>
<line x1="550.50" y1="705.00" x2="674.80" y2="705.00" stroke="#000" stroke-width="1.2"/>
<line x1="586.00" y1="705.00" x2="586.00" y2="709.00" stroke="#000" stroke-width="1.2"/>
<line x1="639.40" y1="705.00" x2="639.40" y2="709.00" stroke="#000" stroke-width="1.2"/>
<rect x="568.70" y="616.68" width="34.60" height="88.32" fill="none" stroke="#ff2a2a" stroke-width="1.6"/>
<line x1="586.00" y1="605.93" x2="586.00" y2="626.28" stroke="#ff2a2a" stroke-width="1.3"/>
<line x1="578.00" y1="605.93" x2="594.00" y2="605.93" stroke="#ff2a2a" stroke-width="1.3"/>
<line x1="578.00" y1="626.28" x2="594.00" y2="626.28" stroke="#ff2a2a" stroke-width="1.3"/>
<circle cx="596.00" cy="602.86" r="2.70" fill="#ff2a2a"/>
<circle cx="586.00" cy="605.93" r="2.70" fill="#ff2a2a"/>
<circle cx="576.00" cy="616.30" r="2.70" fill="#ff2a2a"/>
<circle cx="596.00" cy="620.52" r="2.70" fill="#ff2a2a"/>
<circle cx="586.00" cy="623.59" r="2.70" fill="#ff2a2a"/>
<circle cx="586.00" cy="629.35" r="2.70" fill="#ff2a2a"/>
<rect x="622.10" y="642.60" width="34.60" height="62.40" fill="none" stroke="#1f1fff" stroke-width="1.6"/>
<line x1="639.40" y1="632.42" x2="639.40" y2="652.01" stroke="#1f1fff" stroke-width="1.3"/>
<line x1="631.40" y1="632.42" x2="647.40" y2="632.42" stroke="#1f1fff" stroke-width="1.3"/>
<line x1="631.40" y1="652.01" x2="647.40" y2="652.01" stroke="#1f1fff" stroke-width="1.3"/>
<rect x="626.70" y="627.80" width="5.40" height="5.40" fill="#1f1fff"/>
<rect x="646.70" y="630.11" width="5.40" height="5.40" fill="#1f1fff"/>
<rect x="646.70" y="635.87" width="5.40" height="5.40" fill="#1f1fff"/>
<rect x="636.70" y="639.32" width="5.40" height="5.40" fill="#1f1fff"/>
<rect x="636.70" y="650.46" width="5.40" height="5.40" fill="#1f1fff"/>
<rect x="636.70" y="653.15" width="5.40" height="5.40" fill="#1f1fff"/>
<text x="505.50" y="646.00" font-size="11.5" text-anchor="middle" fill="#000" transform="rotate(-90 505.50 646.00)">Infarct size</text>
<text x="518.00" y="646.00" font-size="11.5" text-anchor="middle" fill="#000" transform="rotate(-90 518.00 646.00)">(% of total cardiac area)</text>
<text x="589.50" y="720.00" font-size="12.3" text-anchor="end" fill="#000" transform="rotate(-45 589.50 720.00)">WT-MI</text>
<text x="642.90" y="720.00" font-size="12.3" text-anchor="end" fill="#000" transform="rotate(-45 642.90 720.00)">KO-MI</text>
<text x="6.00" y="761.00" font-size="13" text-anchor="start" font-weight="bold" fill="#000">l</text>
<line x1="466.50" y1="820.70" x2="466.50" y2="953.70" stroke="#000" stroke-width="1.2"/>
<line x1="462.00" y1="820.70" x2="466.50" y2="820.70" stroke="#000" stroke-width="1.2"/>
<text x="460.50" y="825.25" font-size="13" text-anchor="end" fill="#000">20</text>
<line x1="462.00" y1="853.95" x2="466.50" y2="853.95" stroke="#000" stroke-width="1.2"/>
<text x="460.50" y="858.50" font-size="13" text-anchor="end" fill="#000">15</text>
<line x1="462.00" y1="887.20" x2="466.50" y2="887.20" stroke="#000" stroke-width="1.2"/>
<text x="460.50" y="891.75" font-size="13" text-anchor="end" fill="#000">10</text>
<line x1="462.00" y1="920.45" x2="466.50" y2="920.45" stroke="#000" stroke-width="1.2"/>
<text x="460.50" y="925.00" font-size="13" text-anchor="end" fill="#000">5</text>
<line x1="462.00" y1="953.70" x2="466.50" y2="953.70" stroke="#000" stroke-width="1.2"/>
<text x="460.50" y="958.25" font-size="13" text-anchor="end" fill="#000">0</text>
<line x1="466.50" y1="953.70" x2="605.50" y2="953.70" stroke="#000" stroke-width="1.2"/>
<line x1="494.70" y1="953.70" x2="494.70" y2="957.70" stroke="#000" stroke-width="1.2"/>
<line x1="536.50" y1="953.70" x2="536.50" y2="957.70" stroke="#000" stroke-width="1.2"/>
<line x1="577.30" y1="953.70" x2="577.30" y2="957.70" stroke="#000" stroke-width="1.2"/>
<rect x="527.70" y="844.80" width="4.80" height="4.80" fill="#ff2a2a"/>
<rect x="539.30" y="846.00" width="4.80" height="4.80" fill="#ff2a2a"/>
<rect x="527.70" y="855.60" width="4.80" height="4.80" fill="#ff2a2a"/>
<rect x="545.50" y="856.20" width="4.80" height="4.80" fill="#ff2a2a"/>
<rect x="521.60" y="858.70" width="4.80" height="4.80" fill="#ff2a2a"/>
<rect x="527.70" y="859.70" width="4.80" height="4.80" fill="#ff2a2a"/>
<rect x="533.60" y="859.70" width="4.80" height="4.80" fill="#ff2a2a"/>
<rect x="539.30" y="859.70" width="4.80" height="4.80" fill="#ff2a2a"/>
<rect x="521.60" y="865.80" width="4.80" height="4.80" fill="#ff2a2a"/>
<rect x="527.70" y="865.80" width="4.80" height="4.80" fill="#ff2a2a"/>
<rect x="533.60" y="868.50" width="4.80" height="4.80" fill="#ff2a2a"/>
<rect x="545.50" y="868.90" width="4.80" height="4.80" fill="#ff2a2a"/>
<rect x="527.70" y="872.00" width="4.80" height="4.80" fill="#ff2a2a"/>
<rect x="539.30" y="872.00" width="4.80" height="4.80" fill="#ff2a2a"/>
<rect x="533.60" y="878.10" width="4.80" height="4.80" fill="#ff2a2a"/>
<rect x="527.70" y="885.30" width="4.80" height="4.80" fill="#ff2a2a"/>
<rect x="533.60" y="886.30" width="4.80" height="4.80" fill="#ff2a2a"/>
<rect x="533.60" y="891.40" width="4.80" height="4.80" fill="#ff2a2a"/>
<rect x="539.30" y="891.40" width="4.80" height="4.80" fill="#ff2a2a"/>
<rect x="533.60" y="898.60" width="4.80" height="4.80" fill="#ff2a2a"/>
<line x1="522.30" y1="870.90" x2="549.90" y2="870.90" stroke="#ff2a2a" stroke-width="1.3"/>
<line x1="536.00" y1="856.40" x2="536.00" y2="887.00" stroke="#ff2a2a" stroke-width="1.0"/>
<line x1="529.40" y1="856.40" x2="542.60" y2="856.40" stroke="#ff2a2a" stroke-width="1.0"/>
<line x1="529.40" y1="887.00" x2="542.60" y2="887.00" stroke="#ff2a2a" stroke-width="1.0"/>
<path d="M577.50,835.44L580.14,840.12L574.86,840.12Z" fill="#1f1fff"/>
<path d="M577.50,850.54L580.14,855.22L574.86,855.22Z" fill="#1f1fff"/>
<path d="M571.40,858.74L574.04,863.42L568.76,863.42Z" fill="#1f1fff"/>
<path d="M577.50,858.74L580.14,863.42L574.86,863.42Z" fill="#1f1fff"/>
<path d="M583.60,858.74L586.24,863.42L580.96,863.42Z" fill="#1f1fff"/>
<path d="M577.50,866.14L580.14,870.82L574.86,870.82Z" fill="#1f1fff"/>
<path d="M583.60,866.14L586.24,870.82L580.96,870.82Z" fill="#1f1fff"/>
<path d="M571.40,872.24L574.04,876.92L568.76,876.92Z" fill="#1f1fff"/>
<path d="M583.60,872.24L586.24,876.92L580.96,876.92Z" fill="#1f1fff"/>
<path d="M577.50,891.44L580.14,896.12L574.86,896.12Z" fill="#1f1fff"/>
<path d="M583.60,891.44L586.24,896.12L580.96,896.12Z" fill="#1f1fff"/>
<path d="M577.50,896.14L580.14,900.82L574.86,900.82Z" fill="#1f1fff"/>
<path d="M565.30,899.24L567.94,903.92L562.66,903.92Z" fill="#1f1fff"/>
<path d="M571.40,898.24L574.04,902.92L568.76,902.92Z" fill="#1f1fff"/>
<path d="M583.60,899.24L586.24,903.92L580.96,903.92Z" fill="#1f1fff"/>
<path d="M589.20,898.84L591.84,903.52L586.56,903.52Z" fill="#1f1fff"/>
<path d="M577.50,905.74L580.14,910.42L574.86,910.42Z" fill="#1f1fff"/>
<path d="M583.60,905.74L586.24,910.42L580.96,910.42Z" fill="#1f1fff"/>
<path d="M577.50,917.64L580.14,922.32L574.86,922.32Z" fill="#1f1fff"/>
<path d="M577.50,925.34L580.14,930.02L574.86,930.02Z" fill="#1f1fff"/>
<line x1="563.80" y1="886.00" x2="590.80" y2="886.00" stroke="#1f1fff" stroke-width="1.5"/>
<line x1="577.50" y1="861.10" x2="577.50" y2="910.10" stroke="#1f1fff" stroke-width="1.2"/>
<line x1="570.40" y1="861.10" x2="584.60" y2="861.10" stroke="#1f1fff" stroke-width="1.2"/>
<line x1="570.40" y1="910.10" x2="584.60" y2="910.10" stroke="#1f1fff" stroke-width="1.2"/>
<circle cx="495.80" cy="925.50" r="2.40" fill="#000"/>
<circle cx="482.50" cy="932.00" r="2.40" fill="#000"/>
<circle cx="488.60" cy="933.60" r="2.40" fill="#000"/>
<circle cx="495.80" cy="932.00" r="2.40" fill="#000"/>
<circle cx="500.90" cy="933.60" r="2.40" fill="#000"/>
<circle cx="506.00" cy="932.00" r="2.40" fill="#000"/>
<circle cx="486.50" cy="937.70" r="2.40" fill="#000"/>
<circle cx="492.60" cy="937.70" r="2.40" fill="#000"/>
<circle cx="498.70" cy="937.70" r="2.40" fill="#000"/>
<circle cx="502.90" cy="936.70" r="2.40" fill="#000"/>
<circle cx="485.50" cy="943.90" r="2.40" fill="#000"/>
<circle cx="490.60" cy="942.80" r="2.40" fill="#000"/>
<circle cx="496.80" cy="943.90" r="2.40" fill="#000"/>
<circle cx="501.90" cy="940.80" r="2.40" fill="#000"/>
<circle cx="489.60" cy="948.00" r="2.40" fill="#000"/>
<circle cx="495.80" cy="946.00" r="2.40" fill="#000"/>
<circle cx="483.50" cy="939.00" r="2.40" fill="#000"/>
<circle cx="507.00" cy="938.50" r="2.40" fill="#000"/>
<circle cx="494.00" cy="941.00" r="2.40" fill="#000"/>
<circle cx="499.50" cy="944.50" r="2.40" fill="#000"/>
<line x1="480.40" y1="938.10" x2="508.40" y2="938.10" stroke="#000" stroke-width="1.4"/>
<text x="435.00" y="885.70" font-size="13" text-anchor="middle" fill="#000" transform="rotate(-90 435.00 885.70)">Percentage of fibrosis (%)</text>
<text x="498.70" y="969.00" font-size="13.4" text-anchor="end" fill="#000" transform="rotate(-45 498.70 969.00)">Sham</text>
<text x="540.50" y="969.00" font-size="13.4" text-anchor="end" fill="#000" transform="rotate(-45 540.50 969.00)">WT-MI</text>
<text x="581.30" y="969.00" font-size="13.4" text-anchor="end" fill="#000" transform="rotate(-45 581.30 969.00)">KO-MI</text>
<text x="116.80" y="769.20" font-size="12" text-anchor="middle" fill="#000">Sham</text>
<text x="226.50" y="769.20" font-size="12" text-anchor="middle" fill="#000">WT-MI</text>
<text x="334.50" y="769.20" font-size="12" text-anchor="middle" fill="#000">KO-MI</text>
<text x="62.50" y="812.00" font-size="12" text-anchor="middle" fill="#000" transform="rotate(-90 62.50 812.00)">Remote</text>
<text x="62.50" y="894.50" font-size="12" text-anchor="middle" fill="#000" transform="rotate(-90 62.50 894.50)">Border</text>
<text x="62.50" y="975.50" font-size="12" text-anchor="middle" fill="#000" transform="rotate(-90 62.50 975.50)">Infarct</text>
<line x1="328.00" y1="60.30" x2="367.90" y2="60.30" stroke="#222" stroke-width="1.3"/>
<text x="346.00" y="62.52" font-size="14" text-anchor="middle" font-weight="bold" fill="#111">*</text>
<line x1="363.00" y1="75.30" x2="390.90" y2="75.30" stroke="#222" stroke-width="1.3"/>
<text x="377.50" y="77.82" font-size="14" text-anchor="middle" font-weight="bold" fill="#111">*</text>
<line x1="479.30" y1="69.00" x2="515.90" y2="69.00" stroke="#222" stroke-width="1.3"/>
<text x="499.00" y="70.99" font-size="13" text-anchor="middle" font-weight="bold" fill="#111">**</text>
<line x1="511.60" y1="93.10" x2="537.50" y2="93.10" stroke="#222" stroke-width="1.3"/>
<text x="525.60" y="95.09" font-size="13" text-anchor="middle" font-weight="bold" fill="#111">**</text>
<line x1="624.00" y1="77.20" x2="644.00" y2="77.20" stroke="#222" stroke-width="1.3"/>
<text x="634.00" y="79.89" font-size="13" text-anchor="middle" font-weight="bold" fill="#111">**</text>
<line x1="648.60" y1="91.20" x2="668.80" y2="91.20" stroke="#222" stroke-width="1.3"/>
<text x="658.60" y="93.89" font-size="13" text-anchor="middle" font-weight="bold" fill="#111">*</text>
<line x1="546.10" y1="241.50" x2="567.10" y2="241.50" stroke="#222" stroke-width="1.3"/>
<text x="554.90" y="242.32" font-size="14" text-anchor="middle" font-weight="bold" fill="#111">****</text>
<line x1="572.00" y1="241.50" x2="593.00" y2="241.50" stroke="#222" stroke-width="1.3"/>
<text x="582.50" y="242.32" font-size="14" text-anchor="middle" font-weight="bold" fill="#111">**</text>
<line x1="77.70" y1="387.80" x2="111.60" y2="387.80" stroke="#222" stroke-width="1.3"/>
<text x="93.80" y="392.28" font-size="16" text-anchor="middle" font-weight="bold" fill="#111">***</text>
<line x1="116.30" y1="387.80" x2="150.70" y2="387.80" stroke="#222" stroke-width="1.3"/>
<text x="131.40" y="392.28" font-size="16" text-anchor="middle" font-weight="bold" fill="#111">***</text>
<line x1="298.30" y1="427.00" x2="314.30" y2="427.00" stroke="#222" stroke-width="1.3"/>
<text x="305.30" y="430.29" font-size="14.5" text-anchor="middle" font-weight="bold" fill="#111">***</text>
<line x1="314.30" y1="427.00" x2="314.30" y2="428.80" stroke="#222" stroke-width="1.2"/>
<line x1="314.30" y1="428.80" x2="329.80" y2="428.80" stroke="#222" stroke-width="1.3"/>
<text x="321.20" y="432.88" font-size="14.5" text-anchor="middle" font-weight="bold" fill="#111">*</text>
<line x1="345.20" y1="426.40" x2="361.00" y2="426.40" stroke="#222" stroke-width="1.3"/>
<text x="352.80" y="430.29" font-size="14.5" text-anchor="middle" font-weight="bold" fill="#111">***</text>
<line x1="355.10" y1="440.50" x2="370.70" y2="440.50" stroke="#222" stroke-width="1.3"/>
<text x="362.50" y="443.99" font-size="14.5" text-anchor="middle" font-weight="bold" fill="#111">**</text>
<line x1="386.60" y1="426.40" x2="403.00" y2="426.40" stroke="#222" stroke-width="1.3"/>
<text x="394.80" y="430.29" font-size="14.5" text-anchor="middle" font-weight="bold" fill="#111">***</text>
<line x1="399.00" y1="440.50" x2="415.00" y2="440.50" stroke="#222" stroke-width="1.3"/>
<text x="407.00" y="443.99" font-size="14.5" text-anchor="middle" font-weight="bold" fill="#111">***</text>
<line x1="538.00" y1="401.40" x2="554.30" y2="401.40" stroke="#222" stroke-width="1.3"/>
<text x="546.20" y="403.62" font-size="14" text-anchor="middle" font-weight="bold" fill="#111">***</text>
<line x1="551.30" y1="406.70" x2="567.00" y2="406.70" stroke="#222" stroke-width="1.3"/>
<text x="560.30" y="410.52" font-size="14" text-anchor="middle" font-weight="bold" fill="#111">*</text>
<line x1="581.60" y1="404.20" x2="598.00" y2="404.20" stroke="#222" stroke-width="1.3"/>
<text x="589.80" y="406.42" font-size="14" text-anchor="middle" font-weight="bold" fill="#111">***</text>
<line x1="593.00" y1="425.10" x2="608.80" y2="425.10" stroke="#222" stroke-width="1.3"/>
<text x="601.80" y="428.02" font-size="14" text-anchor="middle" font-weight="bold" fill="#111">**</text>
<line x1="623.40" y1="404.20" x2="640.10" y2="404.20" stroke="#222" stroke-width="1.3"/>
<text x="631.80" y="406.42" font-size="14" text-anchor="middle" font-weight="bold" fill="#111">***</text>
<line x1="635.30" y1="425.10" x2="651.10" y2="425.10" stroke="#222" stroke-width="1.3"/>
<text x="644.00" y="428.02" font-size="14" text-anchor="middle" font-weight="bold" fill="#111">**</text>
<line x1="588.30" y1="593.50" x2="636.60" y2="593.50" stroke="#222" stroke-width="1.3"/>
<text x="611.40" y="595.82" font-size="14" text-anchor="middle" font-weight="bold" fill="#111">**</text>
<line x1="490.80" y1="840.60" x2="536.70" y2="840.60" stroke="#222" stroke-width="1.3"/>
<text x="515.60" y="844.31" font-size="17" text-anchor="middle" font-weight="bold" fill="#111">****</text>
<line x1="537.10" y1="830.80" x2="582.80" y2="830.80" stroke="#222" stroke-width="1.3"/>
<text x="560.50" y="834.31" font-size="17" text-anchor="middle" font-weight="bold" fill="#111">**</text>
<g clip-path="url(#emclip1)">
<rect x="15" y="255" width="145" height="104" filter="url(#emG1)"/>
<rect x="15" y="255" width="145" height="104" filter="url(#emLow)" style="mix-blend-mode:multiply"/>
<rect x="15" y="255" width="145" height="104" filter="url(#emSpk)"/>
<rect x="15" y="255" width="145" height="104" filter="url(#emDk)"/>
<path d="M76.4,231.5L71.8,210.3L65.9,211.0L58.9,233.5L56.3,245.7L58.2,247.7L62.7,248.4L69.8,247.8L74.6,246.2L77.3,243.5Z" fill="#000" opacity="0.19"/>
<path d="M162.0,238.0L153.1,231.6L147.8,231.0L146.1,236.1L146.2,240.1L148.0,243.0L153.4,243.6L162.1,242.0Z" fill="#000" opacity="0.16"/>
<path d="M14.0,246.9L13.9,248.4L10.8,252.7L4.9,259.9L-3.4,260.4L-14.0,254.2L-13.4,248.6L-1.6,243.8L6.8,242.6L11.7,245.0Z" fill="#000" opacity="0.09"/>
<path d="M20.9,244.7L31.5,243.2L37.4,243.0L38.6,244.3L39.0,248.2L38.5,254.7L35.4,259.9L29.7,263.9L23.8,261.7L17.6,253.3L14.5,248.3L14.7,246.9L15.0,246.0L15.4,245.7Z" fill="#fff" opacity="0.07"/>
<path d="M129.5,247.7L129.2,255.2L129.0,259.0L128.9,259.1L125.3,259.1L118.3,259.2L112.8,255.5L108.9,248.1L110.0,241.3L116.3,235.1L122.0,235.0L127.1,241.0Z" fill="#000" opacity="0.18"/>
<path d="M147.6,243.6L145.8,240.7L141.3,240.5L134.3,242.9L130.6,247.8L130.3,255.3L134.5,259.4L143.2,260.1L148.1,260.1L149.4,259.4L149.7,255.6L148.9,248.5Z" fill="#000" opacity="0.09"/>
<path d="M162.2,242.5L153.7,244.1L149.8,248.4L150.6,255.5L153.4,259.3L158.3,260.0L162.5,255.8L166.0,246.6L167.4,242.0L166.8,241.8Z" fill="#000" opacity="0.10"/>
<path d="M48.5,273.1L49.3,269.4L46.9,265.3L41.3,260.9L35.7,260.6L30.2,264.5L27.1,267.7L26.6,270.3L29.1,274.0L34.8,278.6L40.3,279.4L45.5,276.4Z" fill="#fff" opacity="0.09"/>
<path d="M57.2,279.2L63.3,278.3L66.1,275.0L65.5,269.2L63.4,265.5L59.6,263.8L55.8,264.1L52.2,266.4L50.0,269.4L49.2,273.2L50.2,276.2L52.8,278.5Z" fill="#000" opacity="0.10"/>
<path d="M73.2,264.1L68.2,265.7L66.0,269.3L66.5,275.0L68.5,279.3L72.0,282.3L75.6,281.7L79.4,277.3L81.4,273.1L81.7,269.1L80.3,266.2L77.2,264.3Z" fill="#fff" opacity="0.06"/>
<path d="M162.4,262.8L165.7,266.0L167.6,269.9L168.1,274.6L163.2,278.5L153.1,281.8L147.4,282.9L146.3,281.9L146.3,276.3L147.4,266.2L148.7,260.8L150.0,260.2L153.2,260.2L158.2,260.9Z" fill="#000" opacity="0.16"/>
<path d="M61.5,294.0L69.4,292.8L73.4,290.2L73.4,286.3L71.7,282.8L68.2,279.8L63.5,278.7L57.5,279.6L55.2,283.7L56.8,291.0Z" fill="#fff" opacity="0.11"/>
<path d="M81.9,293.6L90.9,289.6L95.1,286.4L94.7,284.1L91.2,281.1L84.8,277.6L79.8,278.0L76.1,282.2L74.2,286.3L74.2,290.2L75.0,293.0L76.6,294.7Z" fill="#000" opacity="0.07"/>
<path d="M103.7,269.4L105.7,269.2L109.1,272.9L113.9,280.6L115.4,286.2L113.7,290.0L110.7,292.2L106.5,292.9L102.5,291.8L98.6,288.8L96.4,286.2L96.0,283.9L97.5,279.4L100.9,272.8Z" fill="#fff" opacity="0.10"/>
<path d="M114.4,290.5L116.3,286.6L120.1,283.3L126.0,280.6L129.7,279.8L131.4,280.7L132.5,285.4L133.1,293.6L131.1,299.2L126.5,302.1L123.4,303.3L122.0,302.7L119.3,299.9L115.5,294.9Z" fill="#000" opacity="0.19"/>
<path d="M8.8,289.0L2.4,295.2L2.7,300.7L9.8,305.4L14.7,304.9L17.4,299.1L17.0,293.6L13.7,288.5Z" fill="#fff" opacity="0.08"/>
<path d="M39.0,300.0L39.0,303.2L41.6,307.9L46.7,314.0L51.6,315.6L56.3,312.7L57.9,307.6L56.4,300.3L51.5,297.0L43.1,297.9Z" fill="#fff" opacity="0.06"/>
<path d="M61.6,294.5L69.5,293.3L74.3,293.6L76.0,295.4L77.5,299.0L78.8,304.5L78.4,309.4L76.2,313.8L71.2,314.8L63.3,312.4L58.6,307.5L57.1,300.1L56.6,296.0L57.3,295.4Z" fill="#fff" opacity="0.06"/>
<path d="M141.1,301.5L145.1,306.7L143.3,311.6L135.7,316.2L130.2,314.9L126.6,307.6L127.0,302.6L131.5,299.8L135.1,298.5L137.8,298.7Z" fill="#fff" opacity="0.13"/>
<path d="M180.0,290.5L189.9,297.4L185.8,303.6L167.8,309.1L158.0,311.2L156.4,310.0L155.7,306.2L155.9,300.0L160.8,294.4L170.3,289.5Z" fill="#000" opacity="0.08"/>
<path d="M32.8,324.7L40.2,325.3L44.8,324.9L46.8,323.5L48.0,321.5L48.4,319.0L46.1,314.7L41.1,308.7L35.8,309.0L30.1,315.7L27.7,320.4L28.7,323.1Z" fill="#000" opacity="0.19"/>
<path d="M99.2,323.2L101.3,317.9L104.1,315.2L107.5,315.3L111.9,318.3L117.3,324.4L118.5,328.4L115.5,330.4L110.0,330.0L102.1,327.2Z" fill="#000" opacity="0.09"/>
<path d="M129.3,325.9L130.1,324.6L130.7,322.7L131.2,320.3L129.6,315.4L126.0,308.1L123.4,304.1L122.0,303.5L118.4,306.2L112.7,312.2L112.5,318.1L117.9,324.1L122.6,327.0L126.8,326.7Z" fill="#000" opacity="0.11"/>
<path d="M157.5,323.6L157.5,316.3L156.7,312.1L155.2,310.9L152.7,310.2L149.4,310.0L143.9,312.2L136.5,316.8L132.5,320.2L132.0,322.6L138.2,324.6L151.0,326.3Z" fill="#000" opacity="0.12"/>
<path d="M24.1,336.1L23.8,340.5L22.0,343.6L18.5,345.4L14.5,345.3L9.9,343.3L6.2,339.3L3.6,333.4L4.2,329.6L8.2,327.9L13.7,328.8L20.8,332.2Z" fill="#fff" opacity="0.14"/>
<path d="M32.5,325.8L39.9,326.4L43.4,331.3L43.0,340.7L41.2,345.9L38.1,347.1L33.6,346.5L27.7,343.9L24.9,340.5L25.2,336.1L26.2,331.8L27.9,327.6Z" fill="#000" opacity="0.12"/>
<path d="M45.5,325.6L47.5,324.2L52.0,325.9L59.1,330.7L62.5,334.2L62.0,336.6L58.6,339.9L52.1,344.2L47.6,346.1L45.0,345.7L43.9,340.7L44.3,331.1Z" fill="#000" opacity="0.15"/>
<path d="M85.2,330.5L79.2,325.5L73.0,325.6L66.9,330.7L63.7,334.4L63.3,336.7L65.5,340.7L70.3,346.4L76.2,348.3L83.1,346.6L87.2,344.2L88.5,341.1L89.0,337.9L88.5,334.6Z" fill="#fff" opacity="0.07"/>
<path d="M91.4,331.1L95.7,327.8L101.9,327.5L109.9,330.3L112.8,334.7L110.5,340.6L104.5,342.5L94.9,340.6L89.9,337.9L89.4,334.4Z" fill="#fff" opacity="0.08"/>
<path d="M110.6,345.1L112.4,348.1L118.8,348.8L129.8,347.2L133.7,341.6L130.5,332.0L126.7,327.3L122.5,327.6L118.9,328.7L115.8,330.8L113.2,334.8L110.9,340.6Z" fill="#000" opacity="0.17"/>
<path d="M130.2,326.8L131.0,325.5L137.9,325.7L150.8,327.4L157.2,328.3L157.2,328.4L154.4,332.2L148.8,339.7L143.7,344.2L139.1,345.8L136.6,346.4L136.2,346.0L134.5,341.3L131.4,332.1Z" fill="#000" opacity="0.08"/>
<path d="M14.2,356.5L15.5,350.3L13.9,346.3L9.3,344.3L0.9,346.7L-11.4,353.5L-12.2,358.9L-1.6,362.9L6.2,363.6L11.1,360.9Z" fill="#000" opacity="0.12"/>
<path d="M87.8,360.9L80.9,365.8L75.0,366.5L70.0,362.9L68.9,358.5L71.5,353.1L76.3,349.5L83.2,347.7L87.8,349.7L90.0,355.5Z" fill="#000" opacity="0.07"/>
<path d="M89.5,341.6L88.1,344.7L88.6,349.3L91.0,355.3L95.1,360.4L101.0,364.5L105.3,364.8L108.1,361.2L110.4,357.0L112.0,352.3L111.9,348.4L110.2,345.4L104.5,342.9L95.0,340.9Z" fill="#000" opacity="0.07"/>
<path d="M163.9,354.6L163.2,358.4L164.6,361.7L168.1,364.4L177.0,364.3L191.4,361.3L191.4,356.8L177.0,350.7L168.4,348.9L165.6,351.4Z" fill="#fff" opacity="0.10"/>
<path d="M76.4,231.5L71.8,210.3L65.9,211.0L58.9,233.5L56.3,245.7L58.2,247.7L62.7,248.4L69.8,247.8L74.6,246.2L77.3,243.5ZM162.0,238.0L153.1,231.6L147.8,231.0L146.1,236.1L146.2,240.1L148.0,243.0L153.4,243.6L162.1,242.0ZM14.0,246.9L13.9,248.4L10.8,252.7L4.9,259.9L-3.4,260.4L-14.0,254.2L-13.4,248.6L-1.6,243.8L6.8,242.6L11.7,245.0ZM20.9,244.7L31.5,243.2L37.4,243.0L38.6,244.3L39.0,248.2L38.5,254.7L35.4,259.9L29.7,263.9L23.8,261.7L17.6,253.3L14.5,248.3L14.7,246.9L15.0,246.0L15.4,245.7ZM55.5,263.5L52.0,265.6L47.5,264.5L41.9,260.1L39.4,254.8L39.8,248.5L43.8,245.4L51.1,245.5L55.7,246.4L57.6,248.3L58.2,252.5L57.5,259.1ZM72.9,263.6L67.9,265.2L63.6,265.1L59.8,263.5L58.3,259.3L58.9,252.6L62.7,249.0L69.7,248.4L73.7,251.9L74.8,259.2ZM75.5,259.1L74.4,251.8L75.2,246.8L77.8,244.2L82.4,244.0L89.0,246.3L92.0,251.0L91.5,258.1L89.0,262.9L84.4,265.2L80.6,265.4L77.6,263.6ZM94.8,263.3L99.9,266.4L103.5,267.9L105.5,267.7L108.3,265.6L111.9,261.6L111.8,255.9L107.9,248.5L104.0,244.8L100.3,244.7L97.1,245.4L94.5,246.8L93.0,251.1L92.5,258.2ZM129.5,247.7L129.2,255.2L129.0,259.0L128.9,259.1L125.3,259.1L118.3,259.2L112.8,255.5L108.9,248.1L110.0,241.3L116.3,235.1L122.0,235.0L127.1,241.0ZM147.6,243.6L145.8,240.7L141.3,240.5L134.3,242.9L130.6,247.8L130.3,255.3L134.5,259.4L143.2,260.1L148.1,260.1L149.4,259.4L149.7,255.6L148.9,248.5ZM162.2,242.5L153.7,244.1L149.8,248.4L150.6,255.5L153.4,259.3L158.3,260.0L162.5,255.8L166.0,246.6L167.4,242.0L166.8,241.8ZM9.2,278.0L5.8,276.1L3.6,272.4L2.8,266.9L5.3,260.5L11.2,253.3L17.2,253.9L23.3,262.1L26.1,267.6L25.5,270.3L21.6,273.4L14.4,277.1ZM48.5,273.1L49.3,269.4L46.9,265.3L41.3,260.9L35.7,260.6L30.2,264.5L27.1,267.7L26.6,270.3L29.1,274.0L34.8,278.6L40.3,279.4L45.5,276.4ZM57.2,279.2L63.3,278.3L66.1,275.0L65.5,269.2L63.4,265.5L59.6,263.8L55.8,264.1L52.2,266.4L50.0,269.4L49.2,273.2L50.2,276.2L52.8,278.5ZM73.2,264.1L68.2,265.7L66.0,269.3L66.5,275.0L68.5,279.3L72.0,282.3L75.6,281.7L79.4,277.3L81.4,273.1L81.7,269.1L80.3,266.2L77.2,264.3ZM82.5,269.1L82.3,273.0L85.3,276.7L91.7,280.2L96.6,278.7L100.0,272.1L99.2,267.3L94.2,264.2L89.4,263.8L84.9,266.0ZM109.2,266.3L112.8,262.3L118.1,260.2L125.2,260.2L128.7,264.7L128.6,274.0L125.7,279.9L120.0,282.5L114.7,279.9L109.8,272.2ZM131.8,279.9L130.2,279.0L129.4,273.9L129.6,264.8L129.7,260.1L129.8,260.0L134.2,260.3L142.8,261.0L146.6,266.3L145.4,276.2L141.8,280.9L135.7,280.6ZM162.4,262.8L165.7,266.0L167.6,269.9L168.1,274.6L163.2,278.5L153.1,281.8L147.4,282.9L146.3,281.9L146.3,276.3L147.4,266.2L148.7,260.8L150.0,260.2L153.2,260.2L158.2,260.9ZM31.9,295.6L23.4,295.8L17.4,293.3L14.1,288.0L12.0,283.9L11.3,281.0L14.7,277.7L22.0,273.9L28.6,274.4L34.4,279.2L37.0,285.0L36.5,292.0ZM37.0,292.1L37.6,285.1L40.5,280.1L46.0,277.0L50.0,276.6L52.6,278.8L54.7,283.7L56.3,291.1L56.7,295.1L56.1,295.7L51.5,296.5L43.0,297.4L38.2,297.3L37.2,296.2ZM61.5,294.0L69.4,292.8L73.4,290.2L73.4,286.3L71.7,282.8L68.2,279.8L63.5,278.7L57.5,279.6L55.2,283.7L56.8,291.0ZM81.9,293.6L90.9,289.6L95.1,286.4L94.7,284.1L91.2,281.1L84.8,277.6L79.8,278.0L76.1,282.2L74.2,286.3L74.2,290.2L75.0,293.0L76.6,294.7ZM103.7,269.4L105.7,269.2L109.1,272.9L113.9,280.6L115.4,286.2L113.7,290.0L110.7,292.2L106.5,292.9L102.5,291.8L98.6,288.8L96.4,286.2L96.0,283.9L97.5,279.4L100.9,272.8ZM114.4,290.5L116.3,286.6L120.1,283.3L126.0,280.6L129.7,279.8L131.4,280.7L132.5,285.4L133.1,293.6L131.1,299.2L126.5,302.1L123.4,303.3L122.0,302.7L119.3,299.9L115.5,294.9ZM141.6,295.5L145.8,290.4L147.8,286.8L147.6,284.9L146.9,283.5L145.8,282.5L142.1,281.8L135.9,281.5L133.1,285.3L133.7,293.5L135.3,297.7L138.1,297.9ZM150.2,289.9L153.7,294.2L160.3,293.9L170.1,288.8L173.3,284.0L170.0,279.6L163.3,279.0L153.1,282.2L148.2,284.8L148.4,286.8ZM8.8,289.0L2.4,295.2L2.7,300.7L9.8,305.4L14.7,304.9L17.4,299.1L17.0,293.6L13.7,288.5ZM31.9,296.1L23.5,296.4L17.9,299.4L15.2,305.2L13.9,308.3L13.8,308.6L14.7,310.0L16.5,312.4L19.7,314.9L24.2,317.4L29.3,315.2L35.3,308.3L38.2,303.2L38.2,299.9L37.6,297.7L36.6,296.6ZM39.0,300.0L39.0,303.2L41.6,307.9L46.7,314.0L51.6,315.6L56.3,312.7L57.9,307.6L56.4,300.3L51.5,297.0L43.1,297.9ZM61.6,294.5L69.5,293.3L74.3,293.6L76.0,295.4L77.5,299.0L78.8,304.5L78.4,309.4L76.2,313.8L71.2,314.8L63.3,312.4L58.6,307.5L57.1,300.1L56.6,296.0L57.3,295.4ZM79.6,304.3L78.3,298.9L82.2,294.2L91.4,290.1L97.9,289.6L101.8,292.6L102.1,297.3L98.8,303.7L92.9,307.0L84.4,307.0ZM99.6,304.0L102.9,297.6L106.6,294.0L110.9,293.3L114.9,295.4L118.7,300.3L117.7,305.7L112.1,311.6L107.5,314.5L104.1,314.5L101.3,312.6L99.1,309.0ZM141.1,301.5L145.1,306.7L143.3,311.6L135.7,316.2L130.2,314.9L126.6,307.6L127.0,302.6L131.5,299.8L135.1,298.5L137.8,298.7ZM142.1,296.1L146.2,291.1L149.9,290.7L153.3,294.9L154.8,300.0L154.6,306.1L152.9,309.1L149.5,308.9L145.9,306.3L142.0,301.2ZM180.0,290.5L189.9,297.4L185.8,303.6L167.8,309.1L158.0,311.2L156.4,310.0L155.7,306.2L155.9,300.0L160.8,294.4L170.3,289.5ZM15.5,313.1L13.8,310.8L6.9,312.4L-5.3,318.0L-8.0,323.0L-1.4,327.2L3.8,328.5L7.8,326.9L11.4,323.1L14.7,317.2ZM27.9,323.4L26.9,320.5L24.1,317.9L19.5,315.3L15.5,317.1L11.9,323.4L13.8,328.3L21.1,331.8L25.7,331.4L27.5,327.0ZM32.8,324.7L40.2,325.3L44.8,324.9L46.8,323.5L48.0,321.5L48.4,319.0L46.1,314.7L41.1,308.7L35.8,309.0L30.1,315.7L27.7,320.4L28.7,323.1ZM71.0,315.3L63.1,312.9L56.8,313.2L52.0,316.2L49.4,319.0L48.9,321.6L52.3,325.4L59.5,330.2L66.2,330.0L72.5,324.8L75.5,320.8L75.2,317.9ZM85.8,329.8L79.5,324.7L76.1,320.7L75.8,317.9L76.7,314.2L78.9,309.8L84.3,307.6L92.9,307.6L98.4,309.4L100.7,313.1L100.8,317.7L98.7,323.1L95.4,327.4L91.1,330.7ZM99.2,323.2L101.3,317.9L104.1,315.2L107.5,315.3L111.9,318.3L117.3,324.4L118.5,328.4L115.5,330.4L110.0,330.0L102.1,327.2ZM129.3,325.9L130.1,324.6L130.7,322.7L131.2,320.3L129.6,315.4L126.0,308.1L123.4,304.1L122.0,303.5L118.4,306.2L112.7,312.2L112.5,318.1L117.9,324.1L122.6,327.0L126.8,326.7ZM157.5,323.6L157.5,316.3L156.7,312.1L155.2,310.9L152.7,310.2L149.4,310.0L143.9,312.2L136.5,316.8L132.5,320.2L132.0,322.6L138.2,324.6L151.0,326.3ZM161.8,329.0L167.1,332.0L182.7,327.1L208.7,314.5L215.1,306.5L202.0,303.2L186.4,304.4L168.2,309.9L159.1,316.4L159.1,323.8L159.1,327.5L159.1,327.5ZM24.1,336.1L23.8,340.5L22.0,343.6L18.5,345.4L14.5,345.3L9.9,343.3L6.2,339.3L3.6,333.4L4.2,329.6L8.2,327.9L13.7,328.8L20.8,332.2ZM32.5,325.8L39.9,326.4L43.4,331.3L43.0,340.7L41.2,345.9L38.1,347.1L33.6,346.5L27.7,343.9L24.9,340.5L25.2,336.1L26.2,331.8L27.9,327.6ZM45.5,325.6L47.5,324.2L52.0,325.9L59.1,330.7L62.5,334.2L62.0,336.6L58.6,339.9L52.1,344.2L47.6,346.1L45.0,345.7L43.9,340.7L44.3,331.1ZM85.2,330.5L79.2,325.5L73.0,325.6L66.9,330.7L63.7,334.4L63.3,336.7L65.5,340.7L70.3,346.4L76.2,348.3L83.1,346.6L87.2,344.2L88.5,341.1L89.0,337.9L88.5,334.6ZM91.4,331.1L95.7,327.8L101.9,327.5L109.9,330.3L112.8,334.7L110.5,340.6L104.5,342.5L94.9,340.6L89.9,337.9L89.4,334.4ZM110.6,345.1L112.4,348.1L118.8,348.8L129.8,347.2L133.7,341.6L130.5,332.0L126.7,327.3L122.5,327.6L118.9,328.7L115.8,330.8L113.2,334.8L110.9,340.6ZM130.2,326.8L131.0,325.5L137.9,325.7L150.8,327.4L157.2,328.3L157.2,328.4L154.4,332.2L148.8,339.7L143.7,344.2L139.1,345.8L136.6,346.4L136.2,346.0L134.5,341.3L131.4,332.1ZM161.0,330.3L166.3,333.2L168.9,337.7L169.0,343.6L167.7,347.9L164.9,350.4L159.4,349.7L151.3,345.8L150.0,340.1L155.6,332.6ZM14.2,356.5L15.5,350.3L13.9,346.3L9.3,344.3L0.9,346.7L-11.4,353.5L-12.2,358.9L-1.6,362.9L6.2,363.6L11.1,360.9ZM22.5,344.5L19.0,346.2L16.6,350.2L15.3,356.5L16.6,361.5L20.6,365.4L26.0,365.6L32.6,362.3L36.0,357.6L36.1,351.7L33.2,347.4L27.2,344.8ZM44.8,346.5L47.4,346.9L51.3,351.2L56.7,359.4L59.1,363.8L58.6,364.5L54.4,365.7L46.4,367.4L41.0,366.3L38.2,362.6L36.8,357.7L37.0,351.7L38.6,348.1L41.9,346.9ZM61.5,362.4L64.9,361.4L67.8,358.1L70.5,352.7L69.4,347.2L64.6,341.6L59.1,340.8L52.7,345.0L52.1,351.1L57.3,359.0ZM87.8,360.9L80.9,365.8L75.0,366.5L70.0,362.9L68.9,358.5L71.5,353.1L76.3,349.5L83.2,347.7L87.8,349.7L90.0,355.5ZM89.5,341.6L88.1,344.7L88.6,349.3L91.0,355.3L95.1,360.4L101.0,364.5L105.3,364.8L108.1,361.2L110.4,357.0L112.0,352.3L111.9,348.4L110.2,345.4L104.5,342.9L95.0,340.9ZM113.0,352.4L111.4,357.0L116.3,360.2L127.7,362.1L134.3,362.3L136.2,360.9L136.8,357.1L136.3,350.8L135.8,347.4L135.4,347.1L129.9,347.7L119.2,349.3ZM150.5,346.5L158.9,350.5L162.7,354.5L162.1,358.4L158.5,362.4L151.9,366.5L146.0,366.5L140.7,362.4L137.7,357.1L137.2,350.8L139.3,346.8L144.0,345.2ZM163.9,354.6L163.2,358.4L164.6,361.7L168.1,364.4L177.0,364.3L191.4,361.3L191.4,356.8L177.0,350.7L168.4,348.9L165.6,351.4ZM115.6,361.3L126.8,363.1L126.5,372.2L114.7,388.6L107.8,389.5L105.7,374.7L106.0,365.6L108.7,362.1Z" stroke="#383838" stroke-width="1.0" fill="none" opacity="0.75" filter="url(#blur05)"/>
<g mask="url(#emmask1)">
<rect x="15" y="255" width="145" height="104" filter="url(#emBand)"/>
<rect x="27.1" y="290" width="4" height="24" fill="#3c3c3c" opacity="0.7" filter="url(#blur15)"/>
<rect x="40.1" y="290" width="4" height="24" fill="#3c3c3c" opacity="0.7" filter="url(#blur15)"/>
<rect x="54.1" y="290" width="4" height="24" fill="#3c3c3c" opacity="0.7" filter="url(#blur15)"/>
<rect x="70.3" y="290" width="4" height="24" fill="#3c3c3c" opacity="0.7" filter="url(#blur15)"/>
<rect x="83.3" y="290" width="4" height="24" fill="#3c3c3c" opacity="0.7" filter="url(#blur15)"/>
<rect x="98.4" y="290" width="4" height="24" fill="#3c3c3c" opacity="0.7" filter="url(#blur15)"/>
<rect x="113.6" y="290" width="4" height="24" fill="#3c3c3c" opacity="0.7" filter="url(#blur15)"/>
<rect x="128.7" y="290" width="4" height="24" fill="#3c3c3c" opacity="0.7" filter="url(#blur15)"/>
<rect x="142.7" y="290" width="4" height="24" fill="#3c3c3c" opacity="0.7" filter="url(#blur15)"/>
<rect x="27.0" y="310" width="4" height="18" fill="#3c3c3c" opacity="0.7" filter="url(#blur15)"/>
<rect x="41.0" y="310" width="4" height="18" fill="#3c3c3c" opacity="0.7" filter="url(#blur15)"/>
<rect x="57.0" y="310" width="4" height="18" fill="#3c3c3c" opacity="0.7" filter="url(#blur15)"/>
<rect x="86.5" y="324" width="4" height="26" fill="#3c3c3c" opacity="0.7" filter="url(#blur15)"/>
<rect x="98.5" y="324" width="4" height="26" fill="#3c3c3c" opacity="0.7" filter="url(#blur15)"/>
<rect x="113.5" y="324" width="4" height="26" fill="#3c3c3c" opacity="0.7" filter="url(#blur15)"/>
<rect x="127.5" y="324" width="4" height="26" fill="#3c3c3c" opacity="0.7" filter="url(#blur15)"/>
<rect x="141.0" y="324" width="4" height="26" fill="#3c3c3c" opacity="0.7" filter="url(#blur15)"/>
</g>
</g>
<rect x="15.5" y="255.5" width="144" height="103" fill="none" stroke="#2a2a2a" stroke-width="1"/>
<rect x="131.5" y="353.5" width="21" height="1.6" fill="#f4f4f4"/>
<g clip-path="url(#emclip2)">
<rect x="161" y="255" width="144" height="104" filter="url(#emG2)"/>
<rect x="161" y="255" width="144" height="104" filter="url(#emLow)" style="mix-blend-mode:multiply"/>
<rect x="161" y="255" width="144" height="104" filter="url(#emSpk)"/>
<rect x="161" y="255" width="144" height="104" filter="url(#emDk)"/>
<path d="M154.2,242.5L149.5,237.7L138.7,237.7L121.7,242.5L121.5,249.4L137.8,258.5L148.7,260.1L154.0,254.3L156.6,249.7L156.6,246.5Z" fill="#fff" opacity="0.05"/>
<path d="M185.4,244.2L188.4,241.5L194.5,241.7L204.0,244.7L208.6,249.4L208.4,255.7L205.2,261.9L199.2,267.8L192.5,268.3L185.2,263.4L182.1,257.0L183.3,249.4Z" fill="#000" opacity="0.20"/>
<path d="M209.1,249.4L208.8,255.7L211.8,259.9L218.0,261.9L223.6,261.7L228.5,259.2L232.0,254.1L234.0,246.3L229.3,242.5L218.0,242.6L211.6,243.6L210.0,245.3Z" fill="#000" opacity="0.18"/>
<path d="M254.7,251.4L254.6,250.8L257.6,247.1L263.9,240.2L269.2,237.7L273.6,239.5L275.3,245.5L274.6,255.5L273.4,261.1L271.8,262.4L267.0,260.1L258.9,254.5Z" fill="#fff" opacity="0.15"/>
<path d="M294.9,257.7L293.4,259.3L288.4,260.2L279.8,260.5L275.8,255.5L276.6,245.3L277.4,240.1L278.2,239.9L283.2,240.8L292.2,242.7L297.2,244.3L298.0,245.5L297.7,248.8L296.4,254.2Z" fill="#000" opacity="0.11"/>
<path d="M159.1,277.4L151.5,274.7L147.4,270.9L146.7,266.1L149.1,260.7L154.4,254.8L162.0,254.4L171.8,259.5L173.6,266.1L167.3,274.1L163.8,278.2L163.2,278.6Z" fill="#000" opacity="0.10"/>
<path d="M167.9,274.2L174.2,266.2L178.3,262.0L180.3,261.6L184.9,263.8L192.2,268.7L196.1,272.7L196.5,275.8L193.0,279.2L185.6,282.7L177.7,282.9L169.1,279.7Z" fill="#000" opacity="0.18"/>
<path d="M205.6,262.6L199.8,268.3L197.1,272.7L197.5,275.7L198.1,277.9L198.9,279.1L205.8,280.0L218.7,280.7L224.0,276.7L221.6,268.0L217.4,262.7L211.5,260.7Z" fill="#fff" opacity="0.13"/>
<path d="M222.8,268.0L225.2,276.8L227.2,281.7L228.7,282.9L231.8,282.8L236.5,281.6L240.1,279.1L242.7,275.5L243.8,273.0L243.7,271.9L240.5,268.1L234.4,261.8L228.9,259.9L224.0,262.4Z" fill="#000" opacity="0.19"/>
<path d="M293.7,274.3L293.0,265.3L288.2,261.0L279.3,261.3L274.0,262.1L272.4,263.4L270.9,267.1L269.6,273.3L269.2,277.1L269.8,278.3L276.0,278.9L288.0,278.8Z" fill="#000" opacity="0.12"/>
<path d="M158.8,277.9L151.3,275.2L143.2,278.8L134.4,288.7L135.3,295.7L145.9,299.8L154.3,300.0L160.5,296.2L163.4,290.6L162.9,283.0Z" fill="#000" opacity="0.14"/>
<path d="M225.0,294.5L227.1,287.7L227.5,283.7L226.0,282.6L218.9,281.8L206.2,281.1L200.2,284.5L201.0,292.0L202.2,296.7L203.9,298.9L209.5,299.4L219.1,298.4Z" fill="#fff" opacity="0.11"/>
<path d="M268.1,292.9L268.8,284.0L268.8,279.0L268.3,277.8L262.3,276.5L250.9,275.1L244.0,276.2L241.5,279.8L243.1,285.5L248.8,293.3L255.4,297.5L263.0,298.1L267.0,298.1L267.6,297.6Z" fill="#fff" opacity="0.15"/>
<path d="M303.2,281.8L314.0,280.2L319.1,284.2L318.5,293.8L315.6,299.8L310.2,302.2L304.4,300.9L298.2,295.8L295.7,290.6L297.1,285.3Z" fill="#fff" opacity="0.05"/>
<path d="M161.0,296.8L154.8,300.5L153.0,306.1L155.6,313.7L161.7,316.9L171.4,315.6L176.5,312.3L176.8,306.9L176.4,303.3L175.2,301.5L172.0,299.1L166.8,296.3Z" fill="#000" opacity="0.08"/>
<path d="M202.8,299.8L201.1,297.6L194.6,298.4L183.4,302.3L177.5,307.0L177.2,312.4L178.5,317.0L181.3,320.6L186.9,321.8L195.1,320.5L200.2,318.6L202.2,316.1L203.3,311.4L203.5,304.4Z" fill="#fff" opacity="0.12"/>
<path d="M231.9,305.6L238.7,306.5L242.8,310.9L244.2,318.7L240.5,323.3L231.9,324.8L226.8,324.0L225.2,321.1L225.5,316.0L227.5,308.8Z" fill="#000" opacity="0.13"/>
<path d="M262.9,319.2L256.6,324.4L251.6,325.9L247.8,323.7L245.2,318.6L243.8,310.6L245.1,304.6L249.2,300.5L255.2,298.7L263.0,299.3L266.6,303.8L266.2,312.3Z" fill="#fff" opacity="0.06"/>
<path d="M290.4,313.4L286.2,304.8L280.2,300.0L272.6,299.1L268.5,298.8L268.0,299.3L267.5,303.8L267.1,312.2L268.4,317.3L271.3,319.1L277.7,319.5L287.5,318.3Z" fill="#000" opacity="0.07"/>
<path d="M305.6,311.0L307.3,306.4L310.7,303.0L316.0,300.6L325.6,305.7L339.5,318.3L342.1,325.4L333.5,327.1L323.1,324.3L310.9,317.0Z" fill="#fff" opacity="0.11"/>
<path d="M180.2,334.0L182.1,326.9L187.0,322.7L195.0,321.4L200.5,324.4L203.6,331.5L201.8,338.4L195.0,345.0L188.6,345.6L182.4,340.3Z" fill="#000" opacity="0.19"/>
<path d="M224.7,335.4L226.6,329.3L232.0,325.5L241.0,324.0L247.4,324.4L251.2,326.6L253.2,329.4L253.5,332.7L250.7,336.3L244.9,340.3L237.4,341.3L228.3,339.4Z" fill="#000" opacity="0.10"/>
<path d="M273.3,336.3L264.3,339.3L258.5,339.1L255.8,335.8L254.3,332.5L254.0,329.3L257.0,325.1L263.2,319.9L267.8,318.3L270.7,320.1L273.6,324.5L276.3,331.4Z" fill="#fff" opacity="0.08"/>
<path d="M295.5,331.4L294.7,323.6L294.0,319.4L293.3,319.0L288.1,319.3L278.3,320.5L274.8,324.5L277.5,331.3L280.7,335.8L284.4,337.9L288.7,338.0L293.5,336.2Z" fill="#fff" opacity="0.08"/>
<path d="M157.3,336.7L162.9,340.9L164.7,347.4L162.6,356.1L156.4,359.5L146.1,357.6L142.9,351.5L147.0,341.2L150.4,335.7L153.1,335.0Z" fill="#000" opacity="0.19"/>
<path d="M175.6,339.9L169.6,342.3L165.6,347.7L163.7,356.1L163.1,361.0L163.8,362.5L170.8,362.0L184.2,359.4L191.3,357.5L192.1,356.5L192.1,354.3L191.3,351.0L187.8,346.7L181.7,341.4Z" fill="#fff" opacity="0.10"/>
<path d="M217.0,358.9L210.9,359.9L204.4,359.4L197.3,357.1L193.4,354.3L192.5,350.9L195.5,345.8L202.5,339.0L209.8,336.9L217.5,339.2L221.0,344.9L220.4,353.8Z" fill="#000" opacity="0.13"/>
<path d="M245.8,356.8L251.9,358.9L256.8,359.3L260.5,357.8L261.5,353.2L259.9,345.6L257.8,340.2L255.2,337.0L251.1,337.3L245.5,341.1L242.7,346.2L242.8,352.5Z" fill="#fff" opacity="0.14"/>
<path d="M298.9,337.7L303.7,340.4L306.3,343.8L306.7,347.9L304.3,352.9L299.0,358.6L291.8,361.1L282.5,360.2L280.1,354.9L284.5,345.0L289.1,339.1L294.0,337.3Z" fill="#000" opacity="0.07"/>
<path d="M228.1,371.9L233.0,389.6L240.1,389.2L249.4,370.7L251.0,360.4L244.9,358.2L237.8,358.6L229.7,361.5Z" fill="#fff" opacity="0.14"/>
<path d="M304.8,353.7L299.6,359.5L300.0,370.4L306.1,386.4L311.2,386.0L315.3,369.0L314.9,358.1L309.9,353.2Z" fill="#000" opacity="0.13"/>
<path d="M154.2,242.5L149.5,237.7L138.7,237.7L121.7,242.5L121.5,249.4L137.8,258.5L148.7,260.1L154.0,254.3L156.6,249.7L156.6,246.5ZM160.2,243.1L165.9,239.5L172.4,239.7L179.7,243.6L182.8,249.3L181.6,256.9L180.0,261.0L178.0,261.4L172.1,259.1L162.3,254.0L157.4,249.8L157.4,246.6ZM185.4,244.2L188.4,241.5L194.5,241.7L204.0,244.7L208.6,249.4L208.4,255.7L205.2,261.9L199.2,267.8L192.5,268.3L185.2,263.4L182.1,257.0L183.3,249.4ZM209.1,249.4L208.8,255.7L211.8,259.9L218.0,261.9L223.6,261.7L228.5,259.2L232.0,254.1L234.0,246.3L229.3,242.5L218.0,242.6L211.6,243.6L210.0,245.3ZM235.8,242.2L236.6,241.6L241.1,243.6L249.3,248.3L253.5,250.9L253.6,251.5L251.3,256.5L246.4,266.0L240.9,267.5L234.6,261.1L232.5,254.1L234.5,246.3ZM254.7,251.4L254.6,250.8L257.6,247.1L263.9,240.2L269.2,237.7L273.6,239.5L275.3,245.5L274.6,255.5L273.4,261.1L271.8,262.4L267.0,260.1L258.9,254.5ZM294.9,257.7L293.4,259.3L288.4,260.2L279.8,260.5L275.8,255.5L276.6,245.3L277.4,240.1L278.2,239.9L283.2,240.8L292.2,242.7L297.2,244.3L298.0,245.5L297.7,248.8L296.4,254.2ZM317.8,268.7L304.5,261.0L298.6,254.5L299.9,249.1L319.8,245.4L358.2,243.4L364.2,250.0L337.7,265.0ZM159.1,277.4L151.5,274.7L147.4,270.9L146.7,266.1L149.1,260.7L154.4,254.8L162.0,254.4L171.8,259.5L173.6,266.1L167.3,274.1L163.8,278.2L163.2,278.6ZM167.9,274.2L174.2,266.2L178.3,262.0L180.3,261.6L184.9,263.8L192.2,268.7L196.1,272.7L196.5,275.8L193.0,279.2L185.6,282.7L177.7,282.9L169.1,279.7ZM205.6,262.6L199.8,268.3L197.1,272.7L197.5,275.7L198.1,277.9L198.9,279.1L205.8,280.0L218.7,280.7L224.0,276.7L221.6,268.0L217.4,262.7L211.5,260.7ZM222.8,268.0L225.2,276.8L227.2,281.7L228.7,282.9L231.8,282.8L236.5,281.6L240.1,279.1L242.7,275.5L243.8,273.0L243.7,271.9L240.5,268.1L234.4,261.8L228.9,259.9L224.0,262.4ZM246.8,266.4L251.7,256.9L258.3,255.1L266.8,261.0L270.3,267.1L269.0,273.3L262.4,275.6L250.6,274.2L244.6,272.9L244.5,271.7ZM293.7,274.3L293.0,265.3L288.2,261.0L279.3,261.3L274.0,262.1L272.4,263.4L270.9,267.1L269.6,273.3L269.2,277.1L269.8,278.3L276.0,278.9L288.0,278.8ZM322.0,274.9L319.9,277.3L313.6,279.3L303.1,280.9L297.2,280.9L295.7,279.3L294.7,274.3L294.0,265.6L294.4,260.6L295.9,259.0L303.2,262.1L316.5,269.8ZM158.8,277.9L151.3,275.2L143.2,278.8L134.4,288.7L135.3,295.7L145.9,299.8L154.3,300.0L160.5,296.2L163.4,290.6L162.9,283.0ZM163.4,283.0L163.9,290.6L166.8,295.8L172.1,298.6L176.5,296.3L179.9,288.7L177.3,283.3L168.7,280.1L164.1,278.7L163.5,279.0ZM185.9,283.5L192.9,280.2L196.9,279.1L197.7,280.3L198.5,284.6L199.2,292.0L194.3,297.5L183.5,301.3L177.5,302.3L176.4,300.5L177.5,296.1L180.8,288.9ZM225.0,294.5L227.1,287.7L227.5,283.7L226.0,282.6L218.9,281.8L206.2,281.1L200.2,284.5L201.0,292.0L202.2,296.7L203.9,298.9L209.5,299.4L219.1,298.4ZM232.0,304.5L238.9,305.4L244.3,303.8L248.4,299.8L247.6,293.8L241.8,285.9L236.6,282.6L231.9,283.8L228.5,287.9L226.3,294.8L226.0,299.7L227.8,302.6ZM268.1,292.9L268.8,284.0L268.8,279.0L268.3,277.8L262.3,276.5L250.9,275.1L244.0,276.2L241.5,279.8L243.1,285.5L248.8,293.3L255.4,297.5L263.0,298.1L267.0,298.1L267.6,297.6ZM287.0,298.2L291.9,294.9L295.1,290.5L296.5,285.1L296.5,281.6L295.0,280.0L288.2,279.2L276.2,279.3L269.8,284.0L269.1,293.2L272.7,298.3L280.6,299.3ZM303.2,281.8L314.0,280.2L319.1,284.2L318.5,293.8L315.6,299.8L310.2,302.2L304.4,300.9L298.2,295.8L295.7,290.6L297.1,285.3ZM161.0,296.8L154.8,300.5L153.0,306.1L155.6,313.7L161.7,316.9L171.4,315.6L176.5,312.3L176.8,306.9L176.4,303.3L175.2,301.5L172.0,299.1L166.8,296.3ZM202.8,299.8L201.1,297.6L194.6,298.4L183.4,302.3L177.5,307.0L177.2,312.4L178.5,317.0L181.3,320.6L186.9,321.8L195.1,320.5L200.2,318.6L202.2,316.1L203.3,311.4L203.5,304.4ZM226.6,308.3L224.5,315.5L218.7,318.0L209.0,315.8L204.3,311.2L204.6,304.4L209.6,300.5L219.3,299.5L225.1,300.4L226.8,303.2ZM231.9,305.6L238.7,306.5L242.8,310.9L244.2,318.7L240.5,323.3L231.9,324.8L226.8,324.0L225.2,321.1L225.5,316.0L227.5,308.8ZM262.9,319.2L256.6,324.4L251.6,325.9L247.8,323.7L245.2,318.6L243.8,310.6L245.1,304.6L249.2,300.5L255.2,298.7L263.0,299.3L266.6,303.8L266.2,312.3ZM290.4,313.4L286.2,304.8L280.2,300.0L272.6,299.1L268.5,298.8L268.0,299.3L267.5,303.8L267.1,312.2L268.4,317.3L271.3,319.1L277.7,319.5L287.5,318.3ZM291.3,313.5L286.9,304.7L287.2,298.6L292.2,295.3L297.8,296.2L304.2,301.3L306.5,306.2L304.9,310.9L301.7,314.6L297.1,317.5L294.5,318.7L293.8,318.2ZM305.6,311.0L307.3,306.4L310.7,303.0L316.0,300.6L325.6,305.7L339.5,318.3L342.1,325.4L333.5,327.1L323.1,324.3L310.9,317.0ZM154.1,330.3L154.9,322.7L140.6,319.6L111.0,321.0L109.3,325.1L135.4,332.0L149.7,335.1L152.3,334.4ZM175.3,338.8L169.0,341.3L163.1,340.5L157.6,336.3L155.2,330.3L156.1,322.5L156.6,318.5L156.7,318.2L161.7,317.5L171.5,316.2L177.8,317.4L180.7,321.1L181.2,326.6L179.3,333.9ZM180.2,334.0L182.1,326.9L187.0,322.7L195.0,321.4L200.5,324.4L203.6,331.5L201.8,338.4L195.0,345.0L188.6,345.6L182.4,340.3ZM203.3,317.0L201.3,319.4L201.9,324.1L205.0,331.2L210.2,335.9L217.6,338.2L221.6,339.0L222.3,338.3L223.6,335.0L225.5,329.2L225.6,324.8L224.1,321.8L218.5,319.2L209.0,317.0ZM224.7,335.4L226.6,329.3L232.0,325.5L241.0,324.0L247.4,324.4L251.2,326.6L253.2,329.4L253.5,332.7L250.7,336.3L244.9,340.3L237.4,341.3L228.3,339.4ZM273.3,336.3L264.3,339.3L258.5,339.1L255.8,335.8L254.3,332.5L254.0,329.3L257.0,325.1L263.2,319.9L267.8,318.3L270.7,320.1L273.6,324.5L276.3,331.4ZM295.5,331.4L294.7,323.6L294.0,319.4L293.3,319.0L288.1,319.3L278.3,320.5L274.8,324.5L277.5,331.3L280.7,335.8L284.4,337.9L288.7,338.0L293.5,336.2ZM299.3,336.9L304.2,339.6L312.2,337.8L323.2,331.6L322.6,324.8L310.3,317.5L302.0,315.2L297.4,318.0L295.6,323.4L296.4,331.5ZM157.3,336.7L162.9,340.9L164.7,347.4L162.6,356.1L156.4,359.5L146.1,357.6L142.9,351.5L147.0,341.2L150.4,335.7L153.1,335.0ZM175.6,339.9L169.6,342.3L165.6,347.7L163.7,356.1L163.1,361.0L163.8,362.5L170.8,362.0L184.2,359.4L191.3,357.5L192.1,356.5L192.1,354.3L191.3,351.0L187.8,346.7L181.7,341.4ZM217.0,358.9L210.9,359.9L204.4,359.4L197.3,357.1L193.4,354.3L192.5,350.9L195.5,345.8L202.5,339.0L209.8,336.9L217.5,339.2L221.0,344.9L220.4,353.8ZM221.0,353.8L221.6,344.9L222.3,340.1L223.0,339.3L227.9,339.9L237.1,341.8L241.6,346.1L241.7,352.7L237.5,357.6L229.0,360.6L223.8,361.2L221.7,359.3ZM245.8,356.8L251.9,358.9L256.8,359.3L260.5,357.8L261.5,353.2L259.9,345.6L257.8,340.2L255.2,337.0L251.1,337.3L245.5,341.1L242.7,346.2L242.8,352.5ZM283.7,344.9L279.2,355.1L276.2,360.6L274.5,361.7L271.1,361.0L265.9,358.6L262.5,353.4L260.8,345.5L264.5,340.0L273.7,337.0L280.2,336.6L284.0,338.8ZM298.9,337.7L303.7,340.4L306.3,343.8L306.7,347.9L304.3,352.9L299.0,358.6L291.8,361.1L282.5,360.2L280.1,354.9L284.5,345.0L289.1,339.1L294.0,337.3ZM228.1,371.9L233.0,389.6L240.1,389.2L249.4,370.7L251.0,360.4L244.9,358.2L237.8,358.6L229.7,361.5ZM304.8,353.7L299.6,359.5L300.0,370.4L306.1,386.4L311.2,386.0L315.3,369.0L314.9,358.1L309.9,353.2Z" stroke="#383838" stroke-width="1.0" fill="none" opacity="0.75" filter="url(#blur05)"/>
<path d="M161,262L230,359" stroke="#3a3a3a" stroke-width="2.2" opacity="0.5" filter="url(#blur15)"/>
<path d="M180,300L240,359" stroke="#3a3a3a" stroke-width="2.2" opacity="0.5" filter="url(#blur15)"/>
<path d="M200,255L260,330" stroke="#3a3a3a" stroke-width="2.2" opacity="0.5" filter="url(#blur15)"/>
<path d="M161,320L200,359" stroke="#3a3a3a" stroke-width="2.2" opacity="0.5" filter="url(#blur15)"/>
<path d="M240,255L305,330" stroke="#3a3a3a" stroke-width="2.2" opacity="0.5" filter="url(#blur15)"/>
<path d="M255,300L305,359" stroke="#3a3a3a" stroke-width="2.2" opacity="0.5" filter="url(#blur15)"/>
<path d="M161,290L185,320" stroke="#3a3a3a" stroke-width="2.2" opacity="0.5" filter="url(#blur15)"/>
<circle cx="208" cy="302" r="3.5" fill="#b8b8b8" stroke="#555" stroke-width="0.9"/>
<circle cx="291" cy="339" r="3.5" fill="#b8b8b8" stroke="#555" stroke-width="0.9"/>
<circle cx="245" cy="344" r="3" fill="#b8b8b8" stroke="#555" stroke-width="0.9"/>
</g>
<rect x="161.5" y="255.5" width="143" height="103" fill="none" stroke="#2a2a2a" stroke-width="1"/>
<path d="M169.6,273.6 l3.8,0.9 l-1.1,0.9 l2.3,2.3 l-1.0,1.0 l-2.3,-2.3 l-0.9,1.1 Z" fill="#ff1a1a"/>
<path d="M199.4,268.9 l3.8,0.9 l-1.1,0.9 l2.3,2.3 l-1.0,1.0 l-2.3,-2.3 l-0.9,1.1 Z" fill="#ff1a1a"/>
<path d="M253.3,273.2 l3.8,0.9 l-1.1,0.9 l2.3,2.3 l-1.0,1.0 l-2.3,-2.3 l-0.9,1.1 Z" fill="#ff1a1a"/>
<path d="M168.1,302.6 l3.8,0.9 l-1.1,0.9 l2.3,2.3 l-1.0,1.0 l-2.3,-2.3 l-0.9,1.1 Z" fill="#ff1a1a"/>
<path d="M252.1,302.6 l3.8,0.9 l-1.1,0.9 l2.3,2.3 l-1.0,1.0 l-2.3,-2.3 l-0.9,1.1 Z" fill="#ff1a1a"/>
<path d="M274.0,320.5 l3.8,0.9 l-1.1,0.9 l2.3,2.3 l-1.0,1.0 l-2.3,-2.3 l-0.9,1.1 Z" fill="#ff1a1a"/>
<path d="M186.6,353.7 l3.8,0.9 l-1.1,0.9 l2.3,2.3 l-1.0,1.0 l-2.3,-2.3 l-0.9,1.1 Z" fill="#ff1a1a"/>
<path d="M234.2,349.5 l3.8,0.9 l-1.1,0.9 l2.3,2.3 l-1.0,1.0 l-2.3,-2.3 l-0.9,1.1 Z" fill="#ff1a1a"/>
<path d="M288.3,346.7 l3.8,0.9 l-1.1,0.9 l2.3,2.3 l-1.0,1.0 l-2.3,-2.3 l-0.9,1.1 Z" fill="#ff1a1a"/>
<g clip-path="url(#emclip3)">
<rect x="307" y="255" width="145" height="104" filter="url(#emG3)"/>
<rect x="307" y="255" width="145" height="104" filter="url(#emLow)" style="mix-blend-mode:multiply"/>
<rect x="307" y="255" width="145" height="104" filter="url(#emSpk)"/>
<rect x="307" y="255" width="145" height="104" filter="url(#emDk)"/>
<path d="M305.5,251.1L299.0,243.8L296.9,230.5L299.1,211.2L304.8,211.8L314.1,232.3L316.6,245.5L312.4,251.4L309.9,254.5L309.1,254.6Z" fill="#fff" opacity="0.06"/>
<path d="M305.5,257.1L301.2,261.1L291.5,260.2L276.5,254.5L275.5,249.0L288.6,243.7L298.3,244.6L304.6,251.7Z" fill="#000" opacity="0.20"/>
<path d="M314.0,256.9L318.9,261.0L325.9,262.8L335.0,262.0L339.8,261.4L340.1,260.8L339.5,255.5L337.9,245.6L337.1,240.7L337.1,240.6L332.7,241.3L324.1,242.6L317.8,246.1L313.6,252.0Z" fill="#000" opacity="0.08"/>
<path d="M369.8,242.0L364.0,240.4L360.4,244.2L359.2,253.3L359.0,258.3L359.9,259.0L364.0,259.3L371.2,259.2L374.3,255.1L373.3,246.9Z" fill="#000" opacity="0.18"/>
<path d="M382.6,239.1L376.8,241.5L374.4,246.8L375.5,255.0L377.6,260.5L380.7,263.2L385.0,262.9L390.2,259.7L392.6,254.0L392.1,245.8L390.3,240.7L387.1,238.8Z" fill="#000" opacity="0.19"/>
<path d="M405.8,262.5L398.1,259.6L394.0,254.0L393.5,245.8L395.5,240.7L400.0,239.0L406.5,240.2L415.0,244.5L419.0,248.8L418.5,253.0L416.1,257.3L411.8,261.8Z" fill="#000" opacity="0.14"/>
<path d="M432.3,259.6L438.1,258.1L440.5,253.8L439.6,246.8L435.9,242.6L429.7,241.0L425.0,241.8L422.0,245.0L420.3,248.7L419.8,253.0L422.0,256.5L426.9,259.1Z" fill="#fff" opacity="0.12"/>
<path d="M450.5,259.8L453.7,256.9L455.4,253.4L455.5,249.2L453.6,245.7L449.5,242.6L445.6,241.7L442.0,243.0L440.7,247.0L441.6,253.8L443.8,258.2L447.2,260.2Z" fill="#fff" opacity="0.12"/>
<path d="M307.6,281.6L302.0,274.6L299.4,269.4L300.0,265.9L302.4,262.1L306.7,258.2L309.2,256.2L310.0,256.0L312.8,258.0L317.6,262.0L320.0,267.6L320.2,274.7L317.8,280.0L312.9,283.3Z" fill="#000" opacity="0.18"/>
<path d="M352.2,282.9L346.6,280.1L343.1,274.7L341.7,266.7L341.1,262.4L341.5,261.8L345.6,260.9L353.6,259.7L358.1,259.4L359.0,260.2L359.8,265.2L360.5,274.5L359.4,280.4L356.5,283.0Z" fill="#000" opacity="0.09"/>
<path d="M381.4,268.0L380.4,273.0L375.4,276.5L366.3,278.5L361.5,274.6L360.7,265.0L364.1,260.2L371.6,260.0L377.0,261.4L380.2,264.1Z" fill="#fff" opacity="0.11"/>
<path d="M409.4,276.1L407.5,279.2L401.2,281.2L390.6,282.1L384.1,280.8L381.7,277.4L381.1,273.2L382.1,268.1L385.3,263.9L390.8,260.6L397.5,260.5L405.5,263.5L409.7,267.4L410.1,272.1Z" fill="#fff" opacity="0.13"/>
<path d="M422.6,278.3L415.0,275.7L411.0,272.0L410.6,267.3L412.6,262.7L417.0,258.2L421.6,257.2L426.6,259.9L430.4,264.6L433.1,271.3L432.4,275.9L428.4,278.4Z" fill="#fff" opacity="0.11"/>
<path d="M308.6,293.1L309.3,288.7L306.9,283.0L301.3,276.1L293.8,276.0L284.6,282.7L285.4,289.5L296.1,296.3L303.1,298.6L306.6,296.4Z" fill="#000" opacity="0.19"/>
<path d="M309.9,293.3L310.6,288.8L313.5,284.8L318.5,281.3L324.2,280.7L330.7,282.9L333.1,286.8L331.6,292.4L327.3,296.1L320.5,298.2L315.2,298.3L311.4,296.5Z" fill="#000" opacity="0.17"/>
<path d="M355.1,295.7L353.0,300.0L348.6,302.4L341.7,302.9L336.7,301.2L333.6,297.2L332.8,292.4L334.3,286.9L337.1,283.1L341.3,281.0L346.2,281.4L351.9,284.3L355.1,287.7L355.8,291.6Z" fill="#fff" opacity="0.12"/>
<path d="M383.6,293.1L384.2,286.3L383.3,281.3L381.0,278.0L375.3,277.2L366.3,279.2L360.4,281.5L357.4,284.1L356.3,287.4L357.0,291.5L362.4,295.1L372.4,298.5L378.9,299.2L381.8,297.4Z" fill="#000" opacity="0.18"/>
<path d="M428.3,299.8L428.6,299.5L428.0,294.7L426.7,285.3L422.4,279.3L414.9,276.7L410.3,276.9L408.5,280.0L408.0,284.4L408.9,290.2L414.1,294.9L423.5,298.2Z" fill="#000" opacity="0.07"/>
<path d="M308.5,319.2L318.2,319.9L323.5,319.4L324.2,317.7L322.5,312.7L318.5,304.4L314.7,299.4L310.9,297.6L307.3,297.8L303.9,300.0L301.1,304.3L299.2,310.8L299.5,315.2L302.3,317.6Z" fill="#000" opacity="0.19"/>
<path d="M417.1,316.0L424.2,312.0L427.9,307.7L428.2,303.2L423.5,299.1L413.8,295.7L406.6,296.7L402.0,302.3L400.1,307.4L401.1,312.0L404.5,315.2L410.5,317.1Z" fill="#fff" opacity="0.08"/>
<path d="M292.2,335.7L275.3,330.0L274.4,324.1L289.6,318.2L298.5,316.4L301.2,318.8L303.1,324.4L304.1,333.2L303.6,337.9L301.7,338.3Z" fill="#000" opacity="0.14"/>
<path d="M399.2,335.3L402.4,338.9L406.8,338.0L412.4,332.6L414.6,327.2L413.5,321.7L410.0,318.1L404.3,316.3L400.2,316.7L397.8,319.2L396.8,323.8L397.3,330.3Z" fill="#000" opacity="0.20"/>
<path d="M339.4,353.0L331.8,356.1L325.6,354.0L320.8,347.0L320.7,340.5L325.1,334.7L331.9,332.8L341.2,334.6L345.9,335.8L346.2,336.3L345.5,340.3L344.0,347.8Z" fill="#fff" opacity="0.15"/>
<path d="M378.5,343.1L379.7,347.4L384.4,351.6L392.6,355.6L398.6,355.7L402.4,351.9L404.1,347.9L403.7,343.9L401.8,340.1L398.5,336.5L392.1,336.2L382.7,339.3Z" fill="#000" opacity="0.19"/>
<path d="M419.5,332.5L426.7,336.6L429.2,341.8L427.0,348.0L424.0,351.4L420.0,351.8L414.8,351.6L408.3,350.5L404.9,347.9L404.5,343.8L407.2,338.9L413.0,333.3Z" fill="#000" opacity="0.14"/>
<path d="M431.8,338.5L433.3,337.5L438.8,338.7L448.2,342.1L453.0,346.7L453.1,352.6L447.3,355.4L435.8,355.2L429.2,354.1L427.7,352.0L428.0,348.0L430.0,342.0Z" fill="#000" opacity="0.11"/>
<path d="M305.5,251.1L299.0,243.8L296.9,230.5L299.1,211.2L304.8,211.8L314.1,232.3L316.6,245.5L312.4,251.4L309.9,254.5L309.1,254.6ZM305.5,257.1L301.2,261.1L291.5,260.2L276.5,254.5L275.5,249.0L288.6,243.7L298.3,244.6L304.6,251.7ZM314.0,256.9L318.9,261.0L325.9,262.8L335.0,262.0L339.8,261.4L340.1,260.8L339.5,255.5L337.9,245.6L337.1,240.7L337.1,240.6L332.7,241.3L324.1,242.6L317.8,246.1L313.6,252.0ZM359.8,243.7L358.6,253.3L353.7,258.7L345.4,260.0L340.4,255.5L338.8,245.3L343.4,239.6L354.1,238.4L359.8,238.1L360.2,238.7ZM369.8,242.0L364.0,240.4L360.4,244.2L359.2,253.3L359.0,258.3L359.9,259.0L364.0,259.3L371.2,259.2L374.3,255.1L373.3,246.9ZM382.6,239.1L376.8,241.5L374.4,246.8L375.5,255.0L377.6,260.5L380.7,263.2L385.0,262.9L390.2,259.7L392.6,254.0L392.1,245.8L390.3,240.7L387.1,238.8ZM405.8,262.5L398.1,259.6L394.0,254.0L393.5,245.8L395.5,240.7L400.0,239.0L406.5,240.2L415.0,244.5L419.0,248.8L418.5,253.0L416.1,257.3L411.8,261.8ZM432.3,259.6L438.1,258.1L440.5,253.8L439.6,246.8L435.9,242.6L429.7,241.0L425.0,241.8L422.0,245.0L420.3,248.7L419.8,253.0L422.0,256.5L426.9,259.1ZM450.5,259.8L453.7,256.9L455.4,253.4L455.5,249.2L453.6,245.7L449.5,242.6L445.6,241.7L442.0,243.0L440.7,247.0L441.6,253.8L443.8,258.2L447.2,260.2ZM307.6,281.6L302.0,274.6L299.4,269.4L300.0,265.9L302.4,262.1L306.7,258.2L309.2,256.2L310.0,256.0L312.8,258.0L317.6,262.0L320.0,267.6L320.2,274.7L317.8,280.0L312.9,283.3ZM321.5,275.2L321.4,267.9L325.9,263.9L335.2,263.2L340.6,266.9L342.0,275.0L340.7,280.1L336.5,282.2L331.2,282.2L324.8,279.9ZM352.2,282.9L346.6,280.1L343.1,274.7L341.7,266.7L341.1,262.4L341.5,261.8L345.6,260.9L353.6,259.7L358.1,259.4L359.0,260.2L359.8,265.2L360.5,274.5L359.4,280.4L356.5,283.0ZM381.4,268.0L380.4,273.0L375.4,276.5L366.3,278.5L361.5,274.6L360.7,265.0L364.1,260.2L371.6,260.0L377.0,261.4L380.2,264.1ZM409.4,276.1L407.5,279.2L401.2,281.2L390.6,282.1L384.1,280.8L381.7,277.4L381.1,273.2L382.1,268.1L385.3,263.9L390.8,260.6L397.5,260.5L405.5,263.5L409.7,267.4L410.1,272.1ZM422.6,278.3L415.0,275.7L411.0,272.0L410.6,267.3L412.6,262.7L417.0,258.2L421.6,257.2L426.6,259.9L430.4,264.6L433.1,271.3L432.4,275.9L428.4,278.4ZM448.5,273.0L448.7,265.8L446.9,261.1L443.4,259.0L438.6,258.7L432.7,260.3L431.1,264.5L433.8,271.3L438.5,275.2L445.1,276.2ZM463.4,279.7L482.2,274.5L482.7,268.0L465.0,260.3L454.5,258.0L451.2,261.0L449.5,266.0L449.4,273.1L450.5,278.1L452.8,280.9ZM308.6,293.1L309.3,288.7L306.9,283.0L301.3,276.1L293.8,276.0L284.6,282.7L285.4,289.5L296.1,296.3L303.1,298.6L306.6,296.4ZM309.9,293.3L310.6,288.8L313.5,284.8L318.5,281.3L324.2,280.7L330.7,282.9L333.1,286.8L331.6,292.4L327.3,296.1L320.5,298.2L315.2,298.3L311.4,296.5ZM355.1,295.7L353.0,300.0L348.6,302.4L341.7,302.9L336.7,301.2L333.6,297.2L332.8,292.4L334.3,286.9L337.1,283.1L341.3,281.0L346.2,281.4L351.9,284.3L355.1,287.7L355.8,291.6ZM383.6,293.1L384.2,286.3L383.3,281.3L381.0,278.0L375.3,277.2L366.3,279.2L360.4,281.5L357.4,284.1L356.3,287.4L357.0,291.5L362.4,295.1L372.4,298.5L378.9,299.2L381.8,297.4ZM407.5,290.5L406.6,284.7L401.1,282.2L390.9,283.0L385.5,286.6L384.9,293.2L388.2,298.4L395.4,302.2L401.2,301.4L405.7,296.1ZM428.3,299.8L428.6,299.5L428.0,294.7L426.7,285.3L422.4,279.3L414.9,276.7L410.3,276.9L408.5,280.0L408.0,284.4L408.9,290.2L414.1,294.9L423.5,298.2ZM449.3,288.1L442.7,293.3L436.9,296.9L432.1,298.8L429.0,294.8L427.6,285.1L429.0,279.0L433.0,276.5L438.4,275.7L445.2,276.7L449.7,278.7L452.1,281.6L453.1,283.7L452.8,284.8ZM308.5,319.2L318.2,319.9L323.5,319.4L324.2,317.7L322.5,312.7L318.5,304.4L314.7,299.4L310.9,297.6L307.3,297.8L303.9,300.0L301.1,304.3L299.2,310.8L299.5,315.2L302.3,317.6ZM320.9,298.9L327.7,296.9L332.7,297.9L335.9,301.9L336.2,306.1L333.5,310.5L330.5,313.7L327.2,315.7L323.5,312.5L319.5,304.1ZM341.6,303.6L348.7,303.1L353.1,306.2L354.8,313.0L354.4,317.8L352.0,320.6L346.3,319.8L337.2,315.3L334.0,310.8L336.7,306.2ZM371.9,299.4L362.1,296.1L356.1,296.6L354.1,300.8L353.8,306.1L355.4,312.7L360.5,316.8L369.0,318.5L374.2,314.8L376.0,305.6ZM375.5,320.5L375.0,319.9L375.6,315.0L377.4,305.9L379.7,300.4L382.5,298.6L387.5,299.6L394.7,303.5L398.8,307.6L399.7,312.1L399.0,315.6L396.6,318.2L390.5,319.8L380.7,320.5ZM417.1,316.0L424.2,312.0L427.9,307.7L428.2,303.2L423.5,299.1L413.8,295.7L406.6,296.7L402.0,302.3L400.1,307.4L401.1,312.0L404.5,315.2L410.5,317.1ZM430.9,312.4L435.6,317.2L442.4,318.9L451.4,317.8L451.8,312.0L443.4,301.8L436.8,297.6L432.0,299.5L429.5,300.5L429.3,300.8L429.0,303.2L428.7,307.8ZM462.7,309.9L456.2,294.1L449.7,288.8L443.1,293.9L444.1,301.7L452.4,311.9L459.0,317.3L463.6,317.6ZM292.2,335.7L275.3,330.0L274.4,324.1L289.6,318.2L298.5,316.4L301.2,318.8L303.1,324.4L304.1,333.2L303.6,337.9L301.7,338.3ZM308.1,339.3L312.7,341.8L315.6,343.0L316.9,343.0L319.7,340.0L324.2,334.3L325.6,328.9L324.2,324.0L318.5,321.2L308.7,320.4L304.3,324.5L305.3,333.6ZM325.3,323.5L326.8,328.3L332.0,331.6L340.9,333.4L346.5,331.3L348.6,325.3L345.4,320.2L336.8,316.0L330.9,314.8L327.6,316.7L325.7,318.6L325.0,320.3ZM370.1,337.4L363.6,338.7L357.1,338.5L350.8,336.7L347.5,335.6L347.3,335.1L348.2,331.8L350.4,325.6L352.6,321.2L354.9,318.6L360.3,318.1L368.9,319.8L373.4,320.9L373.9,321.6L374.0,325.6L373.6,333.0ZM382.2,338.8L391.8,335.6L396.4,330.6L395.8,323.8L390.5,320.7L380.4,321.4L375.1,325.6L374.8,333.2L375.3,337.8L376.7,339.5ZM399.2,335.3L402.4,338.9L406.8,338.0L412.4,332.6L414.6,327.2L413.5,321.7L410.0,318.1L404.3,316.3L400.2,316.7L397.8,319.2L396.8,323.8L397.3,330.3ZM417.8,316.8L424.7,312.9L430.4,313.3L435.0,318.0L436.4,324.2L434.4,331.9L432.6,336.2L431.1,337.3L426.9,335.8L420.0,331.9L416.0,327.1L414.9,321.6ZM463.9,318.3L459.1,317.9L452.1,318.3L442.8,319.5L437.2,324.2L435.1,332.2L439.1,337.9L449.0,341.5L458.5,337.9L467.4,327.1L470.5,320.9L467.7,319.3ZM298.1,344.4L291.8,354.2L292.5,358.7L300.4,357.8L306.9,353.9L312.1,347.1L312.4,342.4L307.7,339.8L304.3,338.8L302.2,339.3ZM339.4,353.0L331.8,356.1L325.6,354.0L320.8,347.0L320.7,340.5L325.1,334.7L331.9,332.8L341.2,334.6L345.9,335.8L346.2,336.3L345.5,340.3L344.0,347.8ZM359.7,360.3L357.1,363.0L352.8,361.3L346.9,355.0L344.7,348.1L346.3,340.5L350.3,337.6L356.8,339.5L360.3,345.0L360.8,354.3ZM377.6,343.1L378.7,347.5L378.4,350.7L376.5,352.7L372.1,354.9L365.1,357.4L361.4,354.1L360.9,344.9L364.0,339.6L370.8,338.3L374.9,338.4L376.3,340.1ZM378.5,343.1L379.7,347.4L384.4,351.6L392.6,355.6L398.6,355.7L402.4,351.9L404.1,347.9L403.7,343.9L401.8,340.1L398.5,336.5L392.1,336.2L382.7,339.3ZM419.5,332.5L426.7,336.6L429.2,341.8L427.0,348.0L424.0,351.4L420.0,351.8L414.8,351.6L408.3,350.5L404.9,347.9L404.5,343.8L407.2,338.9L413.0,333.3ZM431.8,338.5L433.3,337.5L438.8,338.7L448.2,342.1L453.0,346.7L453.1,352.6L447.3,355.4L435.8,355.2L429.2,354.1L427.7,352.0L428.0,348.0L430.0,342.0ZM312.4,347.3L307.3,354.1L309.2,363.4L318.2,375.1L323.9,375.3L326.2,363.9L325.0,354.6L320.1,347.4L317.0,343.8L315.6,343.9Z" stroke="#383838" stroke-width="1.0" fill="none" opacity="0.75" filter="url(#blur05)"/>
<rect x="307" y="255" width="145" height="14" fill="#c8c8c8" opacity="0.35" filter="url(#blur2)"/>
<rect x="307" y="290" width="145" height="38" fill="#404040" opacity="0.45" filter="url(#blur3)"/>
<circle cx="367" cy="334" r="4" fill="#c8c8c8" stroke="#555" stroke-width="0.8"/>
<g mask="url(#emmask3)">
<rect x="307" y="255" width="145" height="104" filter="url(#emBandV)"/>
<rect x="309.0" y="268" width="2.6" height="23" fill="#2a2a2a" opacity="0.75" filter="url(#blur05)"/>
<rect x="326.3" y="268" width="2.6" height="23" fill="#2a2a2a" opacity="0.75" filter="url(#blur05)"/>
<rect x="343.6" y="268" width="2.6" height="23" fill="#2a2a2a" opacity="0.75" filter="url(#blur05)"/>
<rect x="360.9" y="268" width="2.6" height="23" fill="#2a2a2a" opacity="0.75" filter="url(#blur05)"/>
<rect x="378.2" y="268" width="2.6" height="23" fill="#2a2a2a" opacity="0.75" filter="url(#blur05)"/>
<rect x="395.5" y="268" width="2.6" height="23" fill="#2a2a2a" opacity="0.75" filter="url(#blur05)"/>
<rect x="412.7" y="268" width="2.6" height="23" fill="#2a2a2a" opacity="0.75" filter="url(#blur05)"/>
<rect x="430.0" y="268" width="2.6" height="23" fill="#2a2a2a" opacity="0.75" filter="url(#blur05)"/>
<rect x="447.3" y="268" width="2.6" height="23" fill="#2a2a2a" opacity="0.75" filter="url(#blur05)"/>
<rect x="310.1" y="323" width="2.6" height="38" fill="#2a2a2a" opacity="0.75" filter="url(#blur05)"/>
<rect x="328.5" y="323" width="2.6" height="38" fill="#2a2a2a" opacity="0.75" filter="url(#blur05)"/>
<rect x="344.7" y="323" width="2.6" height="38" fill="#2a2a2a" opacity="0.75" filter="url(#blur05)"/>
</g>
</g>
<rect x="307.5" y="255.5" width="144" height="103" fill="none" stroke="#2a2a2a" stroke-width="1"/>
<path d="M324.4,265.9 l3.8,0.9 l-1.1,0.9 l2.3,2.3 l-1.0,1.0 l-2.3,-2.3 l-0.9,1.1 Z" fill="#ff1a1a"/>
<path d="M390.7,267.4 l3.8,0.9 l-1.1,0.9 l2.3,2.3 l-1.0,1.0 l-2.3,-2.3 l-0.9,1.1 Z" fill="#ff1a1a"/>
<path d="M403.2,267.4 l3.8,0.9 l-1.1,0.9 l2.3,2.3 l-1.0,1.0 l-2.3,-2.3 l-0.9,1.1 Z" fill="#ff1a1a"/>
<path d="M329.3,310.6 l3.8,0.9 l-1.1,0.9 l2.3,2.3 l-1.0,1.0 l-2.3,-2.3 l-0.9,1.1 Z" fill="#ff1a1a"/>
<path d="M420.1,314.9 l3.8,0.9 l-1.1,0.9 l2.3,2.3 l-1.0,1.0 l-2.3,-2.3 l-0.9,1.1 Z" fill="#ff1a1a"/>
<g clip-path="url(#hclip00)">
<rect x="62.7" y="771.0" width="108.3" height="80.7" filter="url(#hRed1)"/>
<rect x="62.7" y="771.0" width="108.3" height="80.7" filter="url(#hHaze)"/>
<g transform="rotate(-60 117 811)"><rect x="32.0" y="726.0" width="170" height="170" filter="url(#hFibL)"/></g>
<rect x="62.7" y="771.0" width="108.3" height="80.7" filter="url(#hSpk1)"/>
<path d="M107,808 L124,782 M150,830 L168,790" stroke="#b0bcd8" stroke-width="0.9" opacity="0.45"/>
</g>
<rect x="67.4" y="842.5" width="15.3" height="1.7" fill="#111"/>
<g clip-path="url(#hclip01)">
<rect x="172.2" y="771.0" width="108.4" height="80.7" filter="url(#hRedWT)"/>
<rect x="172.2" y="771.0" width="108.4" height="80.7" filter="url(#hBlueP)"/>
<rect x="172.2" y="771.0" width="108.4" height="80.7" filter="url(#hHaze)"/>
<rect x="172.2" y="771.0" width="108.4" height="80.7" filter="url(#hSpk3)"/>
<path d="M172,771 L192,771 L172,792 Z" fill="#c8b4c8" opacity="0.7" filter="url(#hb4)"/>
<path d="M235,771 L281,771 L281,835 L250,800 Z" fill="#8a6ca0" opacity="0.45" filter="url(#hb6)"/>
</g>
<g clip-path="url(#hclip02)">
<rect x="281.6" y="771.0" width="106.7" height="80.7" filter="url(#hRed2)"/>
<rect x="281.6" y="771.0" width="106.7" height="80.7" filter="url(#hHaze)"/>
<g transform="rotate(-30 335 811)"><rect x="250.0" y="726.0" width="170" height="170" filter="url(#hFibL2)"/></g>
<rect x="281.6" y="771.0" width="106.7" height="80.7" filter="url(#hSpk2)"/>
<path d="M330,852 L388,795 L388,852 Z" fill="#a898c8" opacity="0.35" filter="url(#hb6)"/>
</g>
<g clip-path="url(#hclip10)">
<rect x="62.7" y="852.7" width="108.3" height="79.8" filter="url(#hRed3)"/>
<rect x="62.7" y="852.7" width="108.3" height="79.8" filter="url(#hHaze)"/>
<g transform="rotate(-40 117 892)"><rect x="32.0" y="807.0" width="170" height="170" filter="url(#hFibL)"/></g>
<rect x="62.7" y="852.7" width="108.3" height="79.8" filter="url(#hSpk2)"/>
<path d="M60,865.6 L66,869.5 L70,872.9 L81.3,888.9 L94.1,908.2 L110.2,932.6 L60,933 Z" fill="#c3d2df"/>
<path d="M124,896 Q132,899 145,897 Q155,896 165,894" stroke="#d0d8ea" stroke-width="1.4" fill="none" opacity="0.75"/>
</g>
<g clip-path="url(#hclip11)">
<rect x="172.2" y="852.7" width="108.4" height="79.8" filter="url(#hRed3)"/>
<g transform="rotate(-20 226 892)"><rect x="126.0" y="832.0" width="200" height="120" filter="url(#hNetWT)"/></g>
<path d="M172,852 L205,852 Q190,858 172,878 Z" fill="#98a4c8" opacity="0.95" filter="url(#hb2)"/>
<path d="M178,872 Q205,856 240,856 Q265,858 281,866 L281,880 Q262,868 240,864 Q205,864 182,880 Z" fill="#98a0c8" opacity="0.55" filter="url(#hb2)"/>
<path d="M240,875 L281,866 L281,933 L225,933 Z" fill="#8a78b0" opacity="0.35" filter="url(#hb6)"/>
<rect x="172.2" y="852.7" width="108.4" height="79.8" filter="url(#hSpk3)"/>
</g>
<g clip-path="url(#hclip12)">
<rect x="281.6" y="852.7" width="106.7" height="79.8" filter="url(#hRed1)"/>
<rect x="281.6" y="852.7" width="106.7" height="79.8" filter="url(#hHaze)"/>
<rect x="281.6" y="852.7" width="106.7" height="79.8" filter="url(#hNetS)"/>
<rect x="281.6" y="852.7" width="106.7" height="79.8" filter="url(#hSpk1)"/>
<path d="M293,852 L304,852 Q305,870 311,885 L317,914 Q311,905 304,890 Q297,870 293,852 Z" fill="#d2dcec" filter="url(#hb1)"/>
<path d="M336,852 L372,886 M330,852 L350,880" stroke="#c0cae4" stroke-width="1.2" opacity="0.6"/>
<path d="M281,918 L289,933 L281,933 Z" fill="#c3d2df"/>
</g>
<g clip-path="url(#hclip20)">
<rect x="62.7" y="933.9" width="108.3" height="80.5" filter="url(#hRed2)"/>
<rect x="62.7" y="933.9" width="108.3" height="80.5" filter="url(#hHaze)"/>
<g transform="rotate(-50 117 974)"><rect x="32.0" y="889.0" width="170" height="170" filter="url(#hFibL)"/></g>
<g transform="rotate(-50 117 974)"><rect x="32.0" y="889.0" width="170" height="170" filter="url(#hFibL2)"/></g>
<rect x="62.7" y="933.9" width="108.3" height="80.5" filter="url(#hSpk3)"/>
<path d="M142,960 Q148,954 155,952 Q153,958 156,961 Q149,963 142,960 Z" fill="#c0c4e0" opacity="0.45" filter="url(#hb1)"/>
</g>
<g clip-path="url(#hclip21)">
<rect x="172.2" y="933.9" width="108.4" height="80.5" filter="url(#hRed3)"/>
<g transform="rotate(-45 226 974)"><rect x="136.0" y="884.0" width="180" height="180" filter="url(#hFibR)"/></g>
<g transform="rotate(-45 226 974)"><rect x="141.0" y="889.0" width="170" height="170" filter="url(#hFibL)"/></g>
<path d="M172,934 L198,934 Q188,950 186,965 Q182,985 176,1000 L172,1000 Z" fill="#9ca2c8" opacity="0.65" filter="url(#hb2)"/>
<path d="M178,1015 Q190,1000 205,988 Q225,972 250,956 Q252,964 240,974 Q228,988 222,1000 Q215,1008 212,1015 Z" fill="#a4a8cc" opacity="0.6" filter="url(#hb2)"/>
<path d="M200,992 Q212,985 222,990 Q215,998 205,998 Z" fill="#d0d4e8" opacity="0.35" filter="url(#hb1)"/>
<path d="M179,935 L188,935 L185,943 L179,941 Z" fill="#dfe2ee" opacity="0.7" filter="url(#hb1)"/>
<path d="M250,950 L275,936 M255,965 L280,950 M262,985 L281,975" stroke="#d8dcec" stroke-width="1" opacity="0.5"/>
<rect x="172.2" y="933.9" width="108.4" height="80.5" filter="url(#hSpk3)"/>
</g>
<g clip-path="url(#hclip22)">
<rect x="281.6" y="933.9" width="106.7" height="80.5" filter="url(#hRed1)"/>
<rect x="281.6" y="933.9" width="106.7" height="80.5" filter="url(#hHaze)"/>
<g transform="rotate(-10 335 974)"><rect x="250.0" y="889.0" width="170" height="170" filter="url(#hFibL2)"/></g>
<rect x="281.6" y="933.9" width="106.7" height="80.5" filter="url(#hSpk1)"/>
<path d="M280,952 Q288,954 294,960 Q290,966 280,966 Z" fill="#b8c0de" opacity="0.7" filter="url(#hb2)"/>
<path d="M330,970 Q340,960 352,956 Q362,956 366,962 Q358,968 348,972 Q338,976 330,970 Z" fill="#b8c0e0" opacity="0.65" filter="url(#hb2)"/>
<path d="M304,942 Q316,946 328,950 M296,974 Q303,975 310,976 M302,996 Q316,1000 328,1004 M363,995 Q373,998 383,1001 M300,940 Q340,938 388,942" stroke="#b8c0de" stroke-width="1.3" fill="none" opacity="0.45"/>
</g>
</svg></body></html>
